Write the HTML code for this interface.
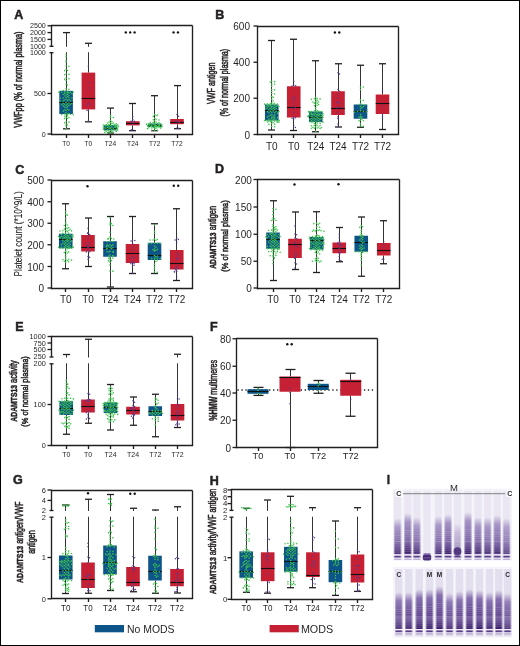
<!DOCTYPE html>
<html><head><meta charset="utf-8"><style>
html,body{margin:0;padding:0;background:#fff;}
#f{position:relative;width:518px;height:644px;border:1px solid #000;overflow:hidden;background:#fff}
svg{position:absolute;left:-1px;top:-1px;will-change:transform}
text{font-family:"Liberation Sans",sans-serif}
</style></head><body><div id="f"><svg width="520" height="646" viewBox="0 0 520 646" font-family="Liberation Sans, sans-serif">
<text x="14.30" y="18.70" font-size="12.5" text-anchor="start" font-weight="bold" fill="#231f20" stroke="#231f20" stroke-width="0.5">A</text>
<line x1="51.50" y1="25.50" x2="192.50" y2="25.50" stroke="#231f20" stroke-width="1.35" />
<line x1="192.50" y1="25.50" x2="192.50" y2="134.50" stroke="#231f20" stroke-width="1.35" />
<line x1="50.83" y1="134.50" x2="193.18" y2="134.50" stroke="#231f20" stroke-width="1.35" />
<line x1="51.50" y1="24.82" x2="51.50" y2="46.30" stroke="#231f20" stroke-width="1.35" />
<line x1="51.50" y1="52.70" x2="51.50" y2="134.50" stroke="#231f20" stroke-width="1.35" />
<line x1="49.50" y1="46.30" x2="53.50" y2="46.30" stroke="#231f20" stroke-width="1.35" />
<line x1="49.50" y1="52.70" x2="53.50" y2="52.70" stroke="#231f20" stroke-width="1.35" />
<line x1="47.50" y1="25.80" x2="51.50" y2="25.80" stroke="#231f20" stroke-width="1.35" />
<text x="45.80" y="28.36" font-size="7.1" text-anchor="end" font-weight="normal" fill="#231f20" >2500</text>
<line x1="47.50" y1="32.60" x2="51.50" y2="32.60" stroke="#231f20" stroke-width="1.35" />
<text x="45.80" y="35.16" font-size="7.1" text-anchor="end" font-weight="normal" fill="#231f20" >2000</text>
<line x1="47.50" y1="39.40" x2="51.50" y2="39.40" stroke="#231f20" stroke-width="1.35" />
<text x="45.80" y="41.96" font-size="7.1" text-anchor="end" font-weight="normal" fill="#231f20" >1500</text>
<text x="45.80" y="48.86" font-size="7.1" text-anchor="end" font-weight="normal" fill="#231f20" >1000</text>
<text x="45.80" y="55.26" font-size="7.1" text-anchor="end" font-weight="normal" fill="#231f20" >1000</text>
<line x1="47.50" y1="93.50" x2="51.50" y2="93.50" stroke="#231f20" stroke-width="1.35" />
<text x="45.80" y="96.06" font-size="7.1" text-anchor="end" font-weight="normal" fill="#231f20" >500</text>
<line x1="47.50" y1="134.00" x2="51.50" y2="134.00" stroke="#231f20" stroke-width="1.35" />
<text x="45.80" y="136.56" font-size="7.1" text-anchor="end" font-weight="normal" fill="#231f20" >0</text>
<line x1="66.50" y1="32.60" x2="66.50" y2="46.80" stroke="#333" stroke-width="1" />
<line x1="66.50" y1="52.20" x2="66.50" y2="90.80" stroke="#333" stroke-width="1" />
<line x1="66.50" y1="114.00" x2="66.50" y2="128.80" stroke="#333" stroke-width="1" />
<line x1="63.00" y1="32.60" x2="70.00" y2="32.60" stroke="#231f20" stroke-width="1.3" />
<line x1="63.00" y1="128.80" x2="70.00" y2="128.80" stroke="#231f20" stroke-width="1.3" />
<rect x="59.30" y="90.80" width="13.60" height="23.20" fill="#0d5489"/>
<line x1="59.30" y1="102.50" x2="72.90" y2="102.50" stroke="#111" stroke-width="1.1" />
<circle cx="66.10" cy="54.78" r="0.8" fill="#3fc44d"/>
<circle cx="66.10" cy="56.72" r="0.8" fill="#3fc44d"/>
<circle cx="66.10" cy="60.39" r="0.8" fill="#3fc44d"/>
<circle cx="66.10" cy="62.22" r="0.8" fill="#3fc44d"/>
<circle cx="66.10" cy="65.98" r="0.8" fill="#3fc44d"/>
<circle cx="68.98" cy="66.34" r="0.8" fill="#3fc44d"/>
<circle cx="66.10" cy="69.28" r="0.8" fill="#3fc44d"/>
<circle cx="67.54" cy="70.52" r="0.8" fill="#3fc44d"/>
<circle cx="64.66" cy="70.71" r="0.8" fill="#3fc44d"/>
<circle cx="66.10" cy="73.79" r="0.8" fill="#3fc44d"/>
<circle cx="68.98" cy="74.41" r="0.8" fill="#3fc44d"/>
<circle cx="64.66" cy="74.70" r="0.8" fill="#3fc44d"/>
<circle cx="66.10" cy="78.11" r="0.8" fill="#3fc44d"/>
<circle cx="68.98" cy="78.68" r="0.8" fill="#3fc44d"/>
<circle cx="64.66" cy="79.36" r="0.8" fill="#3fc44d"/>
<circle cx="66.10" cy="80.76" r="0.8" fill="#3fc44d"/>
<circle cx="66.10" cy="84.28" r="0.8" fill="#3fc44d"/>
<circle cx="67.54" cy="85.06" r="0.8" fill="#3fc44d"/>
<circle cx="66.10" cy="88.60" r="0.8" fill="#3fc44d"/>
<circle cx="68.98" cy="89.29" r="0.8" fill="#3fc44d"/>
<circle cx="66.10" cy="90.25" r="0.8" fill="#3fc44d"/>
<circle cx="63.22" cy="90.51" r="0.8" fill="#3fc44d"/>
<circle cx="67.54" cy="91.67" r="0.8" fill="#3fc44d"/>
<circle cx="64.66" cy="91.88" r="0.8" fill="#3fc44d"/>
<circle cx="70.42" cy="92.15" r="0.8" fill="#3fc44d"/>
<circle cx="61.78" cy="92.18" r="0.8" fill="#3fc44d"/>
<circle cx="73.30" cy="92.26" r="0.8" fill="#3fc44d"/>
<circle cx="58.90" cy="92.42" r="0.8" fill="#3fc44d"/>
<circle cx="66.92" cy="92.48" r="0.8" fill="#3fc44d"/>
<circle cx="68.98" cy="92.90" r="0.8" fill="#3fc44d"/>
<circle cx="64.66" cy="93.53" r="0.8" fill="#3fc44d"/>
<circle cx="71.86" cy="93.67" r="0.8" fill="#3fc44d"/>
<circle cx="67.54" cy="94.15" r="0.8" fill="#3fc44d"/>
<circle cx="63.22" cy="94.30" r="0.8" fill="#3fc44d"/>
<circle cx="66.10" cy="94.99" r="0.8" fill="#3fc44d"/>
<circle cx="68.98" cy="95.58" r="0.8" fill="#3fc44d"/>
<circle cx="64.66" cy="95.98" r="0.8" fill="#3fc44d"/>
<circle cx="67.54" cy="96.46" r="0.8" fill="#3fc44d"/>
<circle cx="66.10" cy="97.52" r="0.8" fill="#3fc44d"/>
<circle cx="68.98" cy="97.75" r="0.8" fill="#3fc44d"/>
<circle cx="63.22" cy="97.96" r="0.8" fill="#3fc44d"/>
<circle cx="71.86" cy="98.09" r="0.8" fill="#3fc44d"/>
<circle cx="60.34" cy="98.31" r="0.8" fill="#3fc44d"/>
<circle cx="66.10" cy="99.28" r="0.8" fill="#3fc44d"/>
<circle cx="68.98" cy="99.44" r="0.8" fill="#3fc44d"/>
<circle cx="64.66" cy="100.00" r="0.8" fill="#3fc44d"/>
<circle cx="67.54" cy="100.65" r="0.8" fill="#3fc44d"/>
<circle cx="63.22" cy="100.72" r="0.8" fill="#3fc44d"/>
<circle cx="70.42" cy="100.86" r="0.8" fill="#3fc44d"/>
<circle cx="60.34" cy="101.31" r="0.8" fill="#3fc44d"/>
<circle cx="66.10" cy="102.57" r="0.8" fill="#3fc44d"/>
<circle cx="68.98" cy="102.98" r="0.8" fill="#3fc44d"/>
<circle cx="63.22" cy="103.23" r="0.8" fill="#3fc44d"/>
<circle cx="71.86" cy="103.51" r="0.8" fill="#3fc44d"/>
<circle cx="67.54" cy="104.13" r="0.8" fill="#3fc44d"/>
<circle cx="64.66" cy="104.19" r="0.8" fill="#3fc44d"/>
<circle cx="70.42" cy="104.29" r="0.8" fill="#3fc44d"/>
<circle cx="61.78" cy="104.39" r="0.8" fill="#3fc44d"/>
<circle cx="66.10" cy="105.36" r="0.8" fill="#3fc44d"/>
<circle cx="68.98" cy="105.62" r="0.8" fill="#3fc44d"/>
<circle cx="63.22" cy="105.90" r="0.8" fill="#3fc44d"/>
<circle cx="67.54" cy="106.59" r="0.8" fill="#3fc44d"/>
<circle cx="64.66" cy="107.02" r="0.8" fill="#3fc44d"/>
<circle cx="66.10" cy="107.72" r="0.8" fill="#3fc44d"/>
<circle cx="67.54" cy="109.23" r="0.8" fill="#3fc44d"/>
<circle cx="64.66" cy="109.73" r="0.8" fill="#3fc44d"/>
<circle cx="68.98" cy="109.98" r="0.8" fill="#3fc44d"/>
<circle cx="66.10" cy="110.72" r="0.8" fill="#3fc44d"/>
<circle cx="63.22" cy="111.10" r="0.8" fill="#3fc44d"/>
<circle cx="66.10" cy="112.79" r="0.8" fill="#3fc44d"/>
<circle cx="68.98" cy="113.45" r="0.8" fill="#3fc44d"/>
<circle cx="64.66" cy="114.05" r="0.8" fill="#3fc44d"/>
<circle cx="67.54" cy="114.21" r="0.8" fill="#3fc44d"/>
<circle cx="70.42" cy="114.34" r="0.8" fill="#3fc44d"/>
<circle cx="61.78" cy="114.59" r="0.8" fill="#3fc44d"/>
<circle cx="73.30" cy="114.69" r="0.8" fill="#3fc44d"/>
<circle cx="66.10" cy="115.02" r="0.8" fill="#3fc44d"/>
<circle cx="67.54" cy="115.82" r="0.8" fill="#3fc44d"/>
<circle cx="64.66" cy="116.25" r="0.8" fill="#3fc44d"/>
<circle cx="66.10" cy="117.55" r="0.8" fill="#3fc44d"/>
<circle cx="68.98" cy="117.62" r="0.8" fill="#3fc44d"/>
<circle cx="67.54" cy="118.46" r="0.8" fill="#3fc44d"/>
<circle cx="64.66" cy="118.64" r="0.8" fill="#3fc44d"/>
<circle cx="66.10" cy="121.70" r="0.8" fill="#3fc44d"/>
<circle cx="68.98" cy="122.09" r="0.8" fill="#3fc44d"/>
<circle cx="64.66" cy="122.70" r="0.8" fill="#3fc44d"/>
<circle cx="66.10" cy="123.97" r="0.8" fill="#3fc44d"/>
<circle cx="67.54" cy="125.03" r="0.8" fill="#3fc44d"/>
<circle cx="66.10" cy="126.04" r="0.8" fill="#3fc44d"/>
<circle cx="66.10" cy="128.65" r="0.8" fill="#3fc44d"/>
<line x1="66.50" y1="134.50" x2="66.50" y2="138.00" stroke="#231f20" stroke-width="1.35" />
<line x1="88.50" y1="43.30" x2="88.50" y2="46.80" stroke="#333" stroke-width="1" />
<line x1="88.50" y1="52.20" x2="88.50" y2="72.60" stroke="#333" stroke-width="1" />
<line x1="88.50" y1="109.40" x2="88.50" y2="121.80" stroke="#333" stroke-width="1" />
<line x1="85.00" y1="43.30" x2="92.00" y2="43.30" stroke="#231f20" stroke-width="1.3" />
<line x1="85.00" y1="121.80" x2="92.00" y2="121.80" stroke="#231f20" stroke-width="1.3" />
<rect x="81.60" y="72.60" width="13.60" height="36.80" fill="#c52033"/>
<line x1="81.60" y1="98.50" x2="95.20" y2="98.50" stroke="#111" stroke-width="1.1" />
<circle cx="88.40" cy="66.30" r="0.75" fill="#5b3a8e"/>
<circle cx="88.40" cy="82.85" r="0.75" fill="#5b3a8e"/>
<circle cx="88.40" cy="87.88" r="0.75" fill="#5b3a8e"/>
<circle cx="88.40" cy="102.75" r="0.75" fill="#5b3a8e"/>
<circle cx="90.02" cy="104.39" r="0.75" fill="#5b3a8e"/>
<circle cx="86.78" cy="105.11" r="0.75" fill="#5b3a8e"/>
<circle cx="88.40" cy="110.13" r="0.75" fill="#5b3a8e"/>
<circle cx="87.06" cy="110.32" r="0.75" fill="#5b3a8e"/>
<circle cx="88.40" cy="121.02" r="0.75" fill="#5b3a8e"/>
<line x1="88.50" y1="134.50" x2="88.50" y2="138.00" stroke="#231f20" stroke-width="1.35" />
<line x1="110.50" y1="108.10" x2="110.50" y2="125.00" stroke="#333" stroke-width="1" />
<line x1="110.50" y1="130.30" x2="110.50" y2="133.00" stroke="#333" stroke-width="1" />
<line x1="107.00" y1="108.10" x2="114.00" y2="108.10" stroke="#231f20" stroke-width="1.3" />
<line x1="107.00" y1="133.00" x2="114.00" y2="133.00" stroke="#231f20" stroke-width="1.3" />
<rect x="103.70" y="125.00" width="13.60" height="5.30" fill="#0d5489"/>
<line x1="103.70" y1="128.50" x2="117.30" y2="128.50" stroke="#111" stroke-width="1.1" />
<circle cx="110.50" cy="115.50" r="0.8" fill="#3fc44d"/>
<circle cx="110.50" cy="117.15" r="0.8" fill="#3fc44d"/>
<circle cx="113.38" cy="117.49" r="0.8" fill="#3fc44d"/>
<circle cx="110.50" cy="120.38" r="0.8" fill="#3fc44d"/>
<circle cx="111.94" cy="121.77" r="0.8" fill="#3fc44d"/>
<circle cx="109.06" cy="121.95" r="0.8" fill="#3fc44d"/>
<circle cx="110.50" cy="122.89" r="0.8" fill="#3fc44d"/>
<circle cx="113.38" cy="123.03" r="0.8" fill="#3fc44d"/>
<circle cx="107.62" cy="123.07" r="0.8" fill="#3fc44d"/>
<circle cx="116.26" cy="123.69" r="0.8" fill="#3fc44d"/>
<circle cx="111.94" cy="123.78" r="0.8" fill="#3fc44d"/>
<circle cx="109.06" cy="124.45" r="0.8" fill="#3fc44d"/>
<circle cx="114.82" cy="124.59" r="0.8" fill="#3fc44d"/>
<circle cx="106.18" cy="124.69" r="0.8" fill="#3fc44d"/>
<circle cx="117.70" cy="124.76" r="0.8" fill="#3fc44d"/>
<circle cx="103.30" cy="125.00" r="0.8" fill="#3fc44d"/>
<circle cx="106.53" cy="125.02" r="0.8" fill="#3fc44d"/>
<circle cx="108.29" cy="125.14" r="0.8" fill="#3fc44d"/>
<circle cx="110.50" cy="125.28" r="0.8" fill="#3fc44d"/>
<circle cx="113.38" cy="125.29" r="0.8" fill="#3fc44d"/>
<circle cx="104.97" cy="125.33" r="0.8" fill="#3fc44d"/>
<circle cx="115.01" cy="125.36" r="0.8" fill="#3fc44d"/>
<circle cx="111.04" cy="125.54" r="0.8" fill="#3fc44d"/>
<circle cx="115.13" cy="125.55" r="0.8" fill="#3fc44d"/>
<circle cx="107.67" cy="125.80" r="0.8" fill="#3fc44d"/>
<circle cx="105.90" cy="125.86" r="0.8" fill="#3fc44d"/>
<circle cx="115.67" cy="126.11" r="0.8" fill="#3fc44d"/>
<circle cx="118.55" cy="126.24" r="0.8" fill="#3fc44d"/>
<circle cx="116.35" cy="126.39" r="0.8" fill="#3fc44d"/>
<circle cx="109.06" cy="126.80" r="0.8" fill="#3fc44d"/>
<circle cx="111.94" cy="126.93" r="0.8" fill="#3fc44d"/>
<circle cx="103.30" cy="126.96" r="0.8" fill="#3fc44d"/>
<circle cx="115.58" cy="127.08" r="0.8" fill="#3fc44d"/>
<circle cx="115.78" cy="127.11" r="0.8" fill="#3fc44d"/>
<circle cx="114.48" cy="127.22" r="0.8" fill="#3fc44d"/>
<circle cx="107.62" cy="127.57" r="0.8" fill="#3fc44d"/>
<circle cx="110.50" cy="127.73" r="0.8" fill="#3fc44d"/>
<circle cx="104.74" cy="128.00" r="0.8" fill="#3fc44d"/>
<circle cx="117.70" cy="128.12" r="0.8" fill="#3fc44d"/>
<circle cx="105.96" cy="128.27" r="0.8" fill="#3fc44d"/>
<circle cx="110.79" cy="128.36" r="0.8" fill="#3fc44d"/>
<circle cx="109.06" cy="128.58" r="0.8" fill="#3fc44d"/>
<circle cx="113.38" cy="128.66" r="0.8" fill="#3fc44d"/>
<circle cx="116.26" cy="129.13" r="0.8" fill="#3fc44d"/>
<circle cx="103.30" cy="129.23" r="0.8" fill="#3fc44d"/>
<circle cx="111.94" cy="129.63" r="0.8" fill="#3fc44d"/>
<circle cx="107.62" cy="129.77" r="0.8" fill="#3fc44d"/>
<circle cx="114.82" cy="130.05" r="0.8" fill="#3fc44d"/>
<circle cx="104.74" cy="130.31" r="0.8" fill="#3fc44d"/>
<circle cx="117.70" cy="130.31" r="0.8" fill="#3fc44d"/>
<circle cx="110.50" cy="130.45" r="0.8" fill="#3fc44d"/>
<circle cx="108.10" cy="130.48" r="0.8" fill="#3fc44d"/>
<circle cx="111.94" cy="131.34" r="0.8" fill="#3fc44d"/>
<circle cx="106.18" cy="131.34" r="0.8" fill="#3fc44d"/>
<circle cx="116.26" cy="131.38" r="0.8" fill="#3fc44d"/>
<circle cx="109.06" cy="131.87" r="0.8" fill="#3fc44d"/>
<circle cx="113.38" cy="132.34" r="0.8" fill="#3fc44d"/>
<circle cx="104.74" cy="132.47" r="0.8" fill="#3fc44d"/>
<circle cx="110.50" cy="132.80" r="0.8" fill="#3fc44d"/>
<circle cx="107.62" cy="132.91" r="0.8" fill="#3fc44d"/>
<line x1="110.50" y1="134.50" x2="110.50" y2="138.00" stroke="#231f20" stroke-width="1.35" />
<line x1="132.50" y1="103.50" x2="132.50" y2="121.20" stroke="#333" stroke-width="1" />
<line x1="132.50" y1="125.40" x2="132.50" y2="130.70" stroke="#333" stroke-width="1" />
<line x1="129.00" y1="103.50" x2="136.00" y2="103.50" stroke="#231f20" stroke-width="1.3" />
<line x1="129.00" y1="130.70" x2="136.00" y2="130.70" stroke="#231f20" stroke-width="1.3" />
<rect x="126.00" y="121.20" width="13.60" height="4.20" fill="#c52033"/>
<line x1="126.00" y1="123.50" x2="139.60" y2="123.50" stroke="#111" stroke-width="1.1" />
<circle cx="132.80" cy="116.71" r="0.75" fill="#5b3a8e"/>
<circle cx="132.80" cy="119.76" r="0.75" fill="#5b3a8e"/>
<circle cx="134.42" cy="121.32" r="0.75" fill="#5b3a8e"/>
<circle cx="131.18" cy="121.32" r="0.75" fill="#5b3a8e"/>
<circle cx="132.80" cy="122.29" r="0.75" fill="#5b3a8e"/>
<circle cx="132.12" cy="122.37" r="0.75" fill="#5b3a8e"/>
<circle cx="132.80" cy="124.11" r="0.75" fill="#5b3a8e"/>
<circle cx="132.80" cy="129.75" r="0.75" fill="#5b3a8e"/>
<circle cx="131.40" cy="129.88" r="0.75" fill="#5b3a8e"/>
<circle cx="131.43" cy="130.11" r="0.75" fill="#5b3a8e"/>
<line x1="132.50" y1="134.50" x2="132.50" y2="138.00" stroke="#231f20" stroke-width="1.35" />
<line x1="154.50" y1="95.70" x2="154.50" y2="123.60" stroke="#333" stroke-width="1" />
<line x1="154.50" y1="127.00" x2="154.50" y2="130.70" stroke="#333" stroke-width="1" />
<line x1="151.00" y1="95.70" x2="158.00" y2="95.70" stroke="#231f20" stroke-width="1.3" />
<line x1="151.00" y1="130.70" x2="158.00" y2="130.70" stroke="#231f20" stroke-width="1.3" />
<rect x="147.90" y="123.60" width="13.60" height="3.40" fill="#0d5489"/>
<line x1="147.90" y1="125.50" x2="161.50" y2="125.50" stroke="#111" stroke-width="1.1" />
<circle cx="154.70" cy="114.42" r="0.8" fill="#3fc44d"/>
<circle cx="157.58" cy="114.94" r="0.8" fill="#3fc44d"/>
<circle cx="156.14" cy="115.79" r="0.8" fill="#3fc44d"/>
<circle cx="153.26" cy="116.39" r="0.8" fill="#3fc44d"/>
<circle cx="154.70" cy="118.57" r="0.8" fill="#3fc44d"/>
<circle cx="156.14" cy="119.29" r="0.8" fill="#3fc44d"/>
<circle cx="153.26" cy="119.70" r="0.8" fill="#3fc44d"/>
<circle cx="159.02" cy="119.93" r="0.8" fill="#3fc44d"/>
<circle cx="154.70" cy="120.86" r="0.8" fill="#3fc44d"/>
<circle cx="156.14" cy="122.08" r="0.8" fill="#3fc44d"/>
<circle cx="153.26" cy="122.39" r="0.8" fill="#3fc44d"/>
<circle cx="159.02" cy="122.47" r="0.8" fill="#3fc44d"/>
<circle cx="150.38" cy="122.67" r="0.8" fill="#3fc44d"/>
<circle cx="154.70" cy="123.14" r="0.8" fill="#3fc44d"/>
<circle cx="157.58" cy="123.58" r="0.8" fill="#3fc44d"/>
<circle cx="151.82" cy="123.89" r="0.8" fill="#3fc44d"/>
<circle cx="160.46" cy="124.03" r="0.8" fill="#3fc44d"/>
<circle cx="148.94" cy="124.10" r="0.8" fill="#3fc44d"/>
<circle cx="155.09" cy="124.11" r="0.8" fill="#3fc44d"/>
<circle cx="146.71" cy="124.18" r="0.8" fill="#3fc44d"/>
<circle cx="153.71" cy="124.21" r="0.8" fill="#3fc44d"/>
<circle cx="149.44" cy="124.27" r="0.8" fill="#3fc44d"/>
<circle cx="146.47" cy="124.29" r="0.8" fill="#3fc44d"/>
<circle cx="159.02" cy="124.73" r="0.8" fill="#3fc44d"/>
<circle cx="161.90" cy="124.79" r="0.8" fill="#3fc44d"/>
<circle cx="159.67" cy="124.95" r="0.8" fill="#3fc44d"/>
<circle cx="149.26" cy="124.96" r="0.8" fill="#3fc44d"/>
<circle cx="154.26" cy="125.23" r="0.8" fill="#3fc44d"/>
<circle cx="158.44" cy="125.23" r="0.8" fill="#3fc44d"/>
<circle cx="156.14" cy="125.72" r="0.8" fill="#3fc44d"/>
<circle cx="151.82" cy="125.82" r="0.8" fill="#3fc44d"/>
<circle cx="147.50" cy="125.83" r="0.8" fill="#3fc44d"/>
<circle cx="155.64" cy="125.85" r="0.8" fill="#3fc44d"/>
<circle cx="151.81" cy="126.06" r="0.8" fill="#3fc44d"/>
<circle cx="155.00" cy="126.15" r="0.8" fill="#3fc44d"/>
<circle cx="155.62" cy="126.26" r="0.8" fill="#3fc44d"/>
<circle cx="159.42" cy="126.28" r="0.8" fill="#3fc44d"/>
<circle cx="148.16" cy="126.32" r="0.8" fill="#3fc44d"/>
<circle cx="155.70" cy="126.32" r="0.8" fill="#3fc44d"/>
<circle cx="150.53" cy="126.34" r="0.8" fill="#3fc44d"/>
<circle cx="161.90" cy="126.41" r="0.8" fill="#3fc44d"/>
<circle cx="151.00" cy="126.46" r="0.8" fill="#3fc44d"/>
<circle cx="157.58" cy="126.66" r="0.8" fill="#3fc44d"/>
<circle cx="159.22" cy="126.68" r="0.8" fill="#3fc44d"/>
<circle cx="154.83" cy="126.69" r="0.8" fill="#3fc44d"/>
<circle cx="155.72" cy="126.82" r="0.8" fill="#3fc44d"/>
<circle cx="159.02" cy="126.90" r="0.8" fill="#3fc44d"/>
<circle cx="161.55" cy="126.93" r="0.8" fill="#3fc44d"/>
<circle cx="153.26" cy="127.18" r="0.8" fill="#3fc44d"/>
<circle cx="153.76" cy="127.49" r="0.8" fill="#3fc44d"/>
<circle cx="148.94" cy="127.78" r="0.8" fill="#3fc44d"/>
<circle cx="151.82" cy="128.00" r="0.8" fill="#3fc44d"/>
<circle cx="156.57" cy="128.01" r="0.8" fill="#3fc44d"/>
<circle cx="160.46" cy="128.15" r="0.8" fill="#3fc44d"/>
<circle cx="154.79" cy="128.31" r="0.8" fill="#3fc44d"/>
<circle cx="154.90" cy="128.44" r="0.8" fill="#3fc44d"/>
<circle cx="147.50" cy="128.65" r="0.8" fill="#3fc44d"/>
<circle cx="154.70" cy="130.18" r="0.8" fill="#3fc44d"/>
<circle cx="157.58" cy="130.21" r="0.8" fill="#3fc44d"/>
<circle cx="151.82" cy="130.25" r="0.8" fill="#3fc44d"/>
<line x1="154.50" y1="134.50" x2="154.50" y2="138.00" stroke="#231f20" stroke-width="1.35" />
<line x1="177.50" y1="85.60" x2="177.50" y2="119.00" stroke="#333" stroke-width="1" />
<line x1="177.50" y1="124.20" x2="177.50" y2="128.70" stroke="#333" stroke-width="1" />
<line x1="174.00" y1="85.60" x2="181.00" y2="85.60" stroke="#231f20" stroke-width="1.3" />
<line x1="174.00" y1="128.70" x2="181.00" y2="128.70" stroke="#231f20" stroke-width="1.3" />
<rect x="170.20" y="119.00" width="13.60" height="5.20" fill="#c52033"/>
<line x1="170.20" y1="122.50" x2="183.80" y2="122.50" stroke="#111" stroke-width="1.1" />
<circle cx="177.00" cy="114.61" r="0.75" fill="#5b3a8e"/>
<circle cx="178.62" cy="116.19" r="0.75" fill="#5b3a8e"/>
<circle cx="177.00" cy="121.35" r="0.75" fill="#5b3a8e"/>
<circle cx="175.80" cy="121.49" r="0.75" fill="#5b3a8e"/>
<circle cx="177.30" cy="121.77" r="0.75" fill="#5b3a8e"/>
<circle cx="179.22" cy="122.60" r="0.75" fill="#5b3a8e"/>
<circle cx="177.00" cy="127.89" r="0.75" fill="#5b3a8e"/>
<circle cx="178.70" cy="128.32" r="0.75" fill="#5b3a8e"/>
<line x1="177.50" y1="134.50" x2="177.50" y2="138.00" stroke="#231f20" stroke-width="1.35" />
<text transform="translate(66.10,145.70) scale(1,1)" font-size="6.6" text-anchor="middle" fill="#231f20">T0</text>
<text transform="translate(88.40,145.70) scale(1,1)" font-size="6.6" text-anchor="middle" fill="#231f20">T0</text>
<text transform="translate(110.50,145.70) scale(1,1)" font-size="6.6" text-anchor="middle" fill="#231f20">T24</text>
<text transform="translate(132.80,145.70) scale(1,1)" font-size="6.6" text-anchor="middle" fill="#231f20">T24</text>
<text transform="translate(154.70,145.70) scale(1,1)" font-size="6.6" text-anchor="middle" fill="#231f20">T72</text>
<text transform="translate(177.00,145.70) scale(1,1)" font-size="6.6" text-anchor="middle" fill="#231f20">T72</text>
<circle cx="125.80" cy="32.40" r="1.2" fill="#111"/>
<circle cx="130.20" cy="32.40" r="1.2" fill="#111"/>
<circle cx="134.60" cy="32.40" r="1.2" fill="#111"/>
<circle cx="173.55" cy="32.40" r="1.2" fill="#111"/>
<circle cx="177.95" cy="32.40" r="1.2" fill="#111"/>
<text x="0" y="0" transform="translate(22.00,79.60) rotate(-90)" font-size="10.5" text-anchor="middle" fill="#231f20" stroke="#231f20" stroke-width="0.5" textLength="96.3" lengthAdjust="spacingAndGlyphs">VWFpp (% of normal plasma)</text>
<text x="215.30" y="18.70" font-size="12.5" text-anchor="start" font-weight="bold" fill="#231f20" stroke="#231f20" stroke-width="0.5">B</text>
<line x1="257.50" y1="26.50" x2="398.50" y2="26.50" stroke="#231f20" stroke-width="1.35" />
<line x1="398.50" y1="26.50" x2="398.50" y2="134.50" stroke="#231f20" stroke-width="1.35" />
<line x1="256.82" y1="134.50" x2="399.18" y2="134.50" stroke="#231f20" stroke-width="1.35" />
<line x1="257.50" y1="25.82" x2="257.50" y2="135.18" stroke="#231f20" stroke-width="1.35" />
<line x1="253.50" y1="26.00" x2="257.50" y2="26.00" stroke="#231f20" stroke-width="1.35" />
<text x="250.00" y="30.20" font-size="10" text-anchor="end" font-weight="normal" fill="#231f20" >600</text>
<line x1="253.50" y1="62.25" x2="257.50" y2="62.25" stroke="#231f20" stroke-width="1.35" />
<text x="250.00" y="66.45" font-size="10" text-anchor="end" font-weight="normal" fill="#231f20" >400</text>
<line x1="253.50" y1="98.25" x2="257.50" y2="98.25" stroke="#231f20" stroke-width="1.35" />
<text x="250.00" y="102.45" font-size="10" text-anchor="end" font-weight="normal" fill="#231f20" >200</text>
<line x1="253.50" y1="134.50" x2="257.50" y2="134.50" stroke="#231f20" stroke-width="1.35" />
<text x="250.00" y="138.70" font-size="10" text-anchor="end" font-weight="normal" fill="#231f20" >0</text>
<line x1="271.50" y1="40.50" x2="271.50" y2="104.50" stroke="#333" stroke-width="1" />
<line x1="271.50" y1="120.50" x2="271.50" y2="130.00" stroke="#333" stroke-width="1" />
<line x1="268.00" y1="40.50" x2="275.00" y2="40.50" stroke="#231f20" stroke-width="1.3" />
<line x1="268.00" y1="130.00" x2="275.00" y2="130.00" stroke="#231f20" stroke-width="1.3" />
<rect x="264.95" y="104.50" width="13.60" height="16.00" fill="#0d5489"/>
<line x1="264.95" y1="110.50" x2="278.55" y2="110.50" stroke="#111" stroke-width="1.1" />
<circle cx="271.75" cy="81.23" r="0.8" fill="#3fc44d"/>
<circle cx="274.63" cy="81.66" r="0.8" fill="#3fc44d"/>
<circle cx="270.31" cy="81.94" r="0.8" fill="#3fc44d"/>
<circle cx="271.75" cy="83.98" r="0.8" fill="#3fc44d"/>
<circle cx="274.63" cy="84.22" r="0.8" fill="#3fc44d"/>
<circle cx="271.75" cy="86.13" r="0.8" fill="#3fc44d"/>
<circle cx="271.75" cy="89.49" r="0.8" fill="#3fc44d"/>
<circle cx="274.63" cy="89.88" r="0.8" fill="#3fc44d"/>
<circle cx="271.75" cy="91.56" r="0.8" fill="#3fc44d"/>
<circle cx="271.75" cy="93.47" r="0.8" fill="#3fc44d"/>
<circle cx="274.63" cy="93.97" r="0.8" fill="#3fc44d"/>
<circle cx="271.75" cy="96.67" r="0.8" fill="#3fc44d"/>
<circle cx="273.19" cy="97.40" r="0.8" fill="#3fc44d"/>
<circle cx="271.75" cy="99.44" r="0.8" fill="#3fc44d"/>
<circle cx="273.19" cy="100.95" r="0.8" fill="#3fc44d"/>
<circle cx="271.75" cy="103.02" r="0.8" fill="#3fc44d"/>
<circle cx="274.63" cy="103.31" r="0.8" fill="#3fc44d"/>
<circle cx="270.31" cy="103.81" r="0.8" fill="#3fc44d"/>
<circle cx="267.43" cy="103.88" r="0.8" fill="#3fc44d"/>
<circle cx="277.51" cy="104.00" r="0.8" fill="#3fc44d"/>
<circle cx="273.19" cy="104.06" r="0.8" fill="#3fc44d"/>
<circle cx="264.55" cy="104.15" r="0.8" fill="#3fc44d"/>
<circle cx="271.75" cy="104.79" r="0.8" fill="#3fc44d"/>
<circle cx="268.87" cy="104.81" r="0.8" fill="#3fc44d"/>
<circle cx="274.63" cy="105.13" r="0.8" fill="#3fc44d"/>
<circle cx="270.31" cy="105.53" r="0.8" fill="#3fc44d"/>
<circle cx="267.43" cy="105.66" r="0.8" fill="#3fc44d"/>
<circle cx="277.51" cy="105.67" r="0.8" fill="#3fc44d"/>
<circle cx="273.19" cy="106.18" r="0.8" fill="#3fc44d"/>
<circle cx="268.87" cy="106.45" r="0.8" fill="#3fc44d"/>
<circle cx="276.07" cy="106.57" r="0.8" fill="#3fc44d"/>
<circle cx="265.99" cy="106.69" r="0.8" fill="#3fc44d"/>
<circle cx="278.95" cy="106.79" r="0.8" fill="#3fc44d"/>
<circle cx="271.75" cy="106.97" r="0.8" fill="#3fc44d"/>
<circle cx="271.33" cy="107.08" r="0.8" fill="#3fc44d"/>
<circle cx="274.63" cy="107.63" r="0.8" fill="#3fc44d"/>
<circle cx="267.43" cy="108.01" r="0.8" fill="#3fc44d"/>
<circle cx="273.19" cy="108.35" r="0.8" fill="#3fc44d"/>
<circle cx="270.31" cy="108.64" r="0.8" fill="#3fc44d"/>
<circle cx="276.07" cy="108.75" r="0.8" fill="#3fc44d"/>
<circle cx="265.99" cy="108.83" r="0.8" fill="#3fc44d"/>
<circle cx="271.75" cy="109.60" r="0.8" fill="#3fc44d"/>
<circle cx="274.63" cy="109.80" r="0.8" fill="#3fc44d"/>
<circle cx="268.87" cy="109.93" r="0.8" fill="#3fc44d"/>
<circle cx="273.19" cy="110.87" r="0.8" fill="#3fc44d"/>
<circle cx="270.31" cy="111.26" r="0.8" fill="#3fc44d"/>
<circle cx="276.07" cy="111.40" r="0.8" fill="#3fc44d"/>
<circle cx="267.43" cy="111.55" r="0.8" fill="#3fc44d"/>
<circle cx="278.95" cy="111.57" r="0.8" fill="#3fc44d"/>
<circle cx="271.75" cy="112.30" r="0.8" fill="#3fc44d"/>
<circle cx="274.63" cy="112.70" r="0.8" fill="#3fc44d"/>
<circle cx="268.87" cy="112.75" r="0.8" fill="#3fc44d"/>
<circle cx="277.51" cy="113.36" r="0.8" fill="#3fc44d"/>
<circle cx="271.75" cy="114.48" r="0.8" fill="#3fc44d"/>
<circle cx="274.63" cy="115.06" r="0.8" fill="#3fc44d"/>
<circle cx="270.31" cy="115.21" r="0.8" fill="#3fc44d"/>
<circle cx="273.19" cy="115.96" r="0.8" fill="#3fc44d"/>
<circle cx="268.87" cy="116.05" r="0.8" fill="#3fc44d"/>
<circle cx="271.75" cy="116.96" r="0.8" fill="#3fc44d"/>
<circle cx="274.63" cy="117.04" r="0.8" fill="#3fc44d"/>
<circle cx="267.43" cy="117.11" r="0.8" fill="#3fc44d"/>
<circle cx="277.51" cy="117.60" r="0.8" fill="#3fc44d"/>
<circle cx="273.19" cy="117.82" r="0.8" fill="#3fc44d"/>
<circle cx="271.75" cy="118.63" r="0.8" fill="#3fc44d"/>
<circle cx="274.63" cy="118.85" r="0.8" fill="#3fc44d"/>
<circle cx="268.87" cy="119.08" r="0.8" fill="#3fc44d"/>
<circle cx="273.19" cy="119.74" r="0.8" fill="#3fc44d"/>
<circle cx="270.31" cy="119.98" r="0.8" fill="#3fc44d"/>
<circle cx="276.07" cy="120.05" r="0.8" fill="#3fc44d"/>
<circle cx="267.43" cy="120.26" r="0.8" fill="#3fc44d"/>
<circle cx="278.95" cy="120.34" r="0.8" fill="#3fc44d"/>
<circle cx="264.55" cy="120.52" r="0.8" fill="#3fc44d"/>
<circle cx="278.97" cy="120.52" r="0.8" fill="#3fc44d"/>
<circle cx="265.21" cy="120.61" r="0.8" fill="#3fc44d"/>
<circle cx="271.75" cy="120.84" r="0.8" fill="#3fc44d"/>
<circle cx="274.63" cy="121.12" r="0.8" fill="#3fc44d"/>
<circle cx="268.87" cy="121.21" r="0.8" fill="#3fc44d"/>
<circle cx="277.51" cy="121.28" r="0.8" fill="#3fc44d"/>
<circle cx="277.04" cy="121.36" r="0.8" fill="#3fc44d"/>
<circle cx="270.62" cy="121.61" r="0.8" fill="#3fc44d"/>
<circle cx="271.67" cy="121.69" r="0.8" fill="#3fc44d"/>
<circle cx="267.43" cy="121.98" r="0.8" fill="#3fc44d"/>
<circle cx="277.30" cy="122.10" r="0.8" fill="#3fc44d"/>
<circle cx="278.95" cy="122.16" r="0.8" fill="#3fc44d"/>
<circle cx="273.19" cy="122.44" r="0.8" fill="#3fc44d"/>
<circle cx="271.75" cy="123.86" r="0.8" fill="#3fc44d"/>
<circle cx="274.63" cy="124.13" r="0.8" fill="#3fc44d"/>
<circle cx="268.87" cy="124.39" r="0.8" fill="#3fc44d"/>
<circle cx="271.75" cy="126.46" r="0.8" fill="#3fc44d"/>
<circle cx="274.63" cy="126.79" r="0.8" fill="#3fc44d"/>
<line x1="271.50" y1="134.50" x2="271.50" y2="138.00" stroke="#231f20" stroke-width="1.35" />
<line x1="293.50" y1="39.25" x2="293.50" y2="86.25" stroke="#333" stroke-width="1" />
<line x1="293.50" y1="117.50" x2="293.50" y2="130.50" stroke="#333" stroke-width="1" />
<line x1="290.00" y1="39.25" x2="297.00" y2="39.25" stroke="#231f20" stroke-width="1.3" />
<line x1="290.00" y1="130.50" x2="297.00" y2="130.50" stroke="#231f20" stroke-width="1.3" />
<rect x="286.95" y="86.25" width="13.60" height="31.25" fill="#c52033"/>
<line x1="286.95" y1="107.50" x2="300.55" y2="107.50" stroke="#111" stroke-width="1.1" />
<circle cx="293.75" cy="81.13" r="0.75" fill="#5b3a8e"/>
<circle cx="293.75" cy="85.08" r="0.75" fill="#5b3a8e"/>
<circle cx="295.60" cy="85.78" r="0.75" fill="#5b3a8e"/>
<circle cx="292.13" cy="85.93" r="0.75" fill="#5b3a8e"/>
<circle cx="293.75" cy="96.96" r="0.75" fill="#5b3a8e"/>
<circle cx="295.37" cy="98.53" r="0.75" fill="#5b3a8e"/>
<circle cx="292.13" cy="98.90" r="0.75" fill="#5b3a8e"/>
<circle cx="293.75" cy="102.08" r="0.75" fill="#5b3a8e"/>
<circle cx="293.75" cy="106.12" r="0.75" fill="#5b3a8e"/>
<circle cx="295.37" cy="107.74" r="0.75" fill="#5b3a8e"/>
<circle cx="292.13" cy="108.34" r="0.75" fill="#5b3a8e"/>
<circle cx="293.75" cy="112.26" r="0.75" fill="#5b3a8e"/>
<circle cx="293.75" cy="116.95" r="0.75" fill="#5b3a8e"/>
<circle cx="295.37" cy="117.82" r="0.75" fill="#5b3a8e"/>
<circle cx="292.13" cy="118.36" r="0.75" fill="#5b3a8e"/>
<circle cx="293.75" cy="119.18" r="0.75" fill="#5b3a8e"/>
<circle cx="293.75" cy="125.79" r="0.75" fill="#5b3a8e"/>
<circle cx="295.37" cy="127.53" r="0.75" fill="#5b3a8e"/>
<line x1="293.50" y1="134.50" x2="293.50" y2="138.00" stroke="#231f20" stroke-width="1.35" />
<line x1="315.50" y1="60.75" x2="315.50" y2="111.50" stroke="#333" stroke-width="1" />
<line x1="315.50" y1="122.00" x2="315.50" y2="131.75" stroke="#333" stroke-width="1" />
<line x1="312.00" y1="60.75" x2="319.00" y2="60.75" stroke="#231f20" stroke-width="1.3" />
<line x1="312.00" y1="131.75" x2="319.00" y2="131.75" stroke="#231f20" stroke-width="1.3" />
<rect x="308.95" y="111.50" width="13.60" height="10.50" fill="#0d5489"/>
<line x1="308.95" y1="117.50" x2="322.55" y2="117.50" stroke="#111" stroke-width="1.1" />
<circle cx="315.75" cy="97.33" r="0.8" fill="#3fc44d"/>
<circle cx="317.19" cy="98.66" r="0.8" fill="#3fc44d"/>
<circle cx="314.31" cy="98.68" r="0.8" fill="#3fc44d"/>
<circle cx="320.07" cy="98.88" r="0.8" fill="#3fc44d"/>
<circle cx="311.43" cy="99.37" r="0.8" fill="#3fc44d"/>
<circle cx="315.75" cy="99.53" r="0.8" fill="#3fc44d"/>
<circle cx="317.19" cy="100.63" r="0.8" fill="#3fc44d"/>
<circle cx="315.75" cy="101.80" r="0.8" fill="#3fc44d"/>
<circle cx="318.63" cy="102.02" r="0.8" fill="#3fc44d"/>
<circle cx="312.87" cy="102.07" r="0.8" fill="#3fc44d"/>
<circle cx="317.19" cy="103.14" r="0.8" fill="#3fc44d"/>
<circle cx="314.31" cy="103.17" r="0.8" fill="#3fc44d"/>
<circle cx="315.75" cy="104.00" r="0.8" fill="#3fc44d"/>
<circle cx="318.63" cy="104.49" r="0.8" fill="#3fc44d"/>
<circle cx="317.19" cy="105.48" r="0.8" fill="#3fc44d"/>
<circle cx="314.31" cy="105.75" r="0.8" fill="#3fc44d"/>
<circle cx="315.75" cy="107.86" r="0.8" fill="#3fc44d"/>
<circle cx="315.75" cy="109.65" r="0.8" fill="#3fc44d"/>
<circle cx="317.19" cy="110.68" r="0.8" fill="#3fc44d"/>
<circle cx="314.31" cy="110.93" r="0.8" fill="#3fc44d"/>
<circle cx="318.63" cy="111.41" r="0.8" fill="#3fc44d"/>
<circle cx="311.43" cy="111.50" r="0.8" fill="#3fc44d"/>
<circle cx="321.51" cy="111.51" r="0.8" fill="#3fc44d"/>
<circle cx="308.55" cy="111.55" r="0.8" fill="#3fc44d"/>
<circle cx="315.75" cy="111.74" r="0.8" fill="#3fc44d"/>
<circle cx="308.74" cy="111.94" r="0.8" fill="#3fc44d"/>
<circle cx="309.90" cy="111.96" r="0.8" fill="#3fc44d"/>
<circle cx="317.19" cy="112.44" r="0.8" fill="#3fc44d"/>
<circle cx="314.31" cy="112.96" r="0.8" fill="#3fc44d"/>
<circle cx="320.07" cy="113.07" r="0.8" fill="#3fc44d"/>
<circle cx="311.43" cy="113.15" r="0.8" fill="#3fc44d"/>
<circle cx="322.95" cy="113.61" r="0.8" fill="#3fc44d"/>
<circle cx="315.75" cy="113.94" r="0.8" fill="#3fc44d"/>
<circle cx="318.63" cy="114.04" r="0.8" fill="#3fc44d"/>
<circle cx="312.87" cy="114.07" r="0.8" fill="#3fc44d"/>
<circle cx="309.99" cy="114.26" r="0.8" fill="#3fc44d"/>
<circle cx="311.67" cy="114.27" r="0.8" fill="#3fc44d"/>
<circle cx="321.51" cy="114.46" r="0.8" fill="#3fc44d"/>
<circle cx="319.79" cy="114.58" r="0.8" fill="#3fc44d"/>
<circle cx="312.50" cy="114.69" r="0.8" fill="#3fc44d"/>
<circle cx="317.19" cy="114.75" r="0.8" fill="#3fc44d"/>
<circle cx="314.31" cy="114.92" r="0.8" fill="#3fc44d"/>
<circle cx="322.95" cy="115.24" r="0.8" fill="#3fc44d"/>
<circle cx="308.55" cy="115.51" r="0.8" fill="#3fc44d"/>
<circle cx="316.87" cy="115.59" r="0.8" fill="#3fc44d"/>
<circle cx="318.63" cy="115.69" r="0.8" fill="#3fc44d"/>
<circle cx="311.43" cy="116.18" r="0.8" fill="#3fc44d"/>
<circle cx="321.51" cy="116.32" r="0.8" fill="#3fc44d"/>
<circle cx="307.66" cy="116.48" r="0.8" fill="#3fc44d"/>
<circle cx="315.75" cy="116.78" r="0.8" fill="#3fc44d"/>
<circle cx="308.46" cy="116.80" r="0.8" fill="#3fc44d"/>
<circle cx="312.87" cy="117.00" r="0.8" fill="#3fc44d"/>
<circle cx="320.07" cy="117.06" r="0.8" fill="#3fc44d"/>
<circle cx="322.95" cy="117.24" r="0.8" fill="#3fc44d"/>
<circle cx="317.19" cy="117.65" r="0.8" fill="#3fc44d"/>
<circle cx="314.31" cy="118.09" r="0.8" fill="#3fc44d"/>
<circle cx="311.43" cy="118.25" r="0.8" fill="#3fc44d"/>
<circle cx="318.63" cy="118.40" r="0.8" fill="#3fc44d"/>
<circle cx="321.51" cy="118.54" r="0.8" fill="#3fc44d"/>
<circle cx="315.75" cy="119.02" r="0.8" fill="#3fc44d"/>
<circle cx="312.87" cy="119.10" r="0.8" fill="#3fc44d"/>
<circle cx="309.99" cy="119.21" r="0.8" fill="#3fc44d"/>
<circle cx="320.07" cy="119.38" r="0.8" fill="#3fc44d"/>
<circle cx="317.19" cy="120.03" r="0.8" fill="#3fc44d"/>
<circle cx="314.31" cy="120.27" r="0.8" fill="#3fc44d"/>
<circle cx="318.63" cy="120.73" r="0.8" fill="#3fc44d"/>
<circle cx="311.43" cy="120.87" r="0.8" fill="#3fc44d"/>
<circle cx="315.75" cy="121.60" r="0.8" fill="#3fc44d"/>
<circle cx="312.87" cy="121.64" r="0.8" fill="#3fc44d"/>
<circle cx="320.07" cy="121.71" r="0.8" fill="#3fc44d"/>
<circle cx="309.99" cy="121.84" r="0.8" fill="#3fc44d"/>
<circle cx="322.95" cy="122.17" r="0.8" fill="#3fc44d"/>
<circle cx="311.91" cy="122.20" r="0.8" fill="#3fc44d"/>
<circle cx="317.19" cy="122.91" r="0.8" fill="#3fc44d"/>
<circle cx="314.31" cy="123.23" r="0.8" fill="#3fc44d"/>
<circle cx="320.07" cy="123.33" r="0.8" fill="#3fc44d"/>
<circle cx="315.75" cy="124.31" r="0.8" fill="#3fc44d"/>
<circle cx="317.19" cy="125.23" r="0.8" fill="#3fc44d"/>
<circle cx="314.31" cy="125.38" r="0.8" fill="#3fc44d"/>
<circle cx="320.07" cy="125.48" r="0.8" fill="#3fc44d"/>
<circle cx="311.43" cy="125.82" r="0.8" fill="#3fc44d"/>
<circle cx="315.75" cy="126.73" r="0.8" fill="#3fc44d"/>
<circle cx="318.63" cy="127.02" r="0.8" fill="#3fc44d"/>
<circle cx="312.87" cy="127.22" r="0.8" fill="#3fc44d"/>
<circle cx="321.51" cy="127.51" r="0.8" fill="#3fc44d"/>
<circle cx="317.19" cy="128.07" r="0.8" fill="#3fc44d"/>
<circle cx="314.31" cy="128.17" r="0.8" fill="#3fc44d"/>
<circle cx="311.43" cy="128.20" r="0.8" fill="#3fc44d"/>
<circle cx="320.07" cy="128.55" r="0.8" fill="#3fc44d"/>
<circle cx="315.75" cy="131.40" r="0.8" fill="#3fc44d"/>
<line x1="315.50" y1="134.50" x2="315.50" y2="138.00" stroke="#231f20" stroke-width="1.35" />
<line x1="338.50" y1="63.75" x2="338.50" y2="91.25" stroke="#333" stroke-width="1" />
<line x1="338.50" y1="115.00" x2="338.50" y2="127.00" stroke="#333" stroke-width="1" />
<line x1="335.00" y1="63.75" x2="342.00" y2="63.75" stroke="#231f20" stroke-width="1.3" />
<line x1="335.00" y1="127.00" x2="342.00" y2="127.00" stroke="#231f20" stroke-width="1.3" />
<rect x="331.20" y="91.25" width="13.60" height="23.75" fill="#c52033"/>
<line x1="331.20" y1="108.50" x2="344.80" y2="108.50" stroke="#111" stroke-width="1.1" />
<circle cx="338.00" cy="72.87" r="0.75" fill="#5b3a8e"/>
<circle cx="339.62" cy="74.04" r="0.75" fill="#5b3a8e"/>
<circle cx="338.00" cy="89.56" r="0.75" fill="#5b3a8e"/>
<circle cx="339.62" cy="91.21" r="0.75" fill="#5b3a8e"/>
<circle cx="338.00" cy="94.06" r="0.75" fill="#5b3a8e"/>
<circle cx="338.00" cy="98.16" r="0.75" fill="#5b3a8e"/>
<circle cx="338.00" cy="102.29" r="0.75" fill="#5b3a8e"/>
<circle cx="336.55" cy="102.33" r="0.75" fill="#5b3a8e"/>
<circle cx="339.62" cy="103.52" r="0.75" fill="#5b3a8e"/>
<circle cx="338.00" cy="107.21" r="0.75" fill="#5b3a8e"/>
<circle cx="340.23" cy="107.30" r="0.75" fill="#5b3a8e"/>
<circle cx="336.55" cy="107.69" r="0.75" fill="#5b3a8e"/>
<circle cx="338.00" cy="112.47" r="0.75" fill="#5b3a8e"/>
<circle cx="338.00" cy="116.67" r="0.75" fill="#5b3a8e"/>
<circle cx="338.00" cy="118.62" r="0.75" fill="#5b3a8e"/>
<circle cx="338.41" cy="118.73" r="0.75" fill="#5b3a8e"/>
<circle cx="338.00" cy="123.91" r="0.75" fill="#5b3a8e"/>
<circle cx="338.00" cy="126.43" r="0.75" fill="#5b3a8e"/>
<line x1="338.50" y1="134.50" x2="338.50" y2="138.00" stroke="#231f20" stroke-width="1.35" />
<line x1="360.50" y1="65.25" x2="360.50" y2="104.50" stroke="#333" stroke-width="1" />
<line x1="360.50" y1="118.75" x2="360.50" y2="127.25" stroke="#333" stroke-width="1" />
<line x1="357.00" y1="65.25" x2="364.00" y2="65.25" stroke="#231f20" stroke-width="1.3" />
<line x1="357.00" y1="127.25" x2="364.00" y2="127.25" stroke="#231f20" stroke-width="1.3" />
<rect x="353.70" y="104.50" width="13.60" height="14.25" fill="#0d5489"/>
<line x1="353.70" y1="111.50" x2="367.30" y2="111.50" stroke="#111" stroke-width="1.1" />
<circle cx="360.50" cy="86.94" r="0.8" fill="#3fc44d"/>
<circle cx="363.38" cy="86.97" r="0.8" fill="#3fc44d"/>
<circle cx="360.50" cy="89.67" r="0.8" fill="#3fc44d"/>
<circle cx="360.50" cy="99.90" r="0.8" fill="#3fc44d"/>
<circle cx="363.38" cy="100.45" r="0.8" fill="#3fc44d"/>
<circle cx="360.50" cy="103.30" r="0.8" fill="#3fc44d"/>
<circle cx="361.94" cy="104.50" r="0.8" fill="#3fc44d"/>
<circle cx="359.06" cy="104.55" r="0.8" fill="#3fc44d"/>
<circle cx="364.82" cy="104.85" r="0.8" fill="#3fc44d"/>
<circle cx="360.50" cy="106.39" r="0.8" fill="#3fc44d"/>
<circle cx="363.38" cy="106.52" r="0.8" fill="#3fc44d"/>
<circle cx="361.94" cy="107.80" r="0.8" fill="#3fc44d"/>
<circle cx="360.50" cy="108.80" r="0.8" fill="#3fc44d"/>
<circle cx="360.50" cy="110.92" r="0.8" fill="#3fc44d"/>
<circle cx="363.38" cy="111.43" r="0.8" fill="#3fc44d"/>
<circle cx="357.62" cy="111.51" r="0.8" fill="#3fc44d"/>
<circle cx="366.26" cy="111.75" r="0.8" fill="#3fc44d"/>
<circle cx="354.74" cy="111.97" r="0.8" fill="#3fc44d"/>
<circle cx="360.50" cy="114.52" r="0.8" fill="#3fc44d"/>
<circle cx="360.50" cy="116.19" r="0.8" fill="#3fc44d"/>
<circle cx="361.94" cy="117.14" r="0.8" fill="#3fc44d"/>
<circle cx="359.06" cy="117.29" r="0.8" fill="#3fc44d"/>
<circle cx="360.50" cy="118.08" r="0.8" fill="#3fc44d"/>
<circle cx="361.94" cy="119.10" r="0.8" fill="#3fc44d"/>
<circle cx="360.50" cy="120.08" r="0.8" fill="#3fc44d"/>
<circle cx="363.38" cy="120.68" r="0.8" fill="#3fc44d"/>
<circle cx="359.06" cy="120.84" r="0.8" fill="#3fc44d"/>
<circle cx="360.50" cy="123.87" r="0.8" fill="#3fc44d"/>
<circle cx="360.50" cy="126.03" r="0.8" fill="#3fc44d"/>
<circle cx="363.38" cy="126.33" r="0.8" fill="#3fc44d"/>
<line x1="360.50" y1="134.50" x2="360.50" y2="138.00" stroke="#231f20" stroke-width="1.35" />
<line x1="382.50" y1="63.75" x2="382.50" y2="94.50" stroke="#333" stroke-width="1" />
<line x1="382.50" y1="114.00" x2="382.50" y2="129.50" stroke="#333" stroke-width="1" />
<line x1="379.00" y1="63.75" x2="386.00" y2="63.75" stroke="#231f20" stroke-width="1.3" />
<line x1="379.00" y1="129.50" x2="386.00" y2="129.50" stroke="#231f20" stroke-width="1.3" />
<rect x="375.70" y="94.50" width="13.60" height="19.50" fill="#c52033"/>
<line x1="375.70" y1="103.50" x2="389.30" y2="103.50" stroke="#111" stroke-width="1.1" />
<circle cx="382.50" cy="91.12" r="0.75" fill="#5b3a8e"/>
<circle cx="382.50" cy="105.99" r="0.75" fill="#5b3a8e"/>
<circle cx="382.50" cy="113.98" r="0.75" fill="#5b3a8e"/>
<circle cx="382.50" cy="116.24" r="0.75" fill="#5b3a8e"/>
<circle cx="382.50" cy="118.34" r="0.75" fill="#5b3a8e"/>
<line x1="382.50" y1="134.50" x2="382.50" y2="138.00" stroke="#231f20" stroke-width="1.35" />
<text transform="translate(271.75,149.60) scale(1,1)" font-size="10" text-anchor="middle" fill="#231f20">T0</text>
<text transform="translate(293.75,149.60) scale(1,1)" font-size="10" text-anchor="middle" fill="#231f20">T0</text>
<text transform="translate(315.75,149.60) scale(1,1)" font-size="10" text-anchor="middle" fill="#231f20">T24</text>
<text transform="translate(338.00,149.60) scale(1,1)" font-size="10" text-anchor="middle" fill="#231f20">T24</text>
<text transform="translate(360.50,149.60) scale(1,1)" font-size="10" text-anchor="middle" fill="#231f20">T72</text>
<text transform="translate(382.50,149.60) scale(1,1)" font-size="10" text-anchor="middle" fill="#231f20">T72</text>
<circle cx="334.90" cy="32.50" r="1.2" fill="#111"/>
<circle cx="339.30" cy="32.50" r="1.2" fill="#111"/>
<text x="0" y="0" transform="translate(215.40,83.20) rotate(-90)" font-size="10" text-anchor="middle" fill="#231f20" stroke="#231f20" stroke-width="0.5" textLength="41.6" lengthAdjust="spacingAndGlyphs">VWF antigen</text>
<text x="0" y="0" transform="translate(228.20,82.70) rotate(-90)" font-size="10" text-anchor="middle" fill="#231f20" stroke="#231f20" stroke-width="0.5" textLength="67.8" lengthAdjust="spacingAndGlyphs">(% of normal plasma)</text>
<text x="15.30" y="174.30" font-size="12.5" text-anchor="start" font-weight="bold" fill="#231f20" stroke="#231f20" stroke-width="0.5">C</text>
<line x1="51.50" y1="180.50" x2="192.50" y2="180.50" stroke="#231f20" stroke-width="1.35" />
<line x1="192.50" y1="180.50" x2="192.50" y2="288.50" stroke="#231f20" stroke-width="1.35" />
<line x1="50.83" y1="288.50" x2="193.18" y2="288.50" stroke="#231f20" stroke-width="1.35" />
<line x1="51.50" y1="179.82" x2="51.50" y2="289.18" stroke="#231f20" stroke-width="1.35" />
<line x1="47.50" y1="180.00" x2="51.50" y2="180.00" stroke="#231f20" stroke-width="1.35" />
<text x="44.00" y="184.20" font-size="10" text-anchor="end" font-weight="normal" fill="#231f20" >500</text>
<line x1="47.50" y1="201.75" x2="51.50" y2="201.75" stroke="#231f20" stroke-width="1.35" />
<text x="44.00" y="205.95" font-size="10" text-anchor="end" font-weight="normal" fill="#231f20" >400</text>
<line x1="47.50" y1="223.25" x2="51.50" y2="223.25" stroke="#231f20" stroke-width="1.35" />
<text x="44.00" y="227.45" font-size="10" text-anchor="end" font-weight="normal" fill="#231f20" >300</text>
<line x1="47.50" y1="244.75" x2="51.50" y2="244.75" stroke="#231f20" stroke-width="1.35" />
<text x="44.00" y="248.95" font-size="10" text-anchor="end" font-weight="normal" fill="#231f20" >200</text>
<line x1="47.50" y1="266.50" x2="51.50" y2="266.50" stroke="#231f20" stroke-width="1.35" />
<text x="44.00" y="270.70" font-size="10" text-anchor="end" font-weight="normal" fill="#231f20" >100</text>
<line x1="47.50" y1="288.00" x2="51.50" y2="288.00" stroke="#231f20" stroke-width="1.35" />
<text x="44.00" y="292.20" font-size="10" text-anchor="end" font-weight="normal" fill="#231f20" >0</text>
<line x1="65.50" y1="203.75" x2="65.50" y2="233.75" stroke="#333" stroke-width="1" />
<line x1="65.50" y1="248.25" x2="65.50" y2="268.75" stroke="#333" stroke-width="1" />
<line x1="62.00" y1="203.75" x2="69.00" y2="203.75" stroke="#231f20" stroke-width="1.3" />
<line x1="62.00" y1="268.75" x2="69.00" y2="268.75" stroke="#231f20" stroke-width="1.3" />
<rect x="58.95" y="233.75" width="13.60" height="14.50" fill="#0d5489"/>
<line x1="58.95" y1="239.50" x2="72.55" y2="239.50" stroke="#111" stroke-width="1.1" />
<circle cx="65.75" cy="211.67" r="0.8" fill="#3fc44d"/>
<circle cx="65.75" cy="214.36" r="0.8" fill="#3fc44d"/>
<circle cx="67.19" cy="215.15" r="0.8" fill="#3fc44d"/>
<circle cx="65.75" cy="218.69" r="0.8" fill="#3fc44d"/>
<circle cx="65.75" cy="222.16" r="0.8" fill="#3fc44d"/>
<circle cx="65.75" cy="223.78" r="0.8" fill="#3fc44d"/>
<circle cx="67.19" cy="224.95" r="0.8" fill="#3fc44d"/>
<circle cx="64.31" cy="225.46" r="0.8" fill="#3fc44d"/>
<circle cx="65.75" cy="227.57" r="0.8" fill="#3fc44d"/>
<circle cx="68.63" cy="227.60" r="0.8" fill="#3fc44d"/>
<circle cx="67.19" cy="228.38" r="0.8" fill="#3fc44d"/>
<circle cx="64.31" cy="229.11" r="0.8" fill="#3fc44d"/>
<circle cx="70.07" cy="229.19" r="0.8" fill="#3fc44d"/>
<circle cx="65.75" cy="230.36" r="0.8" fill="#3fc44d"/>
<circle cx="68.63" cy="230.48" r="0.8" fill="#3fc44d"/>
<circle cx="62.87" cy="230.70" r="0.8" fill="#3fc44d"/>
<circle cx="71.51" cy="230.88" r="0.8" fill="#3fc44d"/>
<circle cx="59.99" cy="231.04" r="0.8" fill="#3fc44d"/>
<circle cx="67.19" cy="231.42" r="0.8" fill="#3fc44d"/>
<circle cx="65.75" cy="232.71" r="0.8" fill="#3fc44d"/>
<circle cx="68.63" cy="233.11" r="0.8" fill="#3fc44d"/>
<circle cx="62.87" cy="233.39" r="0.8" fill="#3fc44d"/>
<circle cx="65.75" cy="234.45" r="0.8" fill="#3fc44d"/>
<circle cx="70.07" cy="234.46" r="0.8" fill="#3fc44d"/>
<circle cx="61.43" cy="234.47" r="0.8" fill="#3fc44d"/>
<circle cx="72.95" cy="235.07" r="0.8" fill="#3fc44d"/>
<circle cx="67.19" cy="235.22" r="0.8" fill="#3fc44d"/>
<circle cx="64.31" cy="235.60" r="0.8" fill="#3fc44d"/>
<circle cx="71.51" cy="235.77" r="0.8" fill="#3fc44d"/>
<circle cx="68.63" cy="236.09" r="0.8" fill="#3fc44d"/>
<circle cx="61.43" cy="236.18" r="0.8" fill="#3fc44d"/>
<circle cx="65.75" cy="236.50" r="0.8" fill="#3fc44d"/>
<circle cx="58.55" cy="236.54" r="0.8" fill="#3fc44d"/>
<circle cx="72.95" cy="236.76" r="0.8" fill="#3fc44d"/>
<circle cx="62.87" cy="236.94" r="0.8" fill="#3fc44d"/>
<circle cx="67.19" cy="237.37" r="0.8" fill="#3fc44d"/>
<circle cx="70.07" cy="237.52" r="0.8" fill="#3fc44d"/>
<circle cx="59.99" cy="237.60" r="0.8" fill="#3fc44d"/>
<circle cx="64.31" cy="237.89" r="0.8" fill="#3fc44d"/>
<circle cx="60.01" cy="237.90" r="0.8" fill="#3fc44d"/>
<circle cx="66.12" cy="238.07" r="0.8" fill="#3fc44d"/>
<circle cx="68.77" cy="238.11" r="0.8" fill="#3fc44d"/>
<circle cx="62.87" cy="238.73" r="0.8" fill="#3fc44d"/>
<circle cx="70.07" cy="239.16" r="0.8" fill="#3fc44d"/>
<circle cx="67.19" cy="239.47" r="0.8" fill="#3fc44d"/>
<circle cx="65.75" cy="240.27" r="0.8" fill="#3fc44d"/>
<circle cx="68.63" cy="240.29" r="0.8" fill="#3fc44d"/>
<circle cx="62.87" cy="240.60" r="0.8" fill="#3fc44d"/>
<circle cx="71.51" cy="240.96" r="0.8" fill="#3fc44d"/>
<circle cx="67.19" cy="241.16" r="0.8" fill="#3fc44d"/>
<circle cx="64.31" cy="241.71" r="0.8" fill="#3fc44d"/>
<circle cx="70.07" cy="241.83" r="0.8" fill="#3fc44d"/>
<circle cx="65.75" cy="242.90" r="0.8" fill="#3fc44d"/>
<circle cx="68.63" cy="243.10" r="0.8" fill="#3fc44d"/>
<circle cx="62.87" cy="243.26" r="0.8" fill="#3fc44d"/>
<circle cx="67.19" cy="244.18" r="0.8" fill="#3fc44d"/>
<circle cx="64.31" cy="244.37" r="0.8" fill="#3fc44d"/>
<circle cx="70.07" cy="244.47" r="0.8" fill="#3fc44d"/>
<circle cx="61.43" cy="244.66" r="0.8" fill="#3fc44d"/>
<circle cx="65.75" cy="245.52" r="0.8" fill="#3fc44d"/>
<circle cx="68.63" cy="245.85" r="0.8" fill="#3fc44d"/>
<circle cx="67.19" cy="246.57" r="0.8" fill="#3fc44d"/>
<circle cx="64.31" cy="246.89" r="0.8" fill="#3fc44d"/>
<circle cx="70.07" cy="246.89" r="0.8" fill="#3fc44d"/>
<circle cx="61.43" cy="246.99" r="0.8" fill="#3fc44d"/>
<circle cx="72.95" cy="247.19" r="0.8" fill="#3fc44d"/>
<circle cx="58.55" cy="247.32" r="0.8" fill="#3fc44d"/>
<circle cx="73.08" cy="247.39" r="0.8" fill="#3fc44d"/>
<circle cx="65.75" cy="247.61" r="0.8" fill="#3fc44d"/>
<circle cx="68.63" cy="247.91" r="0.8" fill="#3fc44d"/>
<circle cx="62.87" cy="248.20" r="0.8" fill="#3fc44d"/>
<circle cx="71.51" cy="248.25" r="0.8" fill="#3fc44d"/>
<circle cx="59.99" cy="248.30" r="0.8" fill="#3fc44d"/>
<circle cx="69.43" cy="248.33" r="0.8" fill="#3fc44d"/>
<circle cx="67.19" cy="248.77" r="0.8" fill="#3fc44d"/>
<circle cx="65.75" cy="250.05" r="0.8" fill="#3fc44d"/>
<circle cx="65.75" cy="251.80" r="0.8" fill="#3fc44d"/>
<circle cx="68.63" cy="251.91" r="0.8" fill="#3fc44d"/>
<circle cx="64.31" cy="252.57" r="0.8" fill="#3fc44d"/>
<circle cx="67.19" cy="252.97" r="0.8" fill="#3fc44d"/>
<circle cx="65.75" cy="254.77" r="0.8" fill="#3fc44d"/>
<circle cx="65.75" cy="256.92" r="0.8" fill="#3fc44d"/>
<circle cx="65.75" cy="259.13" r="0.8" fill="#3fc44d"/>
<circle cx="68.63" cy="259.59" r="0.8" fill="#3fc44d"/>
<circle cx="62.87" cy="259.72" r="0.8" fill="#3fc44d"/>
<circle cx="71.51" cy="260.08" r="0.8" fill="#3fc44d"/>
<circle cx="67.19" cy="260.54" r="0.8" fill="#3fc44d"/>
<circle cx="64.31" cy="261.19" r="0.8" fill="#3fc44d"/>
<circle cx="68.63" cy="261.76" r="0.8" fill="#3fc44d"/>
<circle cx="65.75" cy="262.15" r="0.8" fill="#3fc44d"/>
<line x1="65.50" y1="288.50" x2="65.50" y2="292.00" stroke="#231f20" stroke-width="1.35" />
<line x1="88.50" y1="218.00" x2="88.50" y2="235.00" stroke="#333" stroke-width="1" />
<line x1="88.50" y1="251.50" x2="88.50" y2="266.50" stroke="#333" stroke-width="1" />
<line x1="85.00" y1="218.00" x2="92.00" y2="218.00" stroke="#231f20" stroke-width="1.3" />
<line x1="85.00" y1="266.50" x2="92.00" y2="266.50" stroke="#231f20" stroke-width="1.3" />
<rect x="81.20" y="235.00" width="13.60" height="16.50" fill="#c52033"/>
<line x1="81.20" y1="247.50" x2="94.80" y2="247.50" stroke="#111" stroke-width="1.1" />
<circle cx="88.00" cy="228.30" r="0.75" fill="#5b3a8e"/>
<circle cx="88.00" cy="232.79" r="0.75" fill="#5b3a8e"/>
<circle cx="87.44" cy="233.33" r="0.75" fill="#5b3a8e"/>
<circle cx="89.62" cy="234.40" r="0.75" fill="#5b3a8e"/>
<circle cx="88.00" cy="235.65" r="0.75" fill="#5b3a8e"/>
<circle cx="88.00" cy="238.84" r="0.75" fill="#5b3a8e"/>
<circle cx="88.00" cy="242.55" r="0.75" fill="#5b3a8e"/>
<circle cx="89.62" cy="244.10" r="0.75" fill="#5b3a8e"/>
<circle cx="88.00" cy="245.65" r="0.75" fill="#5b3a8e"/>
<circle cx="86.62" cy="245.68" r="0.75" fill="#5b3a8e"/>
<circle cx="88.00" cy="247.62" r="0.75" fill="#5b3a8e"/>
<circle cx="88.51" cy="247.91" r="0.75" fill="#5b3a8e"/>
<circle cx="88.00" cy="250.18" r="0.75" fill="#5b3a8e"/>
<circle cx="89.62" cy="251.75" r="0.75" fill="#5b3a8e"/>
<circle cx="86.38" cy="252.00" r="0.75" fill="#5b3a8e"/>
<circle cx="88.00" cy="256.51" r="0.75" fill="#5b3a8e"/>
<circle cx="89.62" cy="257.37" r="0.75" fill="#5b3a8e"/>
<circle cx="88.00" cy="259.21" r="0.75" fill="#5b3a8e"/>
<line x1="88.50" y1="288.50" x2="88.50" y2="292.00" stroke="#231f20" stroke-width="1.35" />
<line x1="110.50" y1="216.50" x2="110.50" y2="241.25" stroke="#333" stroke-width="1" />
<line x1="110.50" y1="256.75" x2="110.50" y2="287.00" stroke="#333" stroke-width="1" />
<line x1="107.00" y1="216.50" x2="114.00" y2="216.50" stroke="#231f20" stroke-width="1.3" />
<line x1="107.00" y1="287.00" x2="114.00" y2="287.00" stroke="#231f20" stroke-width="1.3" />
<rect x="103.20" y="241.25" width="13.60" height="15.50" fill="#0d5489"/>
<line x1="103.20" y1="248.50" x2="116.80" y2="248.50" stroke="#111" stroke-width="1.1" />
<circle cx="110.00" cy="217.61" r="0.8" fill="#3fc44d"/>
<circle cx="110.00" cy="222.87" r="0.8" fill="#3fc44d"/>
<circle cx="111.44" cy="223.64" r="0.8" fill="#3fc44d"/>
<circle cx="110.00" cy="224.84" r="0.8" fill="#3fc44d"/>
<circle cx="112.88" cy="225.52" r="0.8" fill="#3fc44d"/>
<circle cx="110.00" cy="232.37" r="0.8" fill="#3fc44d"/>
<circle cx="110.00" cy="236.94" r="0.8" fill="#3fc44d"/>
<circle cx="111.44" cy="238.51" r="0.8" fill="#3fc44d"/>
<circle cx="108.56" cy="238.67" r="0.8" fill="#3fc44d"/>
<circle cx="107.70" cy="238.95" r="0.8" fill="#3fc44d"/>
<circle cx="113.79" cy="239.07" r="0.8" fill="#3fc44d"/>
<circle cx="110.00" cy="241.41" r="0.8" fill="#3fc44d"/>
<circle cx="112.88" cy="241.59" r="0.8" fill="#3fc44d"/>
<circle cx="107.12" cy="241.78" r="0.8" fill="#3fc44d"/>
<circle cx="110.00" cy="244.77" r="0.8" fill="#3fc44d"/>
<circle cx="112.88" cy="244.89" r="0.8" fill="#3fc44d"/>
<circle cx="107.12" cy="245.08" r="0.8" fill="#3fc44d"/>
<circle cx="107.14" cy="245.24" r="0.8" fill="#3fc44d"/>
<circle cx="111.44" cy="245.92" r="0.8" fill="#3fc44d"/>
<circle cx="108.56" cy="246.01" r="0.8" fill="#3fc44d"/>
<circle cx="106.41" cy="246.49" r="0.8" fill="#3fc44d"/>
<circle cx="110.00" cy="247.76" r="0.8" fill="#3fc44d"/>
<circle cx="112.88" cy="247.77" r="0.8" fill="#3fc44d"/>
<circle cx="107.12" cy="248.39" r="0.8" fill="#3fc44d"/>
<circle cx="111.44" cy="248.62" r="0.8" fill="#3fc44d"/>
<circle cx="106.48" cy="248.97" r="0.8" fill="#3fc44d"/>
<circle cx="110.00" cy="251.24" r="0.8" fill="#3fc44d"/>
<circle cx="112.88" cy="251.59" r="0.8" fill="#3fc44d"/>
<circle cx="107.12" cy="251.70" r="0.8" fill="#3fc44d"/>
<circle cx="109.15" cy="251.83" r="0.8" fill="#3fc44d"/>
<circle cx="113.19" cy="252.17" r="0.8" fill="#3fc44d"/>
<circle cx="110.00" cy="254.95" r="0.8" fill="#3fc44d"/>
<circle cx="112.88" cy="255.59" r="0.8" fill="#3fc44d"/>
<circle cx="108.56" cy="256.11" r="0.8" fill="#3fc44d"/>
<circle cx="113.07" cy="256.14" r="0.8" fill="#3fc44d"/>
<circle cx="110.00" cy="257.62" r="0.8" fill="#3fc44d"/>
<circle cx="112.88" cy="258.01" r="0.8" fill="#3fc44d"/>
<circle cx="108.56" cy="258.39" r="0.8" fill="#3fc44d"/>
<circle cx="110.00" cy="259.23" r="0.8" fill="#3fc44d"/>
<circle cx="111.44" cy="260.58" r="0.8" fill="#3fc44d"/>
<circle cx="108.56" cy="260.92" r="0.8" fill="#3fc44d"/>
<circle cx="110.00" cy="262.16" r="0.8" fill="#3fc44d"/>
<circle cx="110.00" cy="265.16" r="0.8" fill="#3fc44d"/>
<circle cx="110.00" cy="271.07" r="0.8" fill="#3fc44d"/>
<circle cx="112.88" cy="271.15" r="0.8" fill="#3fc44d"/>
<line x1="110.50" y1="288.50" x2="110.50" y2="292.00" stroke="#231f20" stroke-width="1.35" />
<line x1="132.50" y1="216.50" x2="132.50" y2="244.00" stroke="#333" stroke-width="1" />
<line x1="132.50" y1="263.00" x2="132.50" y2="273.50" stroke="#333" stroke-width="1" />
<line x1="129.00" y1="216.50" x2="136.00" y2="216.50" stroke="#231f20" stroke-width="1.3" />
<line x1="129.00" y1="273.50" x2="136.00" y2="273.50" stroke="#231f20" stroke-width="1.3" />
<rect x="125.70" y="244.00" width="13.60" height="19.00" fill="#c52033"/>
<line x1="125.70" y1="253.50" x2="139.30" y2="253.50" stroke="#111" stroke-width="1.1" />
<circle cx="132.50" cy="240.46" r="0.75" fill="#5b3a8e"/>
<circle cx="134.82" cy="240.53" r="0.75" fill="#5b3a8e"/>
<circle cx="131.04" cy="241.10" r="0.75" fill="#5b3a8e"/>
<circle cx="132.50" cy="242.94" r="0.75" fill="#5b3a8e"/>
<circle cx="134.12" cy="244.61" r="0.75" fill="#5b3a8e"/>
<circle cx="132.50" cy="247.52" r="0.75" fill="#5b3a8e"/>
<circle cx="132.50" cy="250.26" r="0.75" fill="#5b3a8e"/>
<circle cx="132.50" cy="256.62" r="0.75" fill="#5b3a8e"/>
<circle cx="134.12" cy="257.92" r="0.75" fill="#5b3a8e"/>
<circle cx="130.88" cy="258.18" r="0.75" fill="#5b3a8e"/>
<circle cx="132.50" cy="261.70" r="0.75" fill="#5b3a8e"/>
<circle cx="131.78" cy="261.78" r="0.75" fill="#5b3a8e"/>
<circle cx="134.12" cy="262.95" r="0.75" fill="#5b3a8e"/>
<circle cx="134.11" cy="263.00" r="0.75" fill="#5b3a8e"/>
<circle cx="130.88" cy="263.46" r="0.75" fill="#5b3a8e"/>
<circle cx="132.50" cy="264.55" r="0.75" fill="#5b3a8e"/>
<circle cx="134.11" cy="265.19" r="0.75" fill="#5b3a8e"/>
<circle cx="132.50" cy="272.81" r="0.75" fill="#5b3a8e"/>
<line x1="132.50" y1="288.50" x2="132.50" y2="292.00" stroke="#231f20" stroke-width="1.35" />
<line x1="154.50" y1="223.75" x2="154.50" y2="242.75" stroke="#333" stroke-width="1" />
<line x1="154.50" y1="260.00" x2="154.50" y2="273.50" stroke="#333" stroke-width="1" />
<line x1="151.00" y1="223.75" x2="158.00" y2="223.75" stroke="#231f20" stroke-width="1.3" />
<line x1="151.00" y1="273.50" x2="158.00" y2="273.50" stroke="#231f20" stroke-width="1.3" />
<rect x="147.70" y="242.75" width="13.60" height="17.25" fill="#0d5489"/>
<line x1="147.70" y1="255.50" x2="161.30" y2="255.50" stroke="#111" stroke-width="1.1" />
<circle cx="154.50" cy="224.94" r="0.8" fill="#3fc44d"/>
<circle cx="154.50" cy="231.22" r="0.8" fill="#3fc44d"/>
<circle cx="154.50" cy="233.54" r="0.8" fill="#3fc44d"/>
<circle cx="154.50" cy="239.00" r="0.8" fill="#3fc44d"/>
<circle cx="157.38" cy="239.37" r="0.8" fill="#3fc44d"/>
<circle cx="153.06" cy="240.00" r="0.8" fill="#3fc44d"/>
<circle cx="150.18" cy="240.05" r="0.8" fill="#3fc44d"/>
<circle cx="155.94" cy="240.20" r="0.8" fill="#3fc44d"/>
<circle cx="154.50" cy="243.27" r="0.8" fill="#3fc44d"/>
<circle cx="157.38" cy="243.35" r="0.8" fill="#3fc44d"/>
<circle cx="151.62" cy="243.45" r="0.8" fill="#3fc44d"/>
<circle cx="160.26" cy="243.60" r="0.8" fill="#3fc44d"/>
<circle cx="148.74" cy="243.83" r="0.8" fill="#3fc44d"/>
<circle cx="154.50" cy="246.08" r="0.8" fill="#3fc44d"/>
<circle cx="155.94" cy="247.18" r="0.8" fill="#3fc44d"/>
<circle cx="154.50" cy="249.03" r="0.8" fill="#3fc44d"/>
<circle cx="157.38" cy="249.18" r="0.8" fill="#3fc44d"/>
<circle cx="153.06" cy="249.84" r="0.8" fill="#3fc44d"/>
<circle cx="155.94" cy="250.21" r="0.8" fill="#3fc44d"/>
<circle cx="154.50" cy="250.92" r="0.8" fill="#3fc44d"/>
<circle cx="154.50" cy="255.64" r="0.8" fill="#3fc44d"/>
<circle cx="157.38" cy="255.98" r="0.8" fill="#3fc44d"/>
<circle cx="155.94" cy="256.75" r="0.8" fill="#3fc44d"/>
<circle cx="154.50" cy="258.22" r="0.8" fill="#3fc44d"/>
<circle cx="157.38" cy="258.25" r="0.8" fill="#3fc44d"/>
<circle cx="151.62" cy="258.61" r="0.8" fill="#3fc44d"/>
<circle cx="160.26" cy="258.62" r="0.8" fill="#3fc44d"/>
<circle cx="154.50" cy="260.00" r="0.8" fill="#3fc44d"/>
<circle cx="157.38" cy="260.05" r="0.8" fill="#3fc44d"/>
<circle cx="155.94" cy="261.53" r="0.8" fill="#3fc44d"/>
<circle cx="154.50" cy="264.42" r="0.8" fill="#3fc44d"/>
<circle cx="154.50" cy="266.81" r="0.8" fill="#3fc44d"/>
<circle cx="154.50" cy="268.87" r="0.8" fill="#3fc44d"/>
<circle cx="154.50" cy="271.84" r="0.8" fill="#3fc44d"/>
<circle cx="157.38" cy="272.37" r="0.8" fill="#3fc44d"/>
<line x1="154.50" y1="288.50" x2="154.50" y2="292.00" stroke="#231f20" stroke-width="1.35" />
<line x1="176.50" y1="208.75" x2="176.50" y2="250.00" stroke="#333" stroke-width="1" />
<line x1="176.50" y1="269.50" x2="176.50" y2="280.50" stroke="#333" stroke-width="1" />
<line x1="173.00" y1="208.75" x2="180.00" y2="208.75" stroke="#231f20" stroke-width="1.3" />
<line x1="173.00" y1="280.50" x2="180.00" y2="280.50" stroke="#231f20" stroke-width="1.3" />
<rect x="169.95" y="250.00" width="13.60" height="19.50" fill="#c52033"/>
<line x1="169.95" y1="263.50" x2="183.55" y2="263.50" stroke="#111" stroke-width="1.1" />
<circle cx="176.75" cy="238.36" r="0.75" fill="#5b3a8e"/>
<circle cx="178.37" cy="239.40" r="0.75" fill="#5b3a8e"/>
<circle cx="175.13" cy="240.10" r="0.75" fill="#5b3a8e"/>
<circle cx="176.75" cy="242.62" r="0.75" fill="#5b3a8e"/>
<circle cx="176.75" cy="253.57" r="0.75" fill="#5b3a8e"/>
<circle cx="178.37" cy="254.90" r="0.75" fill="#5b3a8e"/>
<circle cx="176.75" cy="257.54" r="0.75" fill="#5b3a8e"/>
<circle cx="178.37" cy="258.38" r="0.75" fill="#5b3a8e"/>
<circle cx="176.75" cy="259.62" r="0.75" fill="#5b3a8e"/>
<circle cx="176.75" cy="265.65" r="0.75" fill="#5b3a8e"/>
<circle cx="176.75" cy="268.10" r="0.75" fill="#5b3a8e"/>
<circle cx="175.24" cy="268.60" r="0.75" fill="#5b3a8e"/>
<circle cx="178.01" cy="268.66" r="0.75" fill="#5b3a8e"/>
<circle cx="175.49" cy="269.74" r="0.75" fill="#5b3a8e"/>
<circle cx="176.75" cy="271.49" r="0.75" fill="#5b3a8e"/>
<circle cx="174.57" cy="271.56" r="0.75" fill="#5b3a8e"/>
<circle cx="174.42" cy="271.89" r="0.75" fill="#5b3a8e"/>
<circle cx="176.75" cy="277.11" r="0.75" fill="#5b3a8e"/>
<line x1="176.50" y1="288.50" x2="176.50" y2="292.00" stroke="#231f20" stroke-width="1.35" />
<text transform="translate(65.75,302.80) scale(1,1)" font-size="10" text-anchor="middle" fill="#231f20">T0</text>
<text transform="translate(88.00,302.80) scale(1,1)" font-size="10" text-anchor="middle" fill="#231f20">T0</text>
<text transform="translate(110.00,302.80) scale(1,1)" font-size="10" text-anchor="middle" fill="#231f20">T24</text>
<text transform="translate(132.50,302.80) scale(1,1)" font-size="10" text-anchor="middle" fill="#231f20">T24</text>
<text transform="translate(154.50,302.80) scale(1,1)" font-size="10" text-anchor="middle" fill="#231f20">T72</text>
<text transform="translate(176.75,302.80) scale(1,1)" font-size="10" text-anchor="middle" fill="#231f20">T72</text>
<circle cx="87.50" cy="186.20" r="1.2" fill="#111"/>
<circle cx="173.80" cy="185.80" r="1.2" fill="#111"/>
<circle cx="178.20" cy="185.80" r="1.2" fill="#111"/>
<text x="0" y="0" transform="translate(22.10,233.80) rotate(-90)" font-size="10.3" text-anchor="middle" fill="#231f20" stroke="#231f20" stroke-width="0.12" textLength="85.2" lengthAdjust="spacingAndGlyphs">Platelet count (*10^9/L)</text>
<text x="215.00" y="173.30" font-size="12.5" text-anchor="start" font-weight="bold" fill="#231f20" stroke="#231f20" stroke-width="0.5">D</text>
<line x1="257.50" y1="179.50" x2="399.50" y2="179.50" stroke="#231f20" stroke-width="1.35" />
<line x1="399.50" y1="179.50" x2="399.50" y2="288.50" stroke="#231f20" stroke-width="1.35" />
<line x1="256.82" y1="288.50" x2="400.18" y2="288.50" stroke="#231f20" stroke-width="1.35" />
<line x1="257.50" y1="178.82" x2="257.50" y2="289.18" stroke="#231f20" stroke-width="1.35" />
<line x1="253.50" y1="179.50" x2="257.50" y2="179.50" stroke="#231f20" stroke-width="1.35" />
<text x="251.80" y="183.70" font-size="10" text-anchor="end" font-weight="normal" fill="#231f20" >200</text>
<line x1="253.50" y1="207.00" x2="257.50" y2="207.00" stroke="#231f20" stroke-width="1.35" />
<text x="251.80" y="211.20" font-size="10" text-anchor="end" font-weight="normal" fill="#231f20" >150</text>
<line x1="253.50" y1="234.25" x2="257.50" y2="234.25" stroke="#231f20" stroke-width="1.35" />
<text x="251.80" y="238.45" font-size="10" text-anchor="end" font-weight="normal" fill="#231f20" >100</text>
<line x1="253.50" y1="261.25" x2="257.50" y2="261.25" stroke="#231f20" stroke-width="1.35" />
<text x="251.80" y="265.45" font-size="10" text-anchor="end" font-weight="normal" fill="#231f20" >50</text>
<line x1="253.50" y1="288.00" x2="257.50" y2="288.00" stroke="#231f20" stroke-width="1.35" />
<text x="251.80" y="292.20" font-size="10" text-anchor="end" font-weight="normal" fill="#231f20" >0</text>
<line x1="273.50" y1="200.75" x2="273.50" y2="232.50" stroke="#333" stroke-width="1" />
<line x1="273.50" y1="248.75" x2="273.50" y2="280.50" stroke="#333" stroke-width="1" />
<line x1="270.00" y1="200.75" x2="277.00" y2="200.75" stroke="#231f20" stroke-width="1.3" />
<line x1="270.00" y1="280.50" x2="277.00" y2="280.50" stroke="#231f20" stroke-width="1.3" />
<rect x="266.20" y="232.50" width="13.60" height="16.25" fill="#0d5489"/>
<line x1="266.20" y1="239.50" x2="279.80" y2="239.50" stroke="#111" stroke-width="1.1" />
<circle cx="273.00" cy="208.59" r="0.8" fill="#3fc44d"/>
<circle cx="275.88" cy="209.18" r="0.8" fill="#3fc44d"/>
<circle cx="273.00" cy="211.54" r="0.8" fill="#3fc44d"/>
<circle cx="273.00" cy="214.67" r="0.8" fill="#3fc44d"/>
<circle cx="273.00" cy="217.97" r="0.8" fill="#3fc44d"/>
<circle cx="274.44" cy="218.82" r="0.8" fill="#3fc44d"/>
<circle cx="273.00" cy="219.81" r="0.8" fill="#3fc44d"/>
<circle cx="275.88" cy="220.43" r="0.8" fill="#3fc44d"/>
<circle cx="271.56" cy="220.53" r="0.8" fill="#3fc44d"/>
<circle cx="273.00" cy="224.67" r="0.8" fill="#3fc44d"/>
<circle cx="273.00" cy="226.60" r="0.8" fill="#3fc44d"/>
<circle cx="275.88" cy="226.68" r="0.8" fill="#3fc44d"/>
<circle cx="274.44" cy="227.63" r="0.8" fill="#3fc44d"/>
<circle cx="273.00" cy="229.05" r="0.8" fill="#3fc44d"/>
<circle cx="275.88" cy="229.15" r="0.8" fill="#3fc44d"/>
<circle cx="274.44" cy="229.86" r="0.8" fill="#3fc44d"/>
<circle cx="271.56" cy="230.10" r="0.8" fill="#3fc44d"/>
<circle cx="277.32" cy="230.11" r="0.8" fill="#3fc44d"/>
<circle cx="268.68" cy="230.43" r="0.8" fill="#3fc44d"/>
<circle cx="273.00" cy="231.12" r="0.8" fill="#3fc44d"/>
<circle cx="275.88" cy="231.61" r="0.8" fill="#3fc44d"/>
<circle cx="274.44" cy="232.47" r="0.8" fill="#3fc44d"/>
<circle cx="271.56" cy="233.16" r="0.8" fill="#3fc44d"/>
<circle cx="273.00" cy="233.87" r="0.8" fill="#3fc44d"/>
<circle cx="275.88" cy="234.07" r="0.8" fill="#3fc44d"/>
<circle cx="270.12" cy="234.16" r="0.8" fill="#3fc44d"/>
<circle cx="278.76" cy="234.44" r="0.8" fill="#3fc44d"/>
<circle cx="267.24" cy="234.47" r="0.8" fill="#3fc44d"/>
<circle cx="274.44" cy="234.99" r="0.8" fill="#3fc44d"/>
<circle cx="271.56" cy="235.58" r="0.8" fill="#3fc44d"/>
<circle cx="275.88" cy="235.74" r="0.8" fill="#3fc44d"/>
<circle cx="268.68" cy="236.26" r="0.8" fill="#3fc44d"/>
<circle cx="273.00" cy="236.31" r="0.8" fill="#3fc44d"/>
<circle cx="277.32" cy="236.49" r="0.8" fill="#3fc44d"/>
<circle cx="280.20" cy="236.52" r="0.8" fill="#3fc44d"/>
<circle cx="265.80" cy="236.80" r="0.8" fill="#3fc44d"/>
<circle cx="274.44" cy="237.27" r="0.8" fill="#3fc44d"/>
<circle cx="271.56" cy="237.27" r="0.8" fill="#3fc44d"/>
<circle cx="278.76" cy="237.79" r="0.8" fill="#3fc44d"/>
<circle cx="267.24" cy="237.80" r="0.8" fill="#3fc44d"/>
<circle cx="273.00" cy="238.56" r="0.8" fill="#3fc44d"/>
<circle cx="275.88" cy="238.94" r="0.8" fill="#3fc44d"/>
<circle cx="271.56" cy="239.27" r="0.8" fill="#3fc44d"/>
<circle cx="274.44" cy="239.76" r="0.8" fill="#3fc44d"/>
<circle cx="270.12" cy="240.21" r="0.8" fill="#3fc44d"/>
<circle cx="273.00" cy="240.60" r="0.8" fill="#3fc44d"/>
<circle cx="275.88" cy="240.74" r="0.8" fill="#3fc44d"/>
<circle cx="274.44" cy="241.48" r="0.8" fill="#3fc44d"/>
<circle cx="271.56" cy="241.71" r="0.8" fill="#3fc44d"/>
<circle cx="277.32" cy="241.90" r="0.8" fill="#3fc44d"/>
<circle cx="268.68" cy="241.98" r="0.8" fill="#3fc44d"/>
<circle cx="273.00" cy="242.58" r="0.8" fill="#3fc44d"/>
<circle cx="275.88" cy="243.12" r="0.8" fill="#3fc44d"/>
<circle cx="270.12" cy="243.30" r="0.8" fill="#3fc44d"/>
<circle cx="278.76" cy="243.45" r="0.8" fill="#3fc44d"/>
<circle cx="274.44" cy="244.03" r="0.8" fill="#3fc44d"/>
<circle cx="271.56" cy="244.49" r="0.8" fill="#3fc44d"/>
<circle cx="277.32" cy="244.65" r="0.8" fill="#3fc44d"/>
<circle cx="273.00" cy="245.64" r="0.8" fill="#3fc44d"/>
<circle cx="275.88" cy="245.81" r="0.8" fill="#3fc44d"/>
<circle cx="270.12" cy="246.16" r="0.8" fill="#3fc44d"/>
<circle cx="278.76" cy="246.16" r="0.8" fill="#3fc44d"/>
<circle cx="267.24" cy="246.26" r="0.8" fill="#3fc44d"/>
<circle cx="274.44" cy="246.86" r="0.8" fill="#3fc44d"/>
<circle cx="271.56" cy="246.87" r="0.8" fill="#3fc44d"/>
<circle cx="277.32" cy="247.36" r="0.8" fill="#3fc44d"/>
<circle cx="273.00" cy="248.31" r="0.8" fill="#3fc44d"/>
<circle cx="275.88" cy="248.43" r="0.8" fill="#3fc44d"/>
<circle cx="270.12" cy="248.55" r="0.8" fill="#3fc44d"/>
<circle cx="278.76" cy="248.60" r="0.8" fill="#3fc44d"/>
<circle cx="267.24" cy="248.63" r="0.8" fill="#3fc44d"/>
<circle cx="271.61" cy="249.01" r="0.8" fill="#3fc44d"/>
<circle cx="274.44" cy="249.20" r="0.8" fill="#3fc44d"/>
<circle cx="279.05" cy="249.27" r="0.8" fill="#3fc44d"/>
<circle cx="277.32" cy="249.83" r="0.8" fill="#3fc44d"/>
<circle cx="273.00" cy="250.24" r="0.8" fill="#3fc44d"/>
<circle cx="274.44" cy="251.20" r="0.8" fill="#3fc44d"/>
<circle cx="271.56" cy="251.52" r="0.8" fill="#3fc44d"/>
<circle cx="277.32" cy="251.58" r="0.8" fill="#3fc44d"/>
<circle cx="268.68" cy="251.59" r="0.8" fill="#3fc44d"/>
<circle cx="280.20" cy="252.22" r="0.8" fill="#3fc44d"/>
<circle cx="273.00" cy="252.79" r="0.8" fill="#3fc44d"/>
<circle cx="275.88" cy="253.01" r="0.8" fill="#3fc44d"/>
<circle cx="273.00" cy="255.34" r="0.8" fill="#3fc44d"/>
<circle cx="275.88" cy="255.38" r="0.8" fill="#3fc44d"/>
<circle cx="270.12" cy="255.68" r="0.8" fill="#3fc44d"/>
<circle cx="273.00" cy="257.05" r="0.8" fill="#3fc44d"/>
<circle cx="274.44" cy="258.17" r="0.8" fill="#3fc44d"/>
<circle cx="273.00" cy="260.27" r="0.8" fill="#3fc44d"/>
<circle cx="273.00" cy="263.87" r="0.8" fill="#3fc44d"/>
<line x1="273.50" y1="288.50" x2="273.50" y2="292.00" stroke="#231f20" stroke-width="1.35" />
<line x1="295.50" y1="212.00" x2="295.50" y2="238.75" stroke="#333" stroke-width="1" />
<line x1="295.50" y1="258.00" x2="295.50" y2="269.50" stroke="#333" stroke-width="1" />
<line x1="292.00" y1="212.00" x2="299.00" y2="212.00" stroke="#231f20" stroke-width="1.3" />
<line x1="292.00" y1="269.50" x2="299.00" y2="269.50" stroke="#231f20" stroke-width="1.3" />
<rect x="288.20" y="238.75" width="13.60" height="19.25" fill="#c52033"/>
<line x1="288.20" y1="244.50" x2="301.80" y2="244.50" stroke="#111" stroke-width="1.1" />
<circle cx="295.00" cy="225.98" r="0.75" fill="#5b3a8e"/>
<circle cx="295.00" cy="233.93" r="0.75" fill="#5b3a8e"/>
<circle cx="296.62" cy="234.76" r="0.75" fill="#5b3a8e"/>
<circle cx="295.00" cy="237.74" r="0.75" fill="#5b3a8e"/>
<circle cx="296.62" cy="238.86" r="0.75" fill="#5b3a8e"/>
<circle cx="295.00" cy="242.55" r="0.75" fill="#5b3a8e"/>
<circle cx="295.61" cy="242.67" r="0.75" fill="#5b3a8e"/>
<circle cx="295.00" cy="245.75" r="0.75" fill="#5b3a8e"/>
<circle cx="296.62" cy="246.91" r="0.75" fill="#5b3a8e"/>
<circle cx="295.00" cy="252.76" r="0.75" fill="#5b3a8e"/>
<circle cx="296.62" cy="254.54" r="0.75" fill="#5b3a8e"/>
<circle cx="295.00" cy="256.11" r="0.75" fill="#5b3a8e"/>
<circle cx="295.00" cy="257.93" r="0.75" fill="#5b3a8e"/>
<circle cx="294.35" cy="258.02" r="0.75" fill="#5b3a8e"/>
<circle cx="295.02" cy="258.31" r="0.75" fill="#5b3a8e"/>
<circle cx="295.00" cy="262.71" r="0.75" fill="#5b3a8e"/>
<circle cx="296.62" cy="263.90" r="0.75" fill="#5b3a8e"/>
<circle cx="295.00" cy="267.98" r="0.75" fill="#5b3a8e"/>
<line x1="295.50" y1="288.50" x2="295.50" y2="292.00" stroke="#231f20" stroke-width="1.35" />
<line x1="316.50" y1="211.75" x2="316.50" y2="237.00" stroke="#333" stroke-width="1" />
<line x1="316.50" y1="249.50" x2="316.50" y2="272.50" stroke="#333" stroke-width="1" />
<line x1="313.00" y1="211.75" x2="320.00" y2="211.75" stroke="#231f20" stroke-width="1.3" />
<line x1="313.00" y1="272.50" x2="320.00" y2="272.50" stroke="#231f20" stroke-width="1.3" />
<rect x="309.95" y="237.00" width="13.60" height="12.50" fill="#0d5489"/>
<line x1="309.95" y1="240.50" x2="323.55" y2="240.50" stroke="#111" stroke-width="1.1" />
<circle cx="316.75" cy="223.22" r="0.8" fill="#3fc44d"/>
<circle cx="319.63" cy="223.29" r="0.8" fill="#3fc44d"/>
<circle cx="313.87" cy="223.66" r="0.8" fill="#3fc44d"/>
<circle cx="318.19" cy="224.44" r="0.8" fill="#3fc44d"/>
<circle cx="316.75" cy="226.85" r="0.8" fill="#3fc44d"/>
<circle cx="319.63" cy="227.26" r="0.8" fill="#3fc44d"/>
<circle cx="316.75" cy="229.68" r="0.8" fill="#3fc44d"/>
<circle cx="319.63" cy="229.71" r="0.8" fill="#3fc44d"/>
<circle cx="313.87" cy="230.15" r="0.8" fill="#3fc44d"/>
<circle cx="318.19" cy="230.49" r="0.8" fill="#3fc44d"/>
<circle cx="321.07" cy="230.80" r="0.8" fill="#3fc44d"/>
<circle cx="315.31" cy="231.12" r="0.8" fill="#3fc44d"/>
<circle cx="312.43" cy="231.20" r="0.8" fill="#3fc44d"/>
<circle cx="323.95" cy="231.35" r="0.8" fill="#3fc44d"/>
<circle cx="316.75" cy="234.72" r="0.8" fill="#3fc44d"/>
<circle cx="318.19" cy="235.48" r="0.8" fill="#3fc44d"/>
<circle cx="315.31" cy="236.08" r="0.8" fill="#3fc44d"/>
<circle cx="319.63" cy="236.30" r="0.8" fill="#3fc44d"/>
<circle cx="312.43" cy="236.44" r="0.8" fill="#3fc44d"/>
<circle cx="322.51" cy="236.53" r="0.8" fill="#3fc44d"/>
<circle cx="316.75" cy="236.84" r="0.8" fill="#3fc44d"/>
<circle cx="309.55" cy="236.93" r="0.8" fill="#3fc44d"/>
<circle cx="313.87" cy="237.48" r="0.8" fill="#3fc44d"/>
<circle cx="321.07" cy="237.51" r="0.8" fill="#3fc44d"/>
<circle cx="318.19" cy="237.67" r="0.8" fill="#3fc44d"/>
<circle cx="315.31" cy="238.36" r="0.8" fill="#3fc44d"/>
<circle cx="319.63" cy="238.47" r="0.8" fill="#3fc44d"/>
<circle cx="312.43" cy="238.54" r="0.8" fill="#3fc44d"/>
<circle cx="322.51" cy="238.58" r="0.8" fill="#3fc44d"/>
<circle cx="309.55" cy="238.82" r="0.8" fill="#3fc44d"/>
<circle cx="321.00" cy="239.00" r="0.8" fill="#3fc44d"/>
<circle cx="316.75" cy="239.29" r="0.8" fill="#3fc44d"/>
<circle cx="313.87" cy="239.47" r="0.8" fill="#3fc44d"/>
<circle cx="310.99" cy="239.73" r="0.8" fill="#3fc44d"/>
<circle cx="323.95" cy="239.78" r="0.8" fill="#3fc44d"/>
<circle cx="318.19" cy="240.09" r="0.8" fill="#3fc44d"/>
<circle cx="315.31" cy="240.54" r="0.8" fill="#3fc44d"/>
<circle cx="319.63" cy="240.83" r="0.8" fill="#3fc44d"/>
<circle cx="316.75" cy="241.79" r="0.8" fill="#3fc44d"/>
<circle cx="313.87" cy="241.85" r="0.8" fill="#3fc44d"/>
<circle cx="321.07" cy="242.00" r="0.8" fill="#3fc44d"/>
<circle cx="310.99" cy="242.06" r="0.8" fill="#3fc44d"/>
<circle cx="323.95" cy="242.25" r="0.8" fill="#3fc44d"/>
<circle cx="311.09" cy="242.32" r="0.8" fill="#3fc44d"/>
<circle cx="318.19" cy="242.58" r="0.8" fill="#3fc44d"/>
<circle cx="315.31" cy="243.03" r="0.8" fill="#3fc44d"/>
<circle cx="322.51" cy="243.13" r="0.8" fill="#3fc44d"/>
<circle cx="319.63" cy="243.47" r="0.8" fill="#3fc44d"/>
<circle cx="312.43" cy="243.51" r="0.8" fill="#3fc44d"/>
<circle cx="316.75" cy="243.88" r="0.8" fill="#3fc44d"/>
<circle cx="323.95" cy="244.03" r="0.8" fill="#3fc44d"/>
<circle cx="313.87" cy="244.28" r="0.8" fill="#3fc44d"/>
<circle cx="321.07" cy="244.49" r="0.8" fill="#3fc44d"/>
<circle cx="318.19" cy="244.75" r="0.8" fill="#3fc44d"/>
<circle cx="310.99" cy="244.84" r="0.8" fill="#3fc44d"/>
<circle cx="315.31" cy="245.24" r="0.8" fill="#3fc44d"/>
<circle cx="316.75" cy="246.06" r="0.8" fill="#3fc44d"/>
<circle cx="319.63" cy="246.47" r="0.8" fill="#3fc44d"/>
<circle cx="313.87" cy="246.82" r="0.8" fill="#3fc44d"/>
<circle cx="322.51" cy="247.06" r="0.8" fill="#3fc44d"/>
<circle cx="318.19" cy="247.31" r="0.8" fill="#3fc44d"/>
<circle cx="310.99" cy="247.36" r="0.8" fill="#3fc44d"/>
<circle cx="323.33" cy="247.48" r="0.8" fill="#3fc44d"/>
<circle cx="315.31" cy="247.58" r="0.8" fill="#3fc44d"/>
<circle cx="319.63" cy="248.22" r="0.8" fill="#3fc44d"/>
<circle cx="316.75" cy="248.30" r="0.8" fill="#3fc44d"/>
<circle cx="313.87" cy="248.57" r="0.8" fill="#3fc44d"/>
<circle cx="309.55" cy="248.58" r="0.8" fill="#3fc44d"/>
<circle cx="313.01" cy="248.79" r="0.8" fill="#3fc44d"/>
<circle cx="318.19" cy="249.09" r="0.8" fill="#3fc44d"/>
<circle cx="321.07" cy="249.19" r="0.8" fill="#3fc44d"/>
<circle cx="315.31" cy="249.66" r="0.8" fill="#3fc44d"/>
<circle cx="310.99" cy="249.71" r="0.8" fill="#3fc44d"/>
<circle cx="319.63" cy="250.13" r="0.8" fill="#3fc44d"/>
<circle cx="322.51" cy="250.34" r="0.8" fill="#3fc44d"/>
<circle cx="316.75" cy="250.57" r="0.8" fill="#3fc44d"/>
<circle cx="318.19" cy="252.10" r="0.8" fill="#3fc44d"/>
<circle cx="315.31" cy="252.40" r="0.8" fill="#3fc44d"/>
<circle cx="316.75" cy="253.81" r="0.8" fill="#3fc44d"/>
<circle cx="319.63" cy="253.97" r="0.8" fill="#3fc44d"/>
<circle cx="316.75" cy="257.33" r="0.8" fill="#3fc44d"/>
<circle cx="318.19" cy="258.25" r="0.8" fill="#3fc44d"/>
<circle cx="315.31" cy="258.70" r="0.8" fill="#3fc44d"/>
<circle cx="316.75" cy="259.42" r="0.8" fill="#3fc44d"/>
<circle cx="318.19" cy="260.46" r="0.8" fill="#3fc44d"/>
<circle cx="315.31" cy="260.72" r="0.8" fill="#3fc44d"/>
<circle cx="321.07" cy="261.09" r="0.8" fill="#3fc44d"/>
<circle cx="312.43" cy="261.20" r="0.8" fill="#3fc44d"/>
<circle cx="316.75" cy="261.66" r="0.8" fill="#3fc44d"/>
<circle cx="319.63" cy="261.93" r="0.8" fill="#3fc44d"/>
<line x1="316.50" y1="288.50" x2="316.50" y2="292.00" stroke="#231f20" stroke-width="1.35" />
<line x1="339.50" y1="227.50" x2="339.50" y2="242.50" stroke="#333" stroke-width="1" />
<line x1="339.50" y1="253.25" x2="339.50" y2="261.75" stroke="#333" stroke-width="1" />
<line x1="336.00" y1="227.50" x2="343.00" y2="227.50" stroke="#231f20" stroke-width="1.3" />
<line x1="336.00" y1="261.75" x2="343.00" y2="261.75" stroke="#231f20" stroke-width="1.3" />
<rect x="332.45" y="242.50" width="13.60" height="10.75" fill="#c52033"/>
<line x1="332.45" y1="248.50" x2="346.05" y2="248.50" stroke="#111" stroke-width="1.1" />
<circle cx="339.25" cy="234.71" r="0.75" fill="#5b3a8e"/>
<circle cx="339.25" cy="237.68" r="0.75" fill="#5b3a8e"/>
<circle cx="339.25" cy="241.83" r="0.75" fill="#5b3a8e"/>
<circle cx="339.93" cy="241.94" r="0.75" fill="#5b3a8e"/>
<circle cx="337.63" cy="242.90" r="0.75" fill="#5b3a8e"/>
<circle cx="339.25" cy="244.04" r="0.75" fill="#5b3a8e"/>
<circle cx="338.55" cy="244.74" r="0.75" fill="#5b3a8e"/>
<circle cx="340.87" cy="245.33" r="0.75" fill="#5b3a8e"/>
<circle cx="341.11" cy="245.93" r="0.75" fill="#5b3a8e"/>
<circle cx="339.25" cy="247.90" r="0.75" fill="#5b3a8e"/>
<circle cx="339.53" cy="247.94" r="0.75" fill="#5b3a8e"/>
<circle cx="339.25" cy="251.27" r="0.75" fill="#5b3a8e"/>
<circle cx="340.87" cy="252.39" r="0.75" fill="#5b3a8e"/>
<circle cx="339.25" cy="253.58" r="0.75" fill="#5b3a8e"/>
<circle cx="339.65" cy="253.84" r="0.75" fill="#5b3a8e"/>
<circle cx="339.25" cy="256.54" r="0.75" fill="#5b3a8e"/>
<circle cx="339.25" cy="259.16" r="0.75" fill="#5b3a8e"/>
<circle cx="340.87" cy="260.45" r="0.75" fill="#5b3a8e"/>
<line x1="339.50" y1="288.50" x2="339.50" y2="292.00" stroke="#231f20" stroke-width="1.35" />
<line x1="361.50" y1="217.00" x2="361.50" y2="235.75" stroke="#333" stroke-width="1" />
<line x1="361.50" y1="251.75" x2="361.50" y2="276.25" stroke="#333" stroke-width="1" />
<line x1="358.00" y1="217.00" x2="365.00" y2="217.00" stroke="#231f20" stroke-width="1.3" />
<line x1="358.00" y1="276.25" x2="365.00" y2="276.25" stroke="#231f20" stroke-width="1.3" />
<rect x="354.45" y="235.75" width="13.60" height="16.00" fill="#0d5489"/>
<line x1="354.45" y1="242.50" x2="368.05" y2="242.50" stroke="#111" stroke-width="1.1" />
<circle cx="361.25" cy="225.61" r="0.8" fill="#3fc44d"/>
<circle cx="362.69" cy="226.68" r="0.8" fill="#3fc44d"/>
<circle cx="359.81" cy="227.34" r="0.8" fill="#3fc44d"/>
<circle cx="361.25" cy="230.42" r="0.8" fill="#3fc44d"/>
<circle cx="361.25" cy="232.47" r="0.8" fill="#3fc44d"/>
<circle cx="361.25" cy="234.67" r="0.8" fill="#3fc44d"/>
<circle cx="362.69" cy="235.63" r="0.8" fill="#3fc44d"/>
<circle cx="359.81" cy="235.75" r="0.8" fill="#3fc44d"/>
<circle cx="361.25" cy="236.52" r="0.8" fill="#3fc44d"/>
<circle cx="362.69" cy="237.42" r="0.8" fill="#3fc44d"/>
<circle cx="361.25" cy="238.58" r="0.8" fill="#3fc44d"/>
<circle cx="362.69" cy="239.81" r="0.8" fill="#3fc44d"/>
<circle cx="359.81" cy="239.99" r="0.8" fill="#3fc44d"/>
<circle cx="361.25" cy="241.51" r="0.8" fill="#3fc44d"/>
<circle cx="364.13" cy="242.06" r="0.8" fill="#3fc44d"/>
<circle cx="362.69" cy="242.83" r="0.8" fill="#3fc44d"/>
<circle cx="361.25" cy="244.99" r="0.8" fill="#3fc44d"/>
<circle cx="362.69" cy="245.83" r="0.8" fill="#3fc44d"/>
<circle cx="359.81" cy="245.98" r="0.8" fill="#3fc44d"/>
<circle cx="361.25" cy="247.65" r="0.8" fill="#3fc44d"/>
<circle cx="364.13" cy="247.98" r="0.8" fill="#3fc44d"/>
<circle cx="359.81" cy="248.51" r="0.8" fill="#3fc44d"/>
<circle cx="362.69" cy="248.87" r="0.8" fill="#3fc44d"/>
<circle cx="361.25" cy="249.87" r="0.8" fill="#3fc44d"/>
<circle cx="361.25" cy="251.49" r="0.8" fill="#3fc44d"/>
<circle cx="364.13" cy="251.60" r="0.8" fill="#3fc44d"/>
<circle cx="358.37" cy="251.64" r="0.8" fill="#3fc44d"/>
<circle cx="367.01" cy="251.75" r="0.8" fill="#3fc44d"/>
<circle cx="355.49" cy="251.80" r="0.8" fill="#3fc44d"/>
<circle cx="362.69" cy="252.52" r="0.8" fill="#3fc44d"/>
<circle cx="361.25" cy="253.48" r="0.8" fill="#3fc44d"/>
<circle cx="361.25" cy="255.13" r="0.8" fill="#3fc44d"/>
<circle cx="361.25" cy="257.62" r="0.8" fill="#3fc44d"/>
<circle cx="361.25" cy="260.19" r="0.8" fill="#3fc44d"/>
<circle cx="361.25" cy="265.31" r="0.8" fill="#3fc44d"/>
<line x1="361.50" y1="288.50" x2="361.50" y2="292.00" stroke="#231f20" stroke-width="1.35" />
<line x1="383.50" y1="220.75" x2="383.50" y2="243.00" stroke="#333" stroke-width="1" />
<line x1="383.50" y1="255.50" x2="383.50" y2="263.75" stroke="#333" stroke-width="1" />
<line x1="380.00" y1="220.75" x2="387.00" y2="220.75" stroke="#231f20" stroke-width="1.3" />
<line x1="380.00" y1="263.75" x2="387.00" y2="263.75" stroke="#231f20" stroke-width="1.3" />
<rect x="376.95" y="243.00" width="13.60" height="12.50" fill="#c52033"/>
<line x1="376.95" y1="250.50" x2="390.55" y2="250.50" stroke="#111" stroke-width="1.1" />
<circle cx="383.75" cy="241.94" r="0.75" fill="#5b3a8e"/>
<circle cx="383.75" cy="244.33" r="0.75" fill="#5b3a8e"/>
<circle cx="383.75" cy="247.46" r="0.75" fill="#5b3a8e"/>
<circle cx="383.75" cy="259.18" r="0.75" fill="#5b3a8e"/>
<circle cx="382.27" cy="259.23" r="0.75" fill="#5b3a8e"/>
<line x1="383.50" y1="288.50" x2="383.50" y2="292.00" stroke="#231f20" stroke-width="1.35" />
<text transform="translate(273.00,302.80) scale(1,1)" font-size="10" text-anchor="middle" fill="#231f20">T0</text>
<text transform="translate(295.00,302.80) scale(1,1)" font-size="10" text-anchor="middle" fill="#231f20">T0</text>
<text transform="translate(316.75,302.80) scale(1,1)" font-size="10" text-anchor="middle" fill="#231f20">T24</text>
<text transform="translate(339.25,302.80) scale(1,1)" font-size="10" text-anchor="middle" fill="#231f20">T24</text>
<text transform="translate(361.25,302.80) scale(1,1)" font-size="10" text-anchor="middle" fill="#231f20">T72</text>
<text transform="translate(383.75,302.80) scale(1,1)" font-size="10" text-anchor="middle" fill="#231f20">T72</text>
<circle cx="294.50" cy="184.50" r="1.2" fill="#111"/>
<circle cx="338.50" cy="184.30" r="1.2" fill="#111"/>
<text x="0" y="0" transform="translate(215.80,237.30) rotate(-90)" font-size="10.2" text-anchor="middle" fill="#231f20" stroke="#231f20" stroke-width="0.5" textLength="63.0" lengthAdjust="spacingAndGlyphs"><tspan font-weight="bold" font-size="9.4">ADAMTS13</tspan><tspan font-size="10.4"> antigen</tspan></text>
<text x="0" y="0" transform="translate(228.30,236.00) rotate(-90)" font-size="9.8" text-anchor="middle" fill="#231f20" stroke="#231f20" stroke-width="0.5" textLength="71.5" lengthAdjust="spacingAndGlyphs">(% of normal plasma)</text>
<text x="15.30" y="330.50" font-size="12.5" text-anchor="start" font-weight="bold" fill="#231f20" stroke="#231f20" stroke-width="0.5">E</text>
<line x1="51.50" y1="336.50" x2="192.50" y2="336.50" stroke="#231f20" stroke-width="1.35" />
<line x1="192.50" y1="336.50" x2="192.50" y2="445.50" stroke="#231f20" stroke-width="1.35" />
<line x1="50.83" y1="445.50" x2="193.18" y2="445.50" stroke="#231f20" stroke-width="1.35" />
<line x1="51.50" y1="335.82" x2="51.50" y2="357.00" stroke="#231f20" stroke-width="1.35" />
<line x1="51.50" y1="363.75" x2="51.50" y2="445.50" stroke="#231f20" stroke-width="1.35" />
<line x1="49.50" y1="357.00" x2="53.50" y2="357.00" stroke="#231f20" stroke-width="1.35" />
<line x1="49.50" y1="363.75" x2="53.50" y2="363.75" stroke="#231f20" stroke-width="1.35" />
<line x1="47.50" y1="336.50" x2="51.50" y2="336.50" stroke="#231f20" stroke-width="1.35" />
<text x="45.80" y="339.13" font-size="7.3" text-anchor="end" font-weight="normal" fill="#231f20" >1000</text>
<line x1="47.50" y1="343.00" x2="51.50" y2="343.00" stroke="#231f20" stroke-width="1.35" />
<text x="45.80" y="345.63" font-size="7.3" text-anchor="end" font-weight="normal" fill="#231f20" >750</text>
<line x1="47.50" y1="349.50" x2="51.50" y2="349.50" stroke="#231f20" stroke-width="1.35" />
<text x="45.80" y="352.13" font-size="7.3" text-anchor="end" font-weight="normal" fill="#231f20" >500</text>
<text x="45.80" y="358.63" font-size="7.3" text-anchor="end" font-weight="normal" fill="#231f20" >250</text>
<text x="45.80" y="366.38" font-size="7.3" text-anchor="end" font-weight="normal" fill="#231f20" >200</text>
<line x1="47.50" y1="404.50" x2="51.50" y2="404.50" stroke="#231f20" stroke-width="1.35" />
<text x="45.80" y="407.13" font-size="7.3" text-anchor="end" font-weight="normal" fill="#231f20" >100</text>
<line x1="47.50" y1="445.50" x2="51.50" y2="445.50" stroke="#231f20" stroke-width="1.35" />
<text x="45.80" y="448.13" font-size="7.3" text-anchor="end" font-weight="normal" fill="#231f20" >0</text>
<line x1="66.50" y1="354.50" x2="66.50" y2="357.50" stroke="#333" stroke-width="1" />
<line x1="66.50" y1="363.25" x2="66.50" y2="401.25" stroke="#333" stroke-width="1" />
<line x1="66.50" y1="415.00" x2="66.50" y2="434.25" stroke="#333" stroke-width="1" />
<line x1="63.00" y1="354.50" x2="70.00" y2="354.50" stroke="#231f20" stroke-width="1.3" />
<line x1="63.00" y1="434.25" x2="70.00" y2="434.25" stroke="#231f20" stroke-width="1.3" />
<rect x="59.45" y="401.25" width="13.60" height="13.75" fill="#0d5489"/>
<line x1="59.45" y1="408.50" x2="73.05" y2="408.50" stroke="#111" stroke-width="1.1" />
<circle cx="66.25" cy="380.39" r="0.8" fill="#3fc44d"/>
<circle cx="66.25" cy="383.09" r="0.8" fill="#3fc44d"/>
<circle cx="67.69" cy="384.15" r="0.8" fill="#3fc44d"/>
<circle cx="66.25" cy="385.85" r="0.8" fill="#3fc44d"/>
<circle cx="67.69" cy="386.97" r="0.8" fill="#3fc44d"/>
<circle cx="66.25" cy="388.04" r="0.8" fill="#3fc44d"/>
<circle cx="69.13" cy="388.50" r="0.8" fill="#3fc44d"/>
<circle cx="66.25" cy="389.93" r="0.8" fill="#3fc44d"/>
<circle cx="66.25" cy="392.18" r="0.8" fill="#3fc44d"/>
<circle cx="67.69" cy="392.92" r="0.8" fill="#3fc44d"/>
<circle cx="66.25" cy="394.55" r="0.8" fill="#3fc44d"/>
<circle cx="69.13" cy="394.92" r="0.8" fill="#3fc44d"/>
<circle cx="66.25" cy="396.97" r="0.8" fill="#3fc44d"/>
<circle cx="67.69" cy="398.23" r="0.8" fill="#3fc44d"/>
<circle cx="64.81" cy="398.24" r="0.8" fill="#3fc44d"/>
<circle cx="70.57" cy="398.33" r="0.8" fill="#3fc44d"/>
<circle cx="61.93" cy="398.79" r="0.8" fill="#3fc44d"/>
<circle cx="73.45" cy="398.89" r="0.8" fill="#3fc44d"/>
<circle cx="66.25" cy="399.03" r="0.8" fill="#3fc44d"/>
<circle cx="67.69" cy="400.50" r="0.8" fill="#3fc44d"/>
<circle cx="64.81" cy="401.08" r="0.8" fill="#3fc44d"/>
<circle cx="69.13" cy="401.21" r="0.8" fill="#3fc44d"/>
<circle cx="61.93" cy="401.34" r="0.8" fill="#3fc44d"/>
<circle cx="72.01" cy="401.41" r="0.8" fill="#3fc44d"/>
<circle cx="59.05" cy="401.42" r="0.8" fill="#3fc44d"/>
<circle cx="66.25" cy="401.86" r="0.8" fill="#3fc44d"/>
<circle cx="67.42" cy="401.92" r="0.8" fill="#3fc44d"/>
<circle cx="63.37" cy="402.05" r="0.8" fill="#3fc44d"/>
<circle cx="70.57" cy="402.57" r="0.8" fill="#3fc44d"/>
<circle cx="64.81" cy="403.10" r="0.8" fill="#3fc44d"/>
<circle cx="61.93" cy="403.21" r="0.8" fill="#3fc44d"/>
<circle cx="69.13" cy="403.30" r="0.8" fill="#3fc44d"/>
<circle cx="72.01" cy="403.65" r="0.8" fill="#3fc44d"/>
<circle cx="66.25" cy="403.99" r="0.8" fill="#3fc44d"/>
<circle cx="63.37" cy="404.52" r="0.8" fill="#3fc44d"/>
<circle cx="70.57" cy="404.60" r="0.8" fill="#3fc44d"/>
<circle cx="60.49" cy="404.67" r="0.8" fill="#3fc44d"/>
<circle cx="67.69" cy="404.88" r="0.8" fill="#3fc44d"/>
<circle cx="64.81" cy="405.38" r="0.8" fill="#3fc44d"/>
<circle cx="61.93" cy="405.50" r="0.8" fill="#3fc44d"/>
<circle cx="69.13" cy="406.07" r="0.8" fill="#3fc44d"/>
<circle cx="66.25" cy="406.78" r="0.8" fill="#3fc44d"/>
<circle cx="63.37" cy="406.83" r="0.8" fill="#3fc44d"/>
<circle cx="70.57" cy="407.35" r="0.8" fill="#3fc44d"/>
<circle cx="67.69" cy="407.65" r="0.8" fill="#3fc44d"/>
<circle cx="64.81" cy="407.78" r="0.8" fill="#3fc44d"/>
<circle cx="61.93" cy="408.22" r="0.8" fill="#3fc44d"/>
<circle cx="66.25" cy="408.56" r="0.8" fill="#3fc44d"/>
<circle cx="69.13" cy="408.83" r="0.8" fill="#3fc44d"/>
<circle cx="63.37" cy="408.98" r="0.8" fill="#3fc44d"/>
<circle cx="67.69" cy="409.61" r="0.8" fill="#3fc44d"/>
<circle cx="64.81" cy="409.83" r="0.8" fill="#3fc44d"/>
<circle cx="70.57" cy="410.03" r="0.8" fill="#3fc44d"/>
<circle cx="61.93" cy="410.07" r="0.8" fill="#3fc44d"/>
<circle cx="73.45" cy="410.12" r="0.8" fill="#3fc44d"/>
<circle cx="59.05" cy="410.13" r="0.8" fill="#3fc44d"/>
<circle cx="66.25" cy="411.09" r="0.8" fill="#3fc44d"/>
<circle cx="69.13" cy="411.34" r="0.8" fill="#3fc44d"/>
<circle cx="63.37" cy="411.45" r="0.8" fill="#3fc44d"/>
<circle cx="72.01" cy="411.50" r="0.8" fill="#3fc44d"/>
<circle cx="60.49" cy="411.96" r="0.8" fill="#3fc44d"/>
<circle cx="63.06" cy="412.00" r="0.8" fill="#3fc44d"/>
<circle cx="61.47" cy="412.02" r="0.8" fill="#3fc44d"/>
<circle cx="67.69" cy="412.43" r="0.8" fill="#3fc44d"/>
<circle cx="64.81" cy="412.86" r="0.8" fill="#3fc44d"/>
<circle cx="69.13" cy="413.23" r="0.8" fill="#3fc44d"/>
<circle cx="72.01" cy="413.48" r="0.8" fill="#3fc44d"/>
<circle cx="66.25" cy="413.67" r="0.8" fill="#3fc44d"/>
<circle cx="63.37" cy="414.13" r="0.8" fill="#3fc44d"/>
<circle cx="60.49" cy="414.14" r="0.8" fill="#3fc44d"/>
<circle cx="70.57" cy="414.19" r="0.8" fill="#3fc44d"/>
<circle cx="66.25" cy="416.58" r="0.8" fill="#3fc44d"/>
<circle cx="69.13" cy="416.61" r="0.8" fill="#3fc44d"/>
<circle cx="67.69" cy="417.57" r="0.8" fill="#3fc44d"/>
<circle cx="64.81" cy="417.59" r="0.8" fill="#3fc44d"/>
<circle cx="66.25" cy="418.98" r="0.8" fill="#3fc44d"/>
<circle cx="69.13" cy="419.42" r="0.8" fill="#3fc44d"/>
<circle cx="66.25" cy="421.89" r="0.8" fill="#3fc44d"/>
<circle cx="69.13" cy="422.46" r="0.8" fill="#3fc44d"/>
<circle cx="64.81" cy="422.93" r="0.8" fill="#3fc44d"/>
<circle cx="61.93" cy="423.01" r="0.8" fill="#3fc44d"/>
<circle cx="67.69" cy="423.48" r="0.8" fill="#3fc44d"/>
<circle cx="63.37" cy="423.82" r="0.8" fill="#3fc44d"/>
<circle cx="70.57" cy="423.86" r="0.8" fill="#3fc44d"/>
<circle cx="66.25" cy="425.58" r="0.8" fill="#3fc44d"/>
<circle cx="69.13" cy="425.92" r="0.8" fill="#3fc44d"/>
<circle cx="64.81" cy="426.35" r="0.8" fill="#3fc44d"/>
<circle cx="67.69" cy="426.89" r="0.8" fill="#3fc44d"/>
<circle cx="66.25" cy="427.63" r="0.8" fill="#3fc44d"/>
<circle cx="69.13" cy="428.32" r="0.8" fill="#3fc44d"/>
<line x1="66.50" y1="445.50" x2="66.50" y2="449.00" stroke="#231f20" stroke-width="1.35" />
<line x1="88.50" y1="339.25" x2="88.50" y2="357.50" stroke="#333" stroke-width="1" />
<line x1="88.50" y1="363.25" x2="88.50" y2="399.50" stroke="#333" stroke-width="1" />
<line x1="88.50" y1="412.50" x2="88.50" y2="423.25" stroke="#333" stroke-width="1" />
<line x1="85.00" y1="339.25" x2="92.00" y2="339.25" stroke="#231f20" stroke-width="1.3" />
<line x1="85.00" y1="423.25" x2="92.00" y2="423.25" stroke="#231f20" stroke-width="1.3" />
<rect x="81.20" y="399.50" width="13.60" height="13.00" fill="#c52033"/>
<line x1="81.20" y1="406.50" x2="94.80" y2="406.50" stroke="#111" stroke-width="1.1" />
<circle cx="88.00" cy="393.51" r="0.75" fill="#5b3a8e"/>
<circle cx="89.59" cy="394.25" r="0.75" fill="#5b3a8e"/>
<circle cx="88.00" cy="399.41" r="0.75" fill="#5b3a8e"/>
<circle cx="89.60" cy="399.45" r="0.75" fill="#5b3a8e"/>
<circle cx="89.96" cy="399.85" r="0.75" fill="#5b3a8e"/>
<circle cx="86.38" cy="400.51" r="0.75" fill="#5b3a8e"/>
<circle cx="85.83" cy="400.89" r="0.75" fill="#5b3a8e"/>
<circle cx="88.00" cy="401.34" r="0.75" fill="#5b3a8e"/>
<circle cx="89.84" cy="401.38" r="0.75" fill="#5b3a8e"/>
<circle cx="88.00" cy="403.98" r="0.75" fill="#5b3a8e"/>
<circle cx="88.00" cy="407.59" r="0.75" fill="#5b3a8e"/>
<circle cx="88.00" cy="411.34" r="0.75" fill="#5b3a8e"/>
<circle cx="90.07" cy="411.58" r="0.75" fill="#5b3a8e"/>
<circle cx="86.38" cy="412.68" r="0.75" fill="#5b3a8e"/>
<circle cx="88.00" cy="414.78" r="0.75" fill="#5b3a8e"/>
<circle cx="88.00" cy="417.22" r="0.75" fill="#5b3a8e"/>
<circle cx="89.62" cy="418.55" r="0.75" fill="#5b3a8e"/>
<circle cx="86.38" cy="419.08" r="0.75" fill="#5b3a8e"/>
<line x1="88.50" y1="445.50" x2="88.50" y2="449.00" stroke="#231f20" stroke-width="1.35" />
<line x1="110.50" y1="384.50" x2="110.50" y2="402.50" stroke="#333" stroke-width="1" />
<line x1="110.50" y1="413.00" x2="110.50" y2="430.00" stroke="#333" stroke-width="1" />
<line x1="107.00" y1="384.50" x2="114.00" y2="384.50" stroke="#231f20" stroke-width="1.3" />
<line x1="107.00" y1="430.00" x2="114.00" y2="430.00" stroke="#231f20" stroke-width="1.3" />
<rect x="103.70" y="402.50" width="13.60" height="10.50" fill="#0d5489"/>
<line x1="103.70" y1="407.50" x2="117.30" y2="407.50" stroke="#111" stroke-width="1.1" />
<circle cx="110.50" cy="387.09" r="0.8" fill="#3fc44d"/>
<circle cx="111.94" cy="388.38" r="0.8" fill="#3fc44d"/>
<circle cx="109.06" cy="388.43" r="0.8" fill="#3fc44d"/>
<circle cx="110.50" cy="389.75" r="0.8" fill="#3fc44d"/>
<circle cx="111.94" cy="390.75" r="0.8" fill="#3fc44d"/>
<circle cx="109.06" cy="390.77" r="0.8" fill="#3fc44d"/>
<circle cx="110.50" cy="392.67" r="0.8" fill="#3fc44d"/>
<circle cx="113.38" cy="392.72" r="0.8" fill="#3fc44d"/>
<circle cx="111.94" cy="393.97" r="0.8" fill="#3fc44d"/>
<circle cx="109.06" cy="394.14" r="0.8" fill="#3fc44d"/>
<circle cx="110.50" cy="396.59" r="0.8" fill="#3fc44d"/>
<circle cx="110.50" cy="398.23" r="0.8" fill="#3fc44d"/>
<circle cx="113.38" cy="398.34" r="0.8" fill="#3fc44d"/>
<circle cx="109.06" cy="398.94" r="0.8" fill="#3fc44d"/>
<circle cx="111.94" cy="399.06" r="0.8" fill="#3fc44d"/>
<circle cx="110.50" cy="399.96" r="0.8" fill="#3fc44d"/>
<circle cx="113.38" cy="400.27" r="0.8" fill="#3fc44d"/>
<circle cx="109.06" cy="400.83" r="0.8" fill="#3fc44d"/>
<circle cx="110.50" cy="401.89" r="0.8" fill="#3fc44d"/>
<circle cx="113.38" cy="402.08" r="0.8" fill="#3fc44d"/>
<circle cx="107.62" cy="402.11" r="0.8" fill="#3fc44d"/>
<circle cx="116.26" cy="402.43" r="0.8" fill="#3fc44d"/>
<circle cx="104.74" cy="402.51" r="0.8" fill="#3fc44d"/>
<circle cx="109.48" cy="402.55" r="0.8" fill="#3fc44d"/>
<circle cx="115.04" cy="402.72" r="0.8" fill="#3fc44d"/>
<circle cx="111.94" cy="402.83" r="0.8" fill="#3fc44d"/>
<circle cx="111.81" cy="402.86" r="0.8" fill="#3fc44d"/>
<circle cx="106.18" cy="403.45" r="0.8" fill="#3fc44d"/>
<circle cx="117.70" cy="403.53" r="0.8" fill="#3fc44d"/>
<circle cx="103.30" cy="403.55" r="0.8" fill="#3fc44d"/>
<circle cx="104.29" cy="403.62" r="0.8" fill="#3fc44d"/>
<circle cx="113.38" cy="403.68" r="0.8" fill="#3fc44d"/>
<circle cx="110.50" cy="404.29" r="0.8" fill="#3fc44d"/>
<circle cx="107.62" cy="404.44" r="0.8" fill="#3fc44d"/>
<circle cx="114.82" cy="404.62" r="0.8" fill="#3fc44d"/>
<circle cx="109.87" cy="404.65" r="0.8" fill="#3fc44d"/>
<circle cx="116.89" cy="404.66" r="0.8" fill="#3fc44d"/>
<circle cx="106.15" cy="404.77" r="0.8" fill="#3fc44d"/>
<circle cx="111.94" cy="405.20" r="0.8" fill="#3fc44d"/>
<circle cx="103.30" cy="405.47" r="0.8" fill="#3fc44d"/>
<circle cx="105.38" cy="405.52" r="0.8" fill="#3fc44d"/>
<circle cx="107.21" cy="405.85" r="0.8" fill="#3fc44d"/>
<circle cx="113.87" cy="405.87" r="0.8" fill="#3fc44d"/>
<circle cx="110.50" cy="406.14" r="0.8" fill="#3fc44d"/>
<circle cx="116.26" cy="406.36" r="0.8" fill="#3fc44d"/>
<circle cx="116.20" cy="406.84" r="0.8" fill="#3fc44d"/>
<circle cx="111.94" cy="406.95" r="0.8" fill="#3fc44d"/>
<circle cx="109.06" cy="407.08" r="0.8" fill="#3fc44d"/>
<circle cx="113.38" cy="407.65" r="0.8" fill="#3fc44d"/>
<circle cx="106.18" cy="407.66" r="0.8" fill="#3fc44d"/>
<circle cx="117.70" cy="407.69" r="0.8" fill="#3fc44d"/>
<circle cx="110.50" cy="407.79" r="0.8" fill="#3fc44d"/>
<circle cx="103.30" cy="408.15" r="0.8" fill="#3fc44d"/>
<circle cx="111.94" cy="408.99" r="0.8" fill="#3fc44d"/>
<circle cx="109.06" cy="409.13" r="0.8" fill="#3fc44d"/>
<circle cx="114.82" cy="409.16" r="0.8" fill="#3fc44d"/>
<circle cx="110.50" cy="409.90" r="0.8" fill="#3fc44d"/>
<circle cx="113.38" cy="410.02" r="0.8" fill="#3fc44d"/>
<circle cx="107.62" cy="410.45" r="0.8" fill="#3fc44d"/>
<circle cx="116.26" cy="410.50" r="0.8" fill="#3fc44d"/>
<circle cx="104.74" cy="410.62" r="0.8" fill="#3fc44d"/>
<circle cx="111.94" cy="410.87" r="0.8" fill="#3fc44d"/>
<circle cx="104.77" cy="411.03" r="0.8" fill="#3fc44d"/>
<circle cx="104.79" cy="411.11" r="0.8" fill="#3fc44d"/>
<circle cx="109.06" cy="411.16" r="0.8" fill="#3fc44d"/>
<circle cx="114.82" cy="411.40" r="0.8" fill="#3fc44d"/>
<circle cx="117.70" cy="411.44" r="0.8" fill="#3fc44d"/>
<circle cx="106.31" cy="411.55" r="0.8" fill="#3fc44d"/>
<circle cx="110.50" cy="412.42" r="0.8" fill="#3fc44d"/>
<circle cx="113.38" cy="412.62" r="0.8" fill="#3fc44d"/>
<circle cx="107.62" cy="412.77" r="0.8" fill="#3fc44d"/>
<circle cx="111.94" cy="413.64" r="0.8" fill="#3fc44d"/>
<circle cx="109.06" cy="413.73" r="0.8" fill="#3fc44d"/>
<circle cx="114.82" cy="413.98" r="0.8" fill="#3fc44d"/>
<circle cx="106.18" cy="414.19" r="0.8" fill="#3fc44d"/>
<circle cx="117.70" cy="414.42" r="0.8" fill="#3fc44d"/>
<circle cx="110.50" cy="414.96" r="0.8" fill="#3fc44d"/>
<circle cx="113.38" cy="415.16" r="0.8" fill="#3fc44d"/>
<circle cx="107.62" cy="415.45" r="0.8" fill="#3fc44d"/>
<circle cx="111.94" cy="416.29" r="0.8" fill="#3fc44d"/>
<circle cx="109.06" cy="416.73" r="0.8" fill="#3fc44d"/>
<circle cx="113.38" cy="417.07" r="0.8" fill="#3fc44d"/>
<circle cx="110.50" cy="418.46" r="0.8" fill="#3fc44d"/>
<circle cx="107.62" cy="418.66" r="0.8" fill="#3fc44d"/>
<circle cx="111.94" cy="419.71" r="0.8" fill="#3fc44d"/>
<circle cx="109.06" cy="419.86" r="0.8" fill="#3fc44d"/>
<circle cx="114.82" cy="419.88" r="0.8" fill="#3fc44d"/>
<circle cx="110.50" cy="421.13" r="0.8" fill="#3fc44d"/>
<circle cx="113.38" cy="421.73" r="0.8" fill="#3fc44d"/>
<circle cx="109.06" cy="421.98" r="0.8" fill="#3fc44d"/>
<line x1="110.50" y1="445.50" x2="110.50" y2="449.00" stroke="#231f20" stroke-width="1.35" />
<line x1="133.50" y1="397.00" x2="133.50" y2="406.75" stroke="#333" stroke-width="1" />
<line x1="133.50" y1="414.50" x2="133.50" y2="425.25" stroke="#333" stroke-width="1" />
<line x1="130.00" y1="397.00" x2="137.00" y2="397.00" stroke="#231f20" stroke-width="1.3" />
<line x1="130.00" y1="425.25" x2="137.00" y2="425.25" stroke="#231f20" stroke-width="1.3" />
<rect x="126.20" y="406.75" width="13.60" height="7.75" fill="#c52033"/>
<line x1="126.20" y1="410.50" x2="139.80" y2="410.50" stroke="#111" stroke-width="1.1" />
<circle cx="133.00" cy="400.70" r="0.75" fill="#5b3a8e"/>
<circle cx="134.62" cy="402.36" r="0.75" fill="#5b3a8e"/>
<circle cx="133.00" cy="405.27" r="0.75" fill="#5b3a8e"/>
<circle cx="134.62" cy="406.55" r="0.75" fill="#5b3a8e"/>
<circle cx="133.00" cy="407.54" r="0.75" fill="#5b3a8e"/>
<circle cx="131.53" cy="408.00" r="0.75" fill="#5b3a8e"/>
<circle cx="132.44" cy="408.22" r="0.75" fill="#5b3a8e"/>
<circle cx="134.62" cy="409.28" r="0.75" fill="#5b3a8e"/>
<circle cx="130.67" cy="409.29" r="0.75" fill="#5b3a8e"/>
<circle cx="133.00" cy="410.80" r="0.75" fill="#5b3a8e"/>
<circle cx="134.62" cy="412.40" r="0.75" fill="#5b3a8e"/>
<circle cx="133.00" cy="414.21" r="0.75" fill="#5b3a8e"/>
<circle cx="132.50" cy="414.31" r="0.75" fill="#5b3a8e"/>
<circle cx="134.46" cy="414.72" r="0.75" fill="#5b3a8e"/>
<circle cx="133.97" cy="415.04" r="0.75" fill="#5b3a8e"/>
<circle cx="131.38" cy="416.28" r="0.75" fill="#5b3a8e"/>
<circle cx="133.00" cy="417.66" r="0.75" fill="#5b3a8e"/>
<circle cx="133.00" cy="418.39" r="0.75" fill="#5b3a8e"/>
<line x1="133.50" y1="445.50" x2="133.50" y2="449.00" stroke="#231f20" stroke-width="1.35" />
<line x1="155.50" y1="394.25" x2="155.50" y2="406.25" stroke="#333" stroke-width="1" />
<line x1="155.50" y1="416.00" x2="155.50" y2="436.75" stroke="#333" stroke-width="1" />
<line x1="152.00" y1="394.25" x2="159.00" y2="394.25" stroke="#231f20" stroke-width="1.3" />
<line x1="152.00" y1="436.75" x2="159.00" y2="436.75" stroke="#231f20" stroke-width="1.3" />
<rect x="148.45" y="406.25" width="13.60" height="9.75" fill="#0d5489"/>
<line x1="148.45" y1="411.50" x2="162.05" y2="411.50" stroke="#111" stroke-width="1.1" />
<circle cx="155.25" cy="397.95" r="0.8" fill="#3fc44d"/>
<circle cx="156.69" cy="399.02" r="0.8" fill="#3fc44d"/>
<circle cx="155.25" cy="400.25" r="0.8" fill="#3fc44d"/>
<circle cx="158.13" cy="400.27" r="0.8" fill="#3fc44d"/>
<circle cx="155.25" cy="402.58" r="0.8" fill="#3fc44d"/>
<circle cx="158.13" cy="402.99" r="0.8" fill="#3fc44d"/>
<circle cx="156.69" cy="404.15" r="0.8" fill="#3fc44d"/>
<circle cx="155.25" cy="405.88" r="0.8" fill="#3fc44d"/>
<circle cx="155.25" cy="407.63" r="0.8" fill="#3fc44d"/>
<circle cx="156.69" cy="408.48" r="0.8" fill="#3fc44d"/>
<circle cx="155.25" cy="410.20" r="0.8" fill="#3fc44d"/>
<circle cx="158.13" cy="410.36" r="0.8" fill="#3fc44d"/>
<circle cx="152.37" cy="410.44" r="0.8" fill="#3fc44d"/>
<circle cx="161.01" cy="410.77" r="0.8" fill="#3fc44d"/>
<circle cx="155.25" cy="411.85" r="0.8" fill="#3fc44d"/>
<circle cx="158.13" cy="412.14" r="0.8" fill="#3fc44d"/>
<circle cx="152.37" cy="412.42" r="0.8" fill="#3fc44d"/>
<circle cx="161.01" cy="412.51" r="0.8" fill="#3fc44d"/>
<circle cx="156.69" cy="412.88" r="0.8" fill="#3fc44d"/>
<circle cx="149.49" cy="413.08" r="0.8" fill="#3fc44d"/>
<circle cx="153.81" cy="413.29" r="0.8" fill="#3fc44d"/>
<circle cx="159.57" cy="413.47" r="0.8" fill="#3fc44d"/>
<circle cx="162.45" cy="413.55" r="0.8" fill="#3fc44d"/>
<circle cx="150.93" cy="413.80" r="0.8" fill="#3fc44d"/>
<circle cx="155.25" cy="414.56" r="0.8" fill="#3fc44d"/>
<circle cx="158.13" cy="414.83" r="0.8" fill="#3fc44d"/>
<circle cx="152.37" cy="415.10" r="0.8" fill="#3fc44d"/>
<circle cx="155.25" cy="416.76" r="0.8" fill="#3fc44d"/>
<circle cx="158.13" cy="417.22" r="0.8" fill="#3fc44d"/>
<circle cx="155.25" cy="418.55" r="0.8" fill="#3fc44d"/>
<circle cx="152.37" cy="418.69" r="0.8" fill="#3fc44d"/>
<circle cx="158.13" cy="418.99" r="0.8" fill="#3fc44d"/>
<circle cx="155.25" cy="420.78" r="0.8" fill="#3fc44d"/>
<circle cx="158.13" cy="421.41" r="0.8" fill="#3fc44d"/>
<circle cx="155.25" cy="424.75" r="0.8" fill="#3fc44d"/>
<line x1="155.50" y1="445.50" x2="155.50" y2="449.00" stroke="#231f20" stroke-width="1.35" />
<line x1="177.50" y1="354.25" x2="177.50" y2="357.50" stroke="#333" stroke-width="1" />
<line x1="177.50" y1="363.25" x2="177.50" y2="404.00" stroke="#333" stroke-width="1" />
<line x1="177.50" y1="420.50" x2="177.50" y2="427.50" stroke="#333" stroke-width="1" />
<line x1="174.00" y1="354.25" x2="181.00" y2="354.25" stroke="#231f20" stroke-width="1.3" />
<line x1="174.00" y1="427.50" x2="181.00" y2="427.50" stroke="#231f20" stroke-width="1.3" />
<rect x="170.70" y="404.00" width="13.60" height="16.50" fill="#c52033"/>
<line x1="170.70" y1="415.50" x2="184.30" y2="415.50" stroke="#111" stroke-width="1.1" />
<circle cx="177.50" cy="391.96" r="0.75" fill="#5b3a8e"/>
<circle cx="177.50" cy="398.25" r="0.75" fill="#5b3a8e"/>
<circle cx="179.12" cy="399.06" r="0.75" fill="#5b3a8e"/>
<circle cx="177.50" cy="403.58" r="0.75" fill="#5b3a8e"/>
<circle cx="179.12" cy="404.63" r="0.75" fill="#5b3a8e"/>
<circle cx="177.50" cy="406.65" r="0.75" fill="#5b3a8e"/>
<circle cx="177.50" cy="410.41" r="0.75" fill="#5b3a8e"/>
<circle cx="179.12" cy="412.08" r="0.75" fill="#5b3a8e"/>
<circle cx="177.50" cy="412.97" r="0.75" fill="#5b3a8e"/>
<circle cx="177.50" cy="414.80" r="0.75" fill="#5b3a8e"/>
<circle cx="177.50" cy="416.84" r="0.75" fill="#5b3a8e"/>
<circle cx="177.61" cy="416.90" r="0.75" fill="#5b3a8e"/>
<circle cx="177.50" cy="420.08" r="0.75" fill="#5b3a8e"/>
<circle cx="177.50" cy="423.07" r="0.75" fill="#5b3a8e"/>
<circle cx="177.05" cy="423.29" r="0.75" fill="#5b3a8e"/>
<circle cx="179.12" cy="424.08" r="0.75" fill="#5b3a8e"/>
<circle cx="175.88" cy="424.75" r="0.75" fill="#5b3a8e"/>
<circle cx="177.50" cy="425.78" r="0.75" fill="#5b3a8e"/>
<line x1="177.50" y1="445.50" x2="177.50" y2="449.00" stroke="#231f20" stroke-width="1.35" />
<text transform="translate(66.25,457.00) scale(1,1)" font-size="7" text-anchor="middle" fill="#231f20">T0</text>
<text transform="translate(88.00,457.00) scale(1,1)" font-size="7" text-anchor="middle" fill="#231f20">T0</text>
<text transform="translate(110.50,457.00) scale(1,1)" font-size="7" text-anchor="middle" fill="#231f20">T24</text>
<text transform="translate(133.00,457.00) scale(1,1)" font-size="7" text-anchor="middle" fill="#231f20">T24</text>
<text transform="translate(155.25,457.00) scale(1,1)" font-size="7" text-anchor="middle" fill="#231f20">T72</text>
<text transform="translate(177.50,457.00) scale(1,1)" font-size="7" text-anchor="middle" fill="#231f20">T72</text>
<text x="0" y="0" transform="translate(17.30,391.00) rotate(-90)" font-size="10.3" text-anchor="middle" fill="#231f20" stroke="#231f20" stroke-width="0.5" textLength="61.4" lengthAdjust="spacingAndGlyphs"><tspan font-weight="bold" font-size="9.6">ADAMTS13</tspan><tspan font-size="10.4"> activity</tspan></text>
<text x="0" y="0" transform="translate(28.00,391.50) rotate(-90)" font-size="9.6" text-anchor="middle" fill="#231f20" stroke="#231f20" stroke-width="0.5" textLength="70.5" lengthAdjust="spacingAndGlyphs">(% of normal plasma)</text>
<text x="210.00" y="330.80" font-size="12.5" text-anchor="start" font-weight="bold" fill="#231f20" stroke="#231f20" stroke-width="0.5">F</text>
<line x1="236.50" y1="338.50" x2="377.50" y2="338.50" stroke="#231f20" stroke-width="1.35" />
<line x1="377.50" y1="338.50" x2="377.50" y2="447.50" stroke="#231f20" stroke-width="1.35" />
<line x1="235.82" y1="447.50" x2="378.18" y2="447.50" stroke="#231f20" stroke-width="1.35" />
<line x1="236.50" y1="337.82" x2="236.50" y2="448.18" stroke="#231f20" stroke-width="1.35" />
<line x1="232.50" y1="338.75" x2="236.50" y2="338.75" stroke="#231f20" stroke-width="1.35" />
<text x="231.10" y="342.95" font-size="10" text-anchor="end" font-weight="normal" fill="#231f20" >80</text>
<line x1="232.50" y1="366.25" x2="236.50" y2="366.25" stroke="#231f20" stroke-width="1.35" />
<text x="231.10" y="370.45" font-size="10" text-anchor="end" font-weight="normal" fill="#231f20" >60</text>
<line x1="232.50" y1="393.00" x2="236.50" y2="393.00" stroke="#231f20" stroke-width="1.35" />
<text x="231.10" y="397.20" font-size="10" text-anchor="end" font-weight="normal" fill="#231f20" >40</text>
<line x1="232.50" y1="420.25" x2="236.50" y2="420.25" stroke="#231f20" stroke-width="1.35" />
<text x="231.10" y="424.45" font-size="10" text-anchor="end" font-weight="normal" fill="#231f20" >20</text>
<line x1="232.50" y1="447.50" x2="236.50" y2="447.50" stroke="#231f20" stroke-width="1.35" />
<text x="231.10" y="451.70" font-size="10" text-anchor="end" font-weight="normal" fill="#231f20" >0</text>
<line x1="237.50" y1="390" x2="375.50" y2="390" stroke="#231f20" stroke-width="1.3" stroke-dasharray="1.3 2.65"/>
<line x1="258.50" y1="387.40" x2="258.50" y2="389.20" stroke="#333" stroke-width="1" />
<line x1="258.50" y1="393.80" x2="258.50" y2="395.40" stroke="#333" stroke-width="1" />
<line x1="253.50" y1="387.40" x2="263.50" y2="387.40" stroke="#231f20" stroke-width="1.3" />
<line x1="253.50" y1="395.40" x2="263.50" y2="395.40" stroke="#231f20" stroke-width="1.3" />
<rect x="247.50" y="389.20" width="21.00" height="4.60" fill="#0d5489"/>
<line x1="247.50" y1="391.50" x2="268.50" y2="391.50" stroke="#111" stroke-width="1.1" />
<circle cx="258.00" cy="388.18" r="0.8" fill="#3fc44d"/>
<circle cx="258.00" cy="390.17" r="0.8" fill="#3fc44d"/>
<circle cx="258.00" cy="393.56" r="0.8" fill="#3fc44d"/>
<circle cx="260.88" cy="394.19" r="0.8" fill="#3fc44d"/>
<line x1="258.50" y1="447.50" x2="258.50" y2="451.00" stroke="#231f20" stroke-width="1.35" />
<line x1="290.50" y1="369.50" x2="290.50" y2="376.50" stroke="#333" stroke-width="1" />
<line x1="290.50" y1="391.75" x2="290.50" y2="447.50" stroke="#333" stroke-width="1" />
<line x1="285.50" y1="369.50" x2="295.50" y2="369.50" stroke="#231f20" stroke-width="1.3" />
<line x1="285.50" y1="447.50" x2="295.50" y2="447.50" stroke="#231f20" stroke-width="1.3" />
<rect x="279.50" y="376.50" width="21.00" height="15.25" fill="#c52033"/>
<line x1="279.50" y1="377.50" x2="300.50" y2="377.50" stroke="#111" stroke-width="1.1" />
<circle cx="290.00" cy="388.13" r="0.75" fill="#5b3a8e"/>
<circle cx="290.00" cy="392.27" r="0.75" fill="#5b3a8e"/>
<circle cx="290.00" cy="403.67" r="0.75" fill="#5b3a8e"/>
<line x1="290.50" y1="447.50" x2="290.50" y2="451.00" stroke="#231f20" stroke-width="1.35" />
<line x1="318.50" y1="380.50" x2="318.50" y2="383.80" stroke="#333" stroke-width="1" />
<line x1="318.50" y1="390.00" x2="318.50" y2="393.25" stroke="#333" stroke-width="1" />
<line x1="313.50" y1="380.50" x2="323.50" y2="380.50" stroke="#231f20" stroke-width="1.3" />
<line x1="313.50" y1="393.25" x2="323.50" y2="393.25" stroke="#231f20" stroke-width="1.3" />
<rect x="307.75" y="383.80" width="21.00" height="6.20" fill="#0d5489"/>
<line x1="307.75" y1="386.50" x2="328.75" y2="386.50" stroke="#111" stroke-width="1.1" />
<circle cx="318.25" cy="383.33" r="0.8" fill="#3fc44d"/>
<circle cx="319.69" cy="384.15" r="0.8" fill="#3fc44d"/>
<circle cx="318.25" cy="386.00" r="0.8" fill="#3fc44d"/>
<circle cx="318.25" cy="390.82" r="0.8" fill="#3fc44d"/>
<line x1="318.50" y1="447.50" x2="318.50" y2="451.00" stroke="#231f20" stroke-width="1.35" />
<line x1="350.50" y1="373.25" x2="350.50" y2="379.80" stroke="#333" stroke-width="1" />
<line x1="350.50" y1="395.75" x2="350.50" y2="416.25" stroke="#333" stroke-width="1" />
<line x1="345.50" y1="373.25" x2="355.50" y2="373.25" stroke="#231f20" stroke-width="1.3" />
<line x1="345.50" y1="416.25" x2="355.50" y2="416.25" stroke="#231f20" stroke-width="1.3" />
<rect x="340.25" y="379.80" width="21.00" height="15.95" fill="#c52033"/>
<line x1="340.25" y1="381.50" x2="361.25" y2="381.50" stroke="#111" stroke-width="1.1" />
<circle cx="350.75" cy="380.01" r="0.75" fill="#5b3a8e"/>
<circle cx="350.75" cy="399.21" r="0.75" fill="#5b3a8e"/>
<line x1="350.50" y1="447.50" x2="350.50" y2="451.00" stroke="#231f20" stroke-width="1.35" />
<text transform="translate(258.00,458.80) scale(1,1)" font-size="9.3" text-anchor="middle" fill="#231f20">T0</text>
<text transform="translate(290.00,458.80) scale(1,1)" font-size="9.3" text-anchor="middle" fill="#231f20">T0</text>
<text transform="translate(318.25,458.80) scale(1,1)" font-size="9.3" text-anchor="middle" fill="#231f20">T72</text>
<text transform="translate(350.75,458.80) scale(1,1)" font-size="9.3" text-anchor="middle" fill="#231f20">T72</text>
<circle cx="287.30" cy="344.30" r="1.2" fill="#111"/>
<circle cx="291.70" cy="344.30" r="1.2" fill="#111"/>
<text x="0" y="0" transform="translate(216.60,390.30) rotate(-90)" font-size="10.5" text-anchor="middle" fill="#231f20" stroke="#231f20" stroke-width="0.5" textLength="60.8" lengthAdjust="spacingAndGlyphs"><tspan font-weight="bold">%HMW</tspan> multimeres</text>
<text x="13.00" y="483.80" font-size="12.5" text-anchor="start" font-weight="bold" fill="#231f20" stroke="#231f20" stroke-width="0.5">G</text>
<line x1="51.50" y1="490.50" x2="192.50" y2="490.50" stroke="#231f20" stroke-width="1.35" />
<line x1="192.50" y1="490.50" x2="192.50" y2="598.50" stroke="#231f20" stroke-width="1.35" />
<line x1="50.83" y1="598.50" x2="193.18" y2="598.50" stroke="#231f20" stroke-width="1.35" />
<line x1="51.50" y1="489.82" x2="51.50" y2="510.50" stroke="#231f20" stroke-width="1.35" />
<line x1="51.50" y1="517.20" x2="51.50" y2="598.50" stroke="#231f20" stroke-width="1.35" />
<line x1="49.50" y1="510.50" x2="53.50" y2="510.50" stroke="#231f20" stroke-width="1.35" />
<line x1="49.50" y1="517.20" x2="53.50" y2="517.20" stroke="#231f20" stroke-width="1.35" />
<line x1="47.50" y1="490.00" x2="51.50" y2="490.00" stroke="#231f20" stroke-width="1.35" />
<text x="45.80" y="492.70" font-size="7.5" text-anchor="end" font-weight="normal" fill="#231f20" >6</text>
<line x1="47.50" y1="500.40" x2="51.50" y2="500.40" stroke="#231f20" stroke-width="1.35" />
<text x="45.80" y="503.10" font-size="7.5" text-anchor="end" font-weight="normal" fill="#231f20" >4</text>
<text x="45.80" y="513.20" font-size="7.5" text-anchor="end" font-weight="normal" fill="#231f20" >2</text>
<text x="45.80" y="519.90" font-size="7.5" text-anchor="end" font-weight="normal" fill="#231f20" >2</text>
<line x1="47.50" y1="557.50" x2="51.50" y2="557.50" stroke="#231f20" stroke-width="1.35" />
<text x="45.80" y="560.20" font-size="7.5" text-anchor="end" font-weight="normal" fill="#231f20" >1</text>
<line x1="47.50" y1="598.80" x2="51.50" y2="598.80" stroke="#231f20" stroke-width="1.35" />
<text x="45.80" y="601.50" font-size="7.5" text-anchor="end" font-weight="normal" fill="#231f20" >0</text>
<line x1="65.50" y1="505.00" x2="65.50" y2="511.00" stroke="#333" stroke-width="1" />
<line x1="65.50" y1="516.70" x2="65.50" y2="555.50" stroke="#333" stroke-width="1" />
<line x1="65.50" y1="579.50" x2="65.50" y2="593.50" stroke="#333" stroke-width="1" />
<line x1="62.00" y1="505.00" x2="69.00" y2="505.00" stroke="#231f20" stroke-width="1.3" />
<line x1="62.00" y1="593.50" x2="69.00" y2="593.50" stroke="#231f20" stroke-width="1.3" />
<rect x="58.95" y="555.50" width="13.60" height="24.00" fill="#0d5489"/>
<line x1="58.95" y1="570.50" x2="72.55" y2="570.50" stroke="#111" stroke-width="1.1" />
<circle cx="65.75" cy="519.84" r="0.8" fill="#3fc44d"/>
<circle cx="65.75" cy="522.40" r="0.8" fill="#3fc44d"/>
<circle cx="68.63" cy="522.49" r="0.8" fill="#3fc44d"/>
<circle cx="67.19" cy="523.20" r="0.8" fill="#3fc44d"/>
<circle cx="65.75" cy="526.39" r="0.8" fill="#3fc44d"/>
<circle cx="68.63" cy="526.57" r="0.8" fill="#3fc44d"/>
<circle cx="65.75" cy="528.45" r="0.8" fill="#3fc44d"/>
<circle cx="68.63" cy="528.84" r="0.8" fill="#3fc44d"/>
<circle cx="64.31" cy="529.23" r="0.8" fill="#3fc44d"/>
<circle cx="65.75" cy="535.10" r="0.8" fill="#3fc44d"/>
<circle cx="67.19" cy="536.15" r="0.8" fill="#3fc44d"/>
<circle cx="65.75" cy="537.28" r="0.8" fill="#3fc44d"/>
<circle cx="65.75" cy="547.67" r="0.8" fill="#3fc44d"/>
<circle cx="65.75" cy="550.70" r="0.8" fill="#3fc44d"/>
<circle cx="68.63" cy="551.16" r="0.8" fill="#3fc44d"/>
<circle cx="65.75" cy="552.86" r="0.8" fill="#3fc44d"/>
<circle cx="68.63" cy="553.21" r="0.8" fill="#3fc44d"/>
<circle cx="62.87" cy="553.43" r="0.8" fill="#3fc44d"/>
<circle cx="71.51" cy="553.48" r="0.8" fill="#3fc44d"/>
<circle cx="67.19" cy="554.26" r="0.8" fill="#3fc44d"/>
<circle cx="65.75" cy="555.43" r="0.8" fill="#3fc44d"/>
<circle cx="68.63" cy="555.45" r="0.8" fill="#3fc44d"/>
<circle cx="62.87" cy="555.56" r="0.8" fill="#3fc44d"/>
<circle cx="67.19" cy="556.87" r="0.8" fill="#3fc44d"/>
<circle cx="65.75" cy="558.50" r="0.8" fill="#3fc44d"/>
<circle cx="68.63" cy="558.60" r="0.8" fill="#3fc44d"/>
<circle cx="67.19" cy="559.96" r="0.8" fill="#3fc44d"/>
<circle cx="64.31" cy="560.59" r="0.8" fill="#3fc44d"/>
<circle cx="68.63" cy="560.75" r="0.8" fill="#3fc44d"/>
<circle cx="61.43" cy="560.89" r="0.8" fill="#3fc44d"/>
<circle cx="71.51" cy="560.92" r="0.8" fill="#3fc44d"/>
<circle cx="65.75" cy="561.38" r="0.8" fill="#3fc44d"/>
<circle cx="62.87" cy="561.59" r="0.8" fill="#3fc44d"/>
<circle cx="70.07" cy="561.86" r="0.8" fill="#3fc44d"/>
<circle cx="59.99" cy="561.92" r="0.8" fill="#3fc44d"/>
<circle cx="67.19" cy="562.25" r="0.8" fill="#3fc44d"/>
<circle cx="64.31" cy="562.56" r="0.8" fill="#3fc44d"/>
<circle cx="61.43" cy="562.74" r="0.8" fill="#3fc44d"/>
<circle cx="65.75" cy="563.95" r="0.8" fill="#3fc44d"/>
<circle cx="68.63" cy="563.98" r="0.8" fill="#3fc44d"/>
<circle cx="62.87" cy="564.01" r="0.8" fill="#3fc44d"/>
<circle cx="71.51" cy="564.20" r="0.8" fill="#3fc44d"/>
<circle cx="59.99" cy="564.53" r="0.8" fill="#3fc44d"/>
<circle cx="67.19" cy="564.91" r="0.8" fill="#3fc44d"/>
<circle cx="64.31" cy="565.59" r="0.8" fill="#3fc44d"/>
<circle cx="68.63" cy="565.73" r="0.8" fill="#3fc44d"/>
<circle cx="61.43" cy="565.78" r="0.8" fill="#3fc44d"/>
<circle cx="65.75" cy="566.73" r="0.8" fill="#3fc44d"/>
<circle cx="62.87" cy="566.76" r="0.8" fill="#3fc44d"/>
<circle cx="70.07" cy="567.01" r="0.8" fill="#3fc44d"/>
<circle cx="67.19" cy="568.15" r="0.8" fill="#3fc44d"/>
<circle cx="64.31" cy="568.66" r="0.8" fill="#3fc44d"/>
<circle cx="68.63" cy="568.99" r="0.8" fill="#3fc44d"/>
<circle cx="65.75" cy="570.72" r="0.8" fill="#3fc44d"/>
<circle cx="68.63" cy="570.80" r="0.8" fill="#3fc44d"/>
<circle cx="62.87" cy="570.83" r="0.8" fill="#3fc44d"/>
<circle cx="71.51" cy="571.32" r="0.8" fill="#3fc44d"/>
<circle cx="67.19" cy="572.26" r="0.8" fill="#3fc44d"/>
<circle cx="64.31" cy="572.82" r="0.8" fill="#3fc44d"/>
<circle cx="68.63" cy="573.30" r="0.8" fill="#3fc44d"/>
<circle cx="65.75" cy="574.14" r="0.8" fill="#3fc44d"/>
<circle cx="62.87" cy="574.74" r="0.8" fill="#3fc44d"/>
<circle cx="67.19" cy="574.93" r="0.8" fill="#3fc44d"/>
<circle cx="70.07" cy="575.09" r="0.8" fill="#3fc44d"/>
<circle cx="59.99" cy="575.15" r="0.8" fill="#3fc44d"/>
<circle cx="64.31" cy="575.51" r="0.8" fill="#3fc44d"/>
<circle cx="68.63" cy="575.92" r="0.8" fill="#3fc44d"/>
<circle cx="61.43" cy="576.01" r="0.8" fill="#3fc44d"/>
<circle cx="65.75" cy="577.79" r="0.8" fill="#3fc44d"/>
<circle cx="68.63" cy="578.06" r="0.8" fill="#3fc44d"/>
<circle cx="64.31" cy="578.63" r="0.8" fill="#3fc44d"/>
<circle cx="65.75" cy="579.70" r="0.8" fill="#3fc44d"/>
<circle cx="68.63" cy="580.23" r="0.8" fill="#3fc44d"/>
<circle cx="62.87" cy="580.27" r="0.8" fill="#3fc44d"/>
<circle cx="71.51" cy="580.73" r="0.8" fill="#3fc44d"/>
<circle cx="67.19" cy="581.09" r="0.8" fill="#3fc44d"/>
<circle cx="64.31" cy="581.40" r="0.8" fill="#3fc44d"/>
<circle cx="65.75" cy="583.57" r="0.8" fill="#3fc44d"/>
<circle cx="68.63" cy="583.97" r="0.8" fill="#3fc44d"/>
<circle cx="64.31" cy="584.35" r="0.8" fill="#3fc44d"/>
<circle cx="67.19" cy="584.91" r="0.8" fill="#3fc44d"/>
<circle cx="62.87" cy="585.29" r="0.8" fill="#3fc44d"/>
<circle cx="65.75" cy="587.15" r="0.8" fill="#3fc44d"/>
<circle cx="68.63" cy="587.57" r="0.8" fill="#3fc44d"/>
<circle cx="67.19" cy="588.45" r="0.8" fill="#3fc44d"/>
<circle cx="65.75" cy="589.17" r="0.8" fill="#3fc44d"/>
<circle cx="68.63" cy="589.29" r="0.8" fill="#3fc44d"/>
<circle cx="67.19" cy="590.26" r="0.8" fill="#3fc44d"/>
<circle cx="65.75" cy="591.11" r="0.8" fill="#3fc44d"/>
<circle cx="68.63" cy="591.33" r="0.8" fill="#3fc44d"/>
<line x1="65.50" y1="598.50" x2="65.50" y2="602.00" stroke="#231f20" stroke-width="1.35" />
<line x1="88.50" y1="499.25" x2="88.50" y2="511.00" stroke="#333" stroke-width="1" />
<line x1="88.50" y1="516.70" x2="88.50" y2="562.50" stroke="#333" stroke-width="1" />
<line x1="88.50" y1="588.00" x2="88.50" y2="593.25" stroke="#333" stroke-width="1" />
<line x1="85.00" y1="499.25" x2="92.00" y2="499.25" stroke="#231f20" stroke-width="1.3" />
<line x1="85.00" y1="593.25" x2="92.00" y2="593.25" stroke="#231f20" stroke-width="1.3" />
<rect x="81.20" y="562.50" width="13.60" height="25.50" fill="#c52033"/>
<line x1="81.20" y1="579.50" x2="94.80" y2="579.50" stroke="#111" stroke-width="1.1" />
<circle cx="88.00" cy="543.29" r="0.75" fill="#5b3a8e"/>
<circle cx="88.00" cy="546.78" r="0.75" fill="#5b3a8e"/>
<circle cx="88.00" cy="556.97" r="0.75" fill="#5b3a8e"/>
<circle cx="89.62" cy="557.82" r="0.75" fill="#5b3a8e"/>
<circle cx="88.00" cy="562.67" r="0.75" fill="#5b3a8e"/>
<circle cx="88.00" cy="574.43" r="0.75" fill="#5b3a8e"/>
<circle cx="88.91" cy="575.03" r="0.75" fill="#5b3a8e"/>
<circle cx="90.16" cy="575.20" r="0.75" fill="#5b3a8e"/>
<circle cx="86.38" cy="576.26" r="0.75" fill="#5b3a8e"/>
<circle cx="87.15" cy="576.85" r="0.75" fill="#5b3a8e"/>
<circle cx="88.00" cy="579.47" r="0.75" fill="#5b3a8e"/>
<circle cx="88.00" cy="583.94" r="0.75" fill="#5b3a8e"/>
<circle cx="90.41" cy="584.50" r="0.75" fill="#5b3a8e"/>
<circle cx="88.00" cy="588.03" r="0.75" fill="#5b3a8e"/>
<circle cx="88.05" cy="588.11" r="0.75" fill="#5b3a8e"/>
<circle cx="88.00" cy="590.50" r="0.75" fill="#5b3a8e"/>
<circle cx="87.92" cy="590.66" r="0.75" fill="#5b3a8e"/>
<circle cx="89.99" cy="590.67" r="0.75" fill="#5b3a8e"/>
<line x1="88.50" y1="598.50" x2="88.50" y2="602.00" stroke="#231f20" stroke-width="1.35" />
<line x1="110.50" y1="494.50" x2="110.50" y2="511.00" stroke="#333" stroke-width="1" />
<line x1="110.50" y1="516.70" x2="110.50" y2="545.50" stroke="#333" stroke-width="1" />
<line x1="110.50" y1="574.25" x2="110.50" y2="590.50" stroke="#333" stroke-width="1" />
<line x1="107.00" y1="494.50" x2="114.00" y2="494.50" stroke="#231f20" stroke-width="1.3" />
<line x1="107.00" y1="590.50" x2="114.00" y2="590.50" stroke="#231f20" stroke-width="1.3" />
<rect x="103.20" y="545.50" width="13.60" height="28.75" fill="#0d5489"/>
<line x1="103.20" y1="562.50" x2="116.80" y2="562.50" stroke="#111" stroke-width="1.1" />
<circle cx="110.00" cy="503.99" r="0.8" fill="#3fc44d"/>
<circle cx="111.44" cy="505.30" r="0.8" fill="#3fc44d"/>
<circle cx="110.00" cy="520.44" r="0.8" fill="#3fc44d"/>
<circle cx="112.88" cy="521.08" r="0.8" fill="#3fc44d"/>
<circle cx="111.44" cy="521.85" r="0.8" fill="#3fc44d"/>
<circle cx="110.00" cy="525.83" r="0.8" fill="#3fc44d"/>
<circle cx="112.88" cy="526.11" r="0.8" fill="#3fc44d"/>
<circle cx="110.00" cy="531.25" r="0.8" fill="#3fc44d"/>
<circle cx="111.44" cy="532.50" r="0.8" fill="#3fc44d"/>
<circle cx="108.56" cy="532.90" r="0.8" fill="#3fc44d"/>
<circle cx="110.00" cy="535.19" r="0.8" fill="#3fc44d"/>
<circle cx="110.00" cy="537.23" r="0.8" fill="#3fc44d"/>
<circle cx="112.88" cy="537.86" r="0.8" fill="#3fc44d"/>
<circle cx="110.00" cy="539.47" r="0.8" fill="#3fc44d"/>
<circle cx="110.00" cy="541.95" r="0.8" fill="#3fc44d"/>
<circle cx="110.00" cy="544.02" r="0.8" fill="#3fc44d"/>
<circle cx="111.44" cy="544.91" r="0.8" fill="#3fc44d"/>
<circle cx="108.56" cy="545.17" r="0.8" fill="#3fc44d"/>
<circle cx="112.88" cy="545.68" r="0.8" fill="#3fc44d"/>
<circle cx="110.00" cy="546.47" r="0.8" fill="#3fc44d"/>
<circle cx="107.12" cy="546.65" r="0.8" fill="#3fc44d"/>
<circle cx="114.32" cy="546.93" r="0.8" fill="#3fc44d"/>
<circle cx="110.00" cy="550.96" r="0.8" fill="#3fc44d"/>
<circle cx="112.88" cy="551.56" r="0.8" fill="#3fc44d"/>
<circle cx="107.12" cy="551.61" r="0.8" fill="#3fc44d"/>
<circle cx="110.00" cy="553.31" r="0.8" fill="#3fc44d"/>
<circle cx="112.88" cy="553.92" r="0.8" fill="#3fc44d"/>
<circle cx="108.56" cy="554.10" r="0.8" fill="#3fc44d"/>
<circle cx="105.68" cy="554.14" r="0.8" fill="#3fc44d"/>
<circle cx="115.76" cy="554.62" r="0.8" fill="#3fc44d"/>
<circle cx="110.00" cy="555.01" r="0.8" fill="#3fc44d"/>
<circle cx="107.12" cy="555.23" r="0.8" fill="#3fc44d"/>
<circle cx="111.44" cy="556.03" r="0.8" fill="#3fc44d"/>
<circle cx="110.00" cy="557.11" r="0.8" fill="#3fc44d"/>
<circle cx="112.88" cy="557.64" r="0.8" fill="#3fc44d"/>
<circle cx="108.56" cy="558.01" r="0.8" fill="#3fc44d"/>
<circle cx="110.00" cy="559.14" r="0.8" fill="#3fc44d"/>
<circle cx="111.44" cy="559.98" r="0.8" fill="#3fc44d"/>
<circle cx="108.56" cy="560.06" r="0.8" fill="#3fc44d"/>
<circle cx="114.32" cy="560.61" r="0.8" fill="#3fc44d"/>
<circle cx="110.00" cy="561.18" r="0.8" fill="#3fc44d"/>
<circle cx="112.88" cy="561.43" r="0.8" fill="#3fc44d"/>
<circle cx="111.44" cy="562.36" r="0.8" fill="#3fc44d"/>
<circle cx="108.56" cy="562.64" r="0.8" fill="#3fc44d"/>
<circle cx="114.32" cy="563.00" r="0.8" fill="#3fc44d"/>
<circle cx="105.68" cy="563.09" r="0.8" fill="#3fc44d"/>
<circle cx="117.20" cy="563.23" r="0.8" fill="#3fc44d"/>
<circle cx="110.00" cy="563.48" r="0.8" fill="#3fc44d"/>
<circle cx="102.80" cy="563.52" r="0.8" fill="#3fc44d"/>
<circle cx="112.88" cy="563.75" r="0.8" fill="#3fc44d"/>
<circle cx="108.56" cy="564.32" r="0.8" fill="#3fc44d"/>
<circle cx="115.76" cy="564.42" r="0.8" fill="#3fc44d"/>
<circle cx="110.00" cy="565.08" r="0.8" fill="#3fc44d"/>
<circle cx="112.88" cy="565.52" r="0.8" fill="#3fc44d"/>
<circle cx="108.56" cy="566.15" r="0.8" fill="#3fc44d"/>
<circle cx="111.44" cy="566.28" r="0.8" fill="#3fc44d"/>
<circle cx="110.00" cy="567.65" r="0.8" fill="#3fc44d"/>
<circle cx="112.88" cy="568.05" r="0.8" fill="#3fc44d"/>
<circle cx="107.12" cy="568.18" r="0.8" fill="#3fc44d"/>
<circle cx="115.76" cy="568.27" r="0.8" fill="#3fc44d"/>
<circle cx="110.00" cy="569.27" r="0.8" fill="#3fc44d"/>
<circle cx="114.32" cy="569.30" r="0.8" fill="#3fc44d"/>
<circle cx="111.44" cy="570.27" r="0.8" fill="#3fc44d"/>
<circle cx="108.56" cy="570.96" r="0.8" fill="#3fc44d"/>
<circle cx="112.88" cy="571.66" r="0.8" fill="#3fc44d"/>
<circle cx="110.00" cy="571.99" r="0.8" fill="#3fc44d"/>
<circle cx="111.44" cy="573.53" r="0.8" fill="#3fc44d"/>
<circle cx="110.00" cy="574.26" r="0.8" fill="#3fc44d"/>
<circle cx="112.88" cy="574.28" r="0.8" fill="#3fc44d"/>
<circle cx="107.12" cy="574.28" r="0.8" fill="#3fc44d"/>
<circle cx="115.76" cy="574.38" r="0.8" fill="#3fc44d"/>
<circle cx="104.24" cy="574.78" r="0.8" fill="#3fc44d"/>
<circle cx="113.05" cy="574.92" r="0.8" fill="#3fc44d"/>
<circle cx="111.44" cy="575.21" r="0.8" fill="#3fc44d"/>
<circle cx="108.56" cy="575.84" r="0.8" fill="#3fc44d"/>
<circle cx="110.00" cy="578.16" r="0.8" fill="#3fc44d"/>
<circle cx="112.88" cy="578.55" r="0.8" fill="#3fc44d"/>
<circle cx="108.56" cy="579.10" r="0.8" fill="#3fc44d"/>
<circle cx="111.44" cy="579.58" r="0.8" fill="#3fc44d"/>
<circle cx="110.00" cy="581.34" r="0.8" fill="#3fc44d"/>
<circle cx="112.88" cy="581.65" r="0.8" fill="#3fc44d"/>
<circle cx="111.44" cy="582.66" r="0.8" fill="#3fc44d"/>
<circle cx="110.00" cy="586.10" r="0.8" fill="#3fc44d"/>
<circle cx="110.00" cy="588.56" r="0.8" fill="#3fc44d"/>
<circle cx="112.88" cy="589.01" r="0.8" fill="#3fc44d"/>
<circle cx="111.44" cy="590.03" r="0.8" fill="#3fc44d"/>
<line x1="110.50" y1="598.50" x2="110.50" y2="602.00" stroke="#231f20" stroke-width="1.35" />
<line x1="133.50" y1="508.25" x2="133.50" y2="511.00" stroke="#333" stroke-width="1" />
<line x1="133.50" y1="516.70" x2="133.50" y2="567.00" stroke="#333" stroke-width="1" />
<line x1="133.50" y1="586.25" x2="133.50" y2="591.75" stroke="#333" stroke-width="1" />
<line x1="130.00" y1="508.25" x2="137.00" y2="508.25" stroke="#231f20" stroke-width="1.3" />
<line x1="130.00" y1="591.75" x2="137.00" y2="591.75" stroke="#231f20" stroke-width="1.3" />
<rect x="126.20" y="567.00" width="13.60" height="19.25" fill="#c52033"/>
<line x1="126.20" y1="582.50" x2="139.80" y2="582.50" stroke="#111" stroke-width="1.1" />
<circle cx="133.00" cy="556.51" r="0.75" fill="#5b3a8e"/>
<circle cx="134.62" cy="557.72" r="0.75" fill="#5b3a8e"/>
<circle cx="133.00" cy="565.75" r="0.75" fill="#5b3a8e"/>
<circle cx="134.62" cy="566.83" r="0.75" fill="#5b3a8e"/>
<circle cx="131.38" cy="567.34" r="0.75" fill="#5b3a8e"/>
<circle cx="133.00" cy="568.70" r="0.75" fill="#5b3a8e"/>
<circle cx="132.80" cy="569.34" r="0.75" fill="#5b3a8e"/>
<circle cx="134.62" cy="569.48" r="0.75" fill="#5b3a8e"/>
<circle cx="133.00" cy="571.66" r="0.75" fill="#5b3a8e"/>
<circle cx="133.00" cy="580.85" r="0.75" fill="#5b3a8e"/>
<circle cx="135.16" cy="581.12" r="0.75" fill="#5b3a8e"/>
<circle cx="133.00" cy="583.74" r="0.75" fill="#5b3a8e"/>
<circle cx="133.00" cy="585.60" r="0.75" fill="#5b3a8e"/>
<circle cx="131.77" cy="586.38" r="0.75" fill="#5b3a8e"/>
<circle cx="133.00" cy="588.99" r="0.75" fill="#5b3a8e"/>
<circle cx="135.32" cy="589.54" r="0.75" fill="#5b3a8e"/>
<circle cx="134.09" cy="589.68" r="0.75" fill="#5b3a8e"/>
<circle cx="131.38" cy="590.60" r="0.75" fill="#5b3a8e"/>
<line x1="133.50" y1="598.50" x2="133.50" y2="602.00" stroke="#231f20" stroke-width="1.35" />
<line x1="155.50" y1="510.00" x2="155.50" y2="511.00" stroke="#333" stroke-width="1" />
<line x1="155.50" y1="516.70" x2="155.50" y2="555.75" stroke="#333" stroke-width="1" />
<line x1="155.50" y1="580.50" x2="155.50" y2="593.25" stroke="#333" stroke-width="1" />
<line x1="152.00" y1="510.00" x2="159.00" y2="510.00" stroke="#231f20" stroke-width="1.3" />
<line x1="152.00" y1="593.25" x2="159.00" y2="593.25" stroke="#231f20" stroke-width="1.3" />
<rect x="148.20" y="555.75" width="13.60" height="24.75" fill="#0d5489"/>
<line x1="148.20" y1="571.50" x2="161.80" y2="571.50" stroke="#111" stroke-width="1.1" />
<circle cx="155.00" cy="519.38" r="0.8" fill="#3fc44d"/>
<circle cx="155.00" cy="525.95" r="0.8" fill="#3fc44d"/>
<circle cx="155.00" cy="528.14" r="0.8" fill="#3fc44d"/>
<circle cx="157.88" cy="528.23" r="0.8" fill="#3fc44d"/>
<circle cx="155.00" cy="532.40" r="0.8" fill="#3fc44d"/>
<circle cx="155.00" cy="538.85" r="0.8" fill="#3fc44d"/>
<circle cx="155.00" cy="548.17" r="0.8" fill="#3fc44d"/>
<circle cx="156.44" cy="549.49" r="0.8" fill="#3fc44d"/>
<circle cx="155.00" cy="555.16" r="0.8" fill="#3fc44d"/>
<circle cx="156.44" cy="556.03" r="0.8" fill="#3fc44d"/>
<circle cx="153.56" cy="556.11" r="0.8" fill="#3fc44d"/>
<circle cx="155.00" cy="557.23" r="0.8" fill="#3fc44d"/>
<circle cx="157.88" cy="557.72" r="0.8" fill="#3fc44d"/>
<circle cx="155.00" cy="559.34" r="0.8" fill="#3fc44d"/>
<circle cx="157.88" cy="559.86" r="0.8" fill="#3fc44d"/>
<circle cx="155.00" cy="563.45" r="0.8" fill="#3fc44d"/>
<circle cx="156.44" cy="564.74" r="0.8" fill="#3fc44d"/>
<circle cx="153.56" cy="564.85" r="0.8" fill="#3fc44d"/>
<circle cx="159.32" cy="565.30" r="0.8" fill="#3fc44d"/>
<circle cx="155.00" cy="566.09" r="0.8" fill="#3fc44d"/>
<circle cx="157.88" cy="566.61" r="0.8" fill="#3fc44d"/>
<circle cx="155.00" cy="567.79" r="0.8" fill="#3fc44d"/>
<circle cx="155.00" cy="569.98" r="0.8" fill="#3fc44d"/>
<circle cx="156.44" cy="571.34" r="0.8" fill="#3fc44d"/>
<circle cx="153.56" cy="571.71" r="0.8" fill="#3fc44d"/>
<circle cx="159.32" cy="571.85" r="0.8" fill="#3fc44d"/>
<circle cx="155.00" cy="572.50" r="0.8" fill="#3fc44d"/>
<circle cx="156.44" cy="573.80" r="0.8" fill="#3fc44d"/>
<circle cx="155.00" cy="575.48" r="0.8" fill="#3fc44d"/>
<circle cx="157.88" cy="575.98" r="0.8" fill="#3fc44d"/>
<circle cx="156.44" cy="577.06" r="0.8" fill="#3fc44d"/>
<circle cx="155.00" cy="582.69" r="0.8" fill="#3fc44d"/>
<circle cx="156.44" cy="583.45" r="0.8" fill="#3fc44d"/>
<circle cx="153.56" cy="584.08" r="0.8" fill="#3fc44d"/>
<circle cx="155.00" cy="586.44" r="0.8" fill="#3fc44d"/>
<circle cx="157.88" cy="586.51" r="0.8" fill="#3fc44d"/>
<circle cx="155.00" cy="590.16" r="0.8" fill="#3fc44d"/>
<circle cx="156.44" cy="591.17" r="0.8" fill="#3fc44d"/>
<circle cx="155.00" cy="592.82" r="0.8" fill="#3fc44d"/>
<line x1="155.50" y1="598.50" x2="155.50" y2="602.00" stroke="#231f20" stroke-width="1.35" />
<line x1="177.50" y1="506.75" x2="177.50" y2="511.00" stroke="#333" stroke-width="1" />
<line x1="177.50" y1="516.70" x2="177.50" y2="569.00" stroke="#333" stroke-width="1" />
<line x1="177.50" y1="586.25" x2="177.50" y2="593.00" stroke="#333" stroke-width="1" />
<line x1="174.00" y1="506.75" x2="181.00" y2="506.75" stroke="#231f20" stroke-width="1.3" />
<line x1="174.00" y1="593.00" x2="181.00" y2="593.00" stroke="#231f20" stroke-width="1.3" />
<rect x="170.20" y="569.00" width="13.60" height="17.25" fill="#c52033"/>
<line x1="170.20" y1="582.50" x2="183.80" y2="582.50" stroke="#111" stroke-width="1.1" />
<circle cx="177.00" cy="557.46" r="0.75" fill="#5b3a8e"/>
<circle cx="178.62" cy="558.50" r="0.75" fill="#5b3a8e"/>
<circle cx="175.38" cy="558.83" r="0.75" fill="#5b3a8e"/>
<circle cx="177.00" cy="568.88" r="0.75" fill="#5b3a8e"/>
<circle cx="178.54" cy="569.03" r="0.75" fill="#5b3a8e"/>
<circle cx="177.00" cy="573.54" r="0.75" fill="#5b3a8e"/>
<circle cx="177.92" cy="573.89" r="0.75" fill="#5b3a8e"/>
<circle cx="177.00" cy="576.29" r="0.75" fill="#5b3a8e"/>
<circle cx="177.00" cy="579.12" r="0.75" fill="#5b3a8e"/>
<circle cx="179.07" cy="579.38" r="0.75" fill="#5b3a8e"/>
<circle cx="175.38" cy="580.81" r="0.75" fill="#5b3a8e"/>
<circle cx="177.00" cy="582.93" r="0.75" fill="#5b3a8e"/>
<circle cx="178.62" cy="584.46" r="0.75" fill="#5b3a8e"/>
<circle cx="177.00" cy="587.22" r="0.75" fill="#5b3a8e"/>
<circle cx="177.00" cy="589.17" r="0.75" fill="#5b3a8e"/>
<circle cx="177.00" cy="591.19" r="0.75" fill="#5b3a8e"/>
<circle cx="176.23" cy="591.55" r="0.75" fill="#5b3a8e"/>
<circle cx="174.93" cy="591.70" r="0.75" fill="#5b3a8e"/>
<line x1="177.50" y1="598.50" x2="177.50" y2="602.00" stroke="#231f20" stroke-width="1.35" />
<circle cx="62.50" cy="505.59" r="0.8" fill="#3fc44d"/>
<circle cx="63.90" cy="505.98" r="0.8" fill="#3fc44d"/>
<circle cx="65.30" cy="505.02" r="0.8" fill="#3fc44d"/>
<circle cx="66.70" cy="505.90" r="0.8" fill="#3fc44d"/>
<circle cx="68.10" cy="506.19" r="0.8" fill="#3fc44d"/>
<circle cx="69.50" cy="505.07" r="0.8" fill="#3fc44d"/>
<circle cx="108.50" cy="499.17" r="0.8" fill="#3fc44d"/>
<circle cx="110.00" cy="499.28" r="0.8" fill="#3fc44d"/>
<circle cx="111.50" cy="498.94" r="0.8" fill="#3fc44d"/>
<circle cx="108.50" cy="503.53" r="0.8" fill="#3fc44d"/>
<circle cx="111.50" cy="503.61" r="0.8" fill="#3fc44d"/>
<text transform="translate(65.75,610.60) scale(0.9,1)" font-size="8.9" text-anchor="middle" fill="#231f20">T0</text>
<text transform="translate(88.00,610.60) scale(0.9,1)" font-size="8.9" text-anchor="middle" fill="#231f20">T0</text>
<text transform="translate(110.00,610.60) scale(0.9,1)" font-size="8.9" text-anchor="middle" fill="#231f20">T24</text>
<text transform="translate(133.00,610.60) scale(0.9,1)" font-size="8.9" text-anchor="middle" fill="#231f20">T24</text>
<text transform="translate(155.00,610.60) scale(0.9,1)" font-size="8.9" text-anchor="middle" fill="#231f20">T72</text>
<text transform="translate(177.00,610.60) scale(0.9,1)" font-size="8.9" text-anchor="middle" fill="#231f20">T72</text>
<circle cx="88.00" cy="493.30" r="1.2" fill="#111"/>
<circle cx="130.30" cy="493.80" r="1.2" fill="#111"/>
<circle cx="134.70" cy="493.80" r="1.2" fill="#111"/>
<text x="0" y="0" transform="translate(23.40,542.30) rotate(-90)" font-size="10.2" text-anchor="middle" fill="#231f20" stroke="#231f20" stroke-width="0.5" textLength="81.5" lengthAdjust="spacingAndGlyphs"><tspan font-weight="bold" font-size="9.6">ADAMTS13</tspan><tspan font-size="10.2"> antigen/VWF</tspan></text>
<text x="0" y="0" transform="translate(35.20,542.00) rotate(-90)" font-size="10" text-anchor="middle" fill="#231f20" stroke="#231f20" stroke-width="0.5" textLength="23.5" lengthAdjust="spacingAndGlyphs">antigen</text>
<text x="209.70" y="484.70" font-size="12.5" text-anchor="start" font-weight="bold" fill="#231f20" stroke="#231f20" stroke-width="0.5">H</text>
<line x1="231.50" y1="489.50" x2="372.50" y2="489.50" stroke="#231f20" stroke-width="1.35" />
<line x1="372.50" y1="489.50" x2="372.50" y2="599.50" stroke="#231f20" stroke-width="1.35" />
<line x1="230.82" y1="599.50" x2="373.18" y2="599.50" stroke="#231f20" stroke-width="1.35" />
<line x1="231.50" y1="488.82" x2="231.50" y2="510.40" stroke="#231f20" stroke-width="1.35" />
<line x1="231.50" y1="517.20" x2="231.50" y2="599.50" stroke="#231f20" stroke-width="1.35" />
<line x1="229.50" y1="510.40" x2="233.50" y2="510.40" stroke="#231f20" stroke-width="1.35" />
<line x1="229.50" y1="517.20" x2="233.50" y2="517.20" stroke="#231f20" stroke-width="1.35" />
<line x1="227.50" y1="489.90" x2="231.50" y2="489.90" stroke="#231f20" stroke-width="1.35" />
<text x="227.30" y="492.71" font-size="7.8" text-anchor="end" font-weight="normal" fill="#231f20" >8</text>
<line x1="227.50" y1="496.70" x2="231.50" y2="496.70" stroke="#231f20" stroke-width="1.35" />
<text x="227.30" y="499.51" font-size="7.8" text-anchor="end" font-weight="normal" fill="#231f20" >6</text>
<line x1="227.50" y1="503.60" x2="231.50" y2="503.60" stroke="#231f20" stroke-width="1.35" />
<text x="227.30" y="506.41" font-size="7.8" text-anchor="end" font-weight="normal" fill="#231f20" >4</text>
<text x="227.30" y="513.21" font-size="7.8" text-anchor="end" font-weight="normal" fill="#231f20" >2</text>
<text x="227.30" y="520.01" font-size="7.8" text-anchor="end" font-weight="normal" fill="#231f20" >2</text>
<line x1="227.50" y1="557.70" x2="231.50" y2="557.70" stroke="#231f20" stroke-width="1.35" />
<text x="227.30" y="560.51" font-size="7.8" text-anchor="end" font-weight="normal" fill="#231f20" >1</text>
<line x1="227.50" y1="599.30" x2="231.50" y2="599.30" stroke="#231f20" stroke-width="1.35" />
<text x="227.30" y="602.11" font-size="7.8" text-anchor="end" font-weight="normal" fill="#231f20" >0</text>
<line x1="246.50" y1="508.30" x2="246.50" y2="510.90" stroke="#333" stroke-width="1" />
<line x1="246.50" y1="516.70" x2="246.50" y2="551.40" stroke="#333" stroke-width="1" />
<line x1="246.50" y1="577.80" x2="246.50" y2="592.30" stroke="#333" stroke-width="1" />
<line x1="243.00" y1="508.30" x2="250.00" y2="508.30" stroke="#231f20" stroke-width="1.3" />
<line x1="243.00" y1="592.30" x2="250.00" y2="592.30" stroke="#231f20" stroke-width="1.3" />
<rect x="239.40" y="551.40" width="13.60" height="26.40" fill="#0d5489"/>
<line x1="239.40" y1="571.50" x2="253.00" y2="571.50" stroke="#111" stroke-width="1.1" />
<circle cx="246.20" cy="509.68" r="0.8" fill="#3fc44d"/>
<circle cx="246.20" cy="528.25" r="0.8" fill="#3fc44d"/>
<circle cx="247.64" cy="529.74" r="0.8" fill="#3fc44d"/>
<circle cx="246.20" cy="531.86" r="0.8" fill="#3fc44d"/>
<circle cx="246.20" cy="533.49" r="0.8" fill="#3fc44d"/>
<circle cx="249.08" cy="533.82" r="0.8" fill="#3fc44d"/>
<circle cx="246.20" cy="538.30" r="0.8" fill="#3fc44d"/>
<circle cx="249.08" cy="538.72" r="0.8" fill="#3fc44d"/>
<circle cx="246.20" cy="540.82" r="0.8" fill="#3fc44d"/>
<circle cx="249.08" cy="540.99" r="0.8" fill="#3fc44d"/>
<circle cx="246.20" cy="545.89" r="0.8" fill="#3fc44d"/>
<circle cx="246.20" cy="548.70" r="0.8" fill="#3fc44d"/>
<circle cx="247.64" cy="549.65" r="0.8" fill="#3fc44d"/>
<circle cx="246.20" cy="550.38" r="0.8" fill="#3fc44d"/>
<circle cx="249.08" cy="550.71" r="0.8" fill="#3fc44d"/>
<circle cx="243.32" cy="550.91" r="0.8" fill="#3fc44d"/>
<circle cx="247.64" cy="551.94" r="0.8" fill="#3fc44d"/>
<circle cx="244.76" cy="552.29" r="0.8" fill="#3fc44d"/>
<circle cx="250.52" cy="552.40" r="0.8" fill="#3fc44d"/>
<circle cx="241.88" cy="552.58" r="0.8" fill="#3fc44d"/>
<circle cx="246.20" cy="553.72" r="0.8" fill="#3fc44d"/>
<circle cx="249.08" cy="554.20" r="0.8" fill="#3fc44d"/>
<circle cx="246.20" cy="555.33" r="0.8" fill="#3fc44d"/>
<circle cx="243.32" cy="555.52" r="0.8" fill="#3fc44d"/>
<circle cx="247.64" cy="556.17" r="0.8" fill="#3fc44d"/>
<circle cx="250.52" cy="556.17" r="0.8" fill="#3fc44d"/>
<circle cx="244.76" cy="556.39" r="0.8" fill="#3fc44d"/>
<circle cx="241.88" cy="556.48" r="0.8" fill="#3fc44d"/>
<circle cx="253.40" cy="556.71" r="0.8" fill="#3fc44d"/>
<circle cx="246.20" cy="557.55" r="0.8" fill="#3fc44d"/>
<circle cx="249.08" cy="558.11" r="0.8" fill="#3fc44d"/>
<circle cx="244.76" cy="558.31" r="0.8" fill="#3fc44d"/>
<circle cx="246.20" cy="560.51" r="0.8" fill="#3fc44d"/>
<circle cx="249.08" cy="560.98" r="0.8" fill="#3fc44d"/>
<circle cx="244.76" cy="561.27" r="0.8" fill="#3fc44d"/>
<circle cx="247.64" cy="562.03" r="0.8" fill="#3fc44d"/>
<circle cx="243.32" cy="562.65" r="0.8" fill="#3fc44d"/>
<circle cx="246.20" cy="563.54" r="0.8" fill="#3fc44d"/>
<circle cx="249.08" cy="563.98" r="0.8" fill="#3fc44d"/>
<circle cx="244.76" cy="564.24" r="0.8" fill="#3fc44d"/>
<circle cx="247.64" cy="565.05" r="0.8" fill="#3fc44d"/>
<circle cx="243.32" cy="565.11" r="0.8" fill="#3fc44d"/>
<circle cx="250.52" cy="565.18" r="0.8" fill="#3fc44d"/>
<circle cx="246.20" cy="566.30" r="0.8" fill="#3fc44d"/>
<circle cx="249.08" cy="566.37" r="0.8" fill="#3fc44d"/>
<circle cx="241.88" cy="566.70" r="0.8" fill="#3fc44d"/>
<circle cx="251.96" cy="566.96" r="0.8" fill="#3fc44d"/>
<circle cx="247.64" cy="567.17" r="0.8" fill="#3fc44d"/>
<circle cx="246.20" cy="568.10" r="0.8" fill="#3fc44d"/>
<circle cx="246.20" cy="569.91" r="0.8" fill="#3fc44d"/>
<circle cx="247.64" cy="571.23" r="0.8" fill="#3fc44d"/>
<circle cx="244.76" cy="571.66" r="0.8" fill="#3fc44d"/>
<circle cx="250.52" cy="571.79" r="0.8" fill="#3fc44d"/>
<circle cx="241.88" cy="571.97" r="0.8" fill="#3fc44d"/>
<circle cx="253.40" cy="572.19" r="0.8" fill="#3fc44d"/>
<circle cx="239.00" cy="572.30" r="0.8" fill="#3fc44d"/>
<circle cx="246.20" cy="572.69" r="0.8" fill="#3fc44d"/>
<circle cx="249.08" cy="573.02" r="0.8" fill="#3fc44d"/>
<circle cx="247.64" cy="574.26" r="0.8" fill="#3fc44d"/>
<circle cx="244.76" cy="574.77" r="0.8" fill="#3fc44d"/>
<circle cx="249.08" cy="575.08" r="0.8" fill="#3fc44d"/>
<circle cx="246.20" cy="576.39" r="0.8" fill="#3fc44d"/>
<circle cx="249.08" cy="576.84" r="0.8" fill="#3fc44d"/>
<circle cx="247.64" cy="577.55" r="0.8" fill="#3fc44d"/>
<circle cx="244.76" cy="577.72" r="0.8" fill="#3fc44d"/>
<circle cx="250.52" cy="577.91" r="0.8" fill="#3fc44d"/>
<circle cx="241.88" cy="577.95" r="0.8" fill="#3fc44d"/>
<circle cx="253.40" cy="577.99" r="0.8" fill="#3fc44d"/>
<circle cx="246.20" cy="578.60" r="0.8" fill="#3fc44d"/>
<circle cx="247.64" cy="579.31" r="0.8" fill="#3fc44d"/>
<circle cx="244.76" cy="579.68" r="0.8" fill="#3fc44d"/>
<circle cx="249.08" cy="580.17" r="0.8" fill="#3fc44d"/>
<circle cx="246.20" cy="580.83" r="0.8" fill="#3fc44d"/>
<circle cx="246.20" cy="584.40" r="0.8" fill="#3fc44d"/>
<circle cx="247.64" cy="585.34" r="0.8" fill="#3fc44d"/>
<circle cx="244.76" cy="585.88" r="0.8" fill="#3fc44d"/>
<circle cx="249.08" cy="586.47" r="0.8" fill="#3fc44d"/>
<circle cx="246.20" cy="587.31" r="0.8" fill="#3fc44d"/>
<circle cx="243.32" cy="587.91" r="0.8" fill="#3fc44d"/>
<circle cx="247.64" cy="588.91" r="0.8" fill="#3fc44d"/>
<circle cx="246.20" cy="590.24" r="0.8" fill="#3fc44d"/>
<circle cx="249.08" cy="590.27" r="0.8" fill="#3fc44d"/>
<circle cx="247.64" cy="591.00" r="0.8" fill="#3fc44d"/>
<circle cx="246.20" cy="591.98" r="0.8" fill="#3fc44d"/>
<line x1="246.50" y1="599.50" x2="246.50" y2="603.00" stroke="#231f20" stroke-width="1.35" />
<line x1="267.50" y1="500.00" x2="267.50" y2="510.90" stroke="#333" stroke-width="1" />
<line x1="267.50" y1="516.70" x2="267.50" y2="552.30" stroke="#333" stroke-width="1" />
<line x1="267.50" y1="581.20" x2="267.50" y2="593.20" stroke="#333" stroke-width="1" />
<line x1="264.00" y1="500.00" x2="271.00" y2="500.00" stroke="#231f20" stroke-width="1.3" />
<line x1="264.00" y1="593.20" x2="271.00" y2="593.20" stroke="#231f20" stroke-width="1.3" />
<rect x="260.90" y="552.30" width="13.60" height="28.90" fill="#c52033"/>
<line x1="260.90" y1="568.50" x2="274.50" y2="568.50" stroke="#111" stroke-width="1.1" />
<circle cx="267.70" cy="538.26" r="0.75" fill="#5b3a8e"/>
<circle cx="269.32" cy="539.40" r="0.75" fill="#5b3a8e"/>
<circle cx="267.70" cy="550.31" r="0.75" fill="#5b3a8e"/>
<circle cx="267.70" cy="552.27" r="0.75" fill="#5b3a8e"/>
<circle cx="267.70" cy="555.35" r="0.75" fill="#5b3a8e"/>
<circle cx="269.64" cy="555.89" r="0.75" fill="#5b3a8e"/>
<circle cx="266.08" cy="556.44" r="0.75" fill="#5b3a8e"/>
<circle cx="265.90" cy="557.17" r="0.75" fill="#5b3a8e"/>
<circle cx="267.70" cy="559.19" r="0.75" fill="#5b3a8e"/>
<circle cx="267.44" cy="559.73" r="0.75" fill="#5b3a8e"/>
<circle cx="267.70" cy="561.66" r="0.75" fill="#5b3a8e"/>
<circle cx="267.70" cy="566.21" r="0.75" fill="#5b3a8e"/>
<circle cx="267.70" cy="574.20" r="0.75" fill="#5b3a8e"/>
<circle cx="267.70" cy="581.28" r="0.75" fill="#5b3a8e"/>
<circle cx="269.32" cy="582.44" r="0.75" fill="#5b3a8e"/>
<circle cx="267.70" cy="590.88" r="0.75" fill="#5b3a8e"/>
<circle cx="269.32" cy="591.92" r="0.75" fill="#5b3a8e"/>
<circle cx="266.08" cy="592.03" r="0.75" fill="#5b3a8e"/>
<line x1="267.50" y1="599.50" x2="267.50" y2="603.00" stroke="#231f20" stroke-width="1.35" />
<line x1="290.50" y1="496.30" x2="290.50" y2="510.90" stroke="#333" stroke-width="1" />
<line x1="290.50" y1="516.70" x2="290.50" y2="546.80" stroke="#333" stroke-width="1" />
<line x1="290.50" y1="571.70" x2="290.50" y2="587.70" stroke="#333" stroke-width="1" />
<line x1="287.00" y1="496.30" x2="294.00" y2="496.30" stroke="#231f20" stroke-width="1.3" />
<line x1="287.00" y1="587.70" x2="294.00" y2="587.70" stroke="#231f20" stroke-width="1.3" />
<rect x="284.00" y="546.80" width="13.60" height="24.90" fill="#0d5489"/>
<line x1="284.00" y1="561.50" x2="297.60" y2="561.50" stroke="#111" stroke-width="1.1" />
<circle cx="290.80" cy="519.86" r="0.8" fill="#3fc44d"/>
<circle cx="290.80" cy="522.88" r="0.8" fill="#3fc44d"/>
<circle cx="290.80" cy="527.71" r="0.8" fill="#3fc44d"/>
<circle cx="293.68" cy="527.89" r="0.8" fill="#3fc44d"/>
<circle cx="290.80" cy="529.59" r="0.8" fill="#3fc44d"/>
<circle cx="290.80" cy="531.58" r="0.8" fill="#3fc44d"/>
<circle cx="292.24" cy="532.90" r="0.8" fill="#3fc44d"/>
<circle cx="290.80" cy="535.36" r="0.8" fill="#3fc44d"/>
<circle cx="290.80" cy="538.87" r="0.8" fill="#3fc44d"/>
<circle cx="290.80" cy="541.09" r="0.8" fill="#3fc44d"/>
<circle cx="290.80" cy="542.74" r="0.8" fill="#3fc44d"/>
<circle cx="293.68" cy="543.07" r="0.8" fill="#3fc44d"/>
<circle cx="287.92" cy="543.32" r="0.8" fill="#3fc44d"/>
<circle cx="296.56" cy="543.61" r="0.8" fill="#3fc44d"/>
<circle cx="285.04" cy="543.75" r="0.8" fill="#3fc44d"/>
<circle cx="290.80" cy="544.71" r="0.8" fill="#3fc44d"/>
<circle cx="293.68" cy="544.76" r="0.8" fill="#3fc44d"/>
<circle cx="292.24" cy="545.77" r="0.8" fill="#3fc44d"/>
<circle cx="289.36" cy="545.91" r="0.8" fill="#3fc44d"/>
<circle cx="290.80" cy="546.80" r="0.8" fill="#3fc44d"/>
<circle cx="293.68" cy="547.20" r="0.8" fill="#3fc44d"/>
<circle cx="292.24" cy="548.21" r="0.8" fill="#3fc44d"/>
<circle cx="289.36" cy="548.22" r="0.8" fill="#3fc44d"/>
<circle cx="295.12" cy="548.23" r="0.8" fill="#3fc44d"/>
<circle cx="290.80" cy="549.21" r="0.8" fill="#3fc44d"/>
<circle cx="293.68" cy="549.23" r="0.8" fill="#3fc44d"/>
<circle cx="287.92" cy="549.64" r="0.8" fill="#3fc44d"/>
<circle cx="292.24" cy="550.35" r="0.8" fill="#3fc44d"/>
<circle cx="289.36" cy="550.40" r="0.8" fill="#3fc44d"/>
<circle cx="295.12" cy="550.68" r="0.8" fill="#3fc44d"/>
<circle cx="286.48" cy="550.98" r="0.8" fill="#3fc44d"/>
<circle cx="290.80" cy="551.82" r="0.8" fill="#3fc44d"/>
<circle cx="293.68" cy="552.06" r="0.8" fill="#3fc44d"/>
<circle cx="287.92" cy="552.32" r="0.8" fill="#3fc44d"/>
<circle cx="292.24" cy="553.22" r="0.8" fill="#3fc44d"/>
<circle cx="289.36" cy="553.43" r="0.8" fill="#3fc44d"/>
<circle cx="295.12" cy="553.55" r="0.8" fill="#3fc44d"/>
<circle cx="286.48" cy="553.93" r="0.8" fill="#3fc44d"/>
<circle cx="298.00" cy="554.01" r="0.8" fill="#3fc44d"/>
<circle cx="283.60" cy="554.11" r="0.8" fill="#3fc44d"/>
<circle cx="290.80" cy="554.72" r="0.8" fill="#3fc44d"/>
<circle cx="293.68" cy="555.13" r="0.8" fill="#3fc44d"/>
<circle cx="287.92" cy="555.26" r="0.8" fill="#3fc44d"/>
<circle cx="292.24" cy="555.87" r="0.8" fill="#3fc44d"/>
<circle cx="290.80" cy="557.05" r="0.8" fill="#3fc44d"/>
<circle cx="292.24" cy="558.06" r="0.8" fill="#3fc44d"/>
<circle cx="289.36" cy="558.69" r="0.8" fill="#3fc44d"/>
<circle cx="295.12" cy="558.69" r="0.8" fill="#3fc44d"/>
<circle cx="286.48" cy="559.03" r="0.8" fill="#3fc44d"/>
<circle cx="290.80" cy="560.58" r="0.8" fill="#3fc44d"/>
<circle cx="290.80" cy="562.44" r="0.8" fill="#3fc44d"/>
<circle cx="293.68" cy="562.45" r="0.8" fill="#3fc44d"/>
<circle cx="292.24" cy="563.44" r="0.8" fill="#3fc44d"/>
<circle cx="290.80" cy="564.57" r="0.8" fill="#3fc44d"/>
<circle cx="293.68" cy="564.89" r="0.8" fill="#3fc44d"/>
<circle cx="290.80" cy="566.89" r="0.8" fill="#3fc44d"/>
<circle cx="293.68" cy="567.29" r="0.8" fill="#3fc44d"/>
<circle cx="289.36" cy="567.71" r="0.8" fill="#3fc44d"/>
<circle cx="286.48" cy="567.77" r="0.8" fill="#3fc44d"/>
<circle cx="292.24" cy="568.48" r="0.8" fill="#3fc44d"/>
<circle cx="287.92" cy="569.09" r="0.8" fill="#3fc44d"/>
<circle cx="295.12" cy="569.12" r="0.8" fill="#3fc44d"/>
<circle cx="290.80" cy="569.29" r="0.8" fill="#3fc44d"/>
<circle cx="293.68" cy="569.83" r="0.8" fill="#3fc44d"/>
<circle cx="286.48" cy="569.93" r="0.8" fill="#3fc44d"/>
<circle cx="290.80" cy="571.17" r="0.8" fill="#3fc44d"/>
<circle cx="287.92" cy="571.17" r="0.8" fill="#3fc44d"/>
<circle cx="293.68" cy="571.48" r="0.8" fill="#3fc44d"/>
<circle cx="296.56" cy="571.65" r="0.8" fill="#3fc44d"/>
<circle cx="285.04" cy="571.73" r="0.8" fill="#3fc44d"/>
<circle cx="289.36" cy="571.91" r="0.8" fill="#3fc44d"/>
<circle cx="285.59" cy="571.97" r="0.8" fill="#3fc44d"/>
<circle cx="290.80" cy="573.16" r="0.8" fill="#3fc44d"/>
<circle cx="292.24" cy="573.90" r="0.8" fill="#3fc44d"/>
<circle cx="290.80" cy="574.81" r="0.8" fill="#3fc44d"/>
<circle cx="292.24" cy="575.87" r="0.8" fill="#3fc44d"/>
<circle cx="290.80" cy="576.96" r="0.8" fill="#3fc44d"/>
<circle cx="293.68" cy="577.24" r="0.8" fill="#3fc44d"/>
<circle cx="290.80" cy="578.82" r="0.8" fill="#3fc44d"/>
<circle cx="290.80" cy="581.23" r="0.8" fill="#3fc44d"/>
<circle cx="293.68" cy="581.51" r="0.8" fill="#3fc44d"/>
<circle cx="287.92" cy="581.74" r="0.8" fill="#3fc44d"/>
<circle cx="290.80" cy="583.38" r="0.8" fill="#3fc44d"/>
<circle cx="293.68" cy="583.40" r="0.8" fill="#3fc44d"/>
<circle cx="287.92" cy="584.06" r="0.8" fill="#3fc44d"/>
<circle cx="292.24" cy="584.56" r="0.8" fill="#3fc44d"/>
<circle cx="295.12" cy="584.73" r="0.8" fill="#3fc44d"/>
<circle cx="290.80" cy="585.59" r="0.8" fill="#3fc44d"/>
<line x1="290.50" y1="599.50" x2="290.50" y2="603.00" stroke="#231f20" stroke-width="1.35" />
<line x1="312.50" y1="507.70" x2="312.50" y2="510.90" stroke="#333" stroke-width="1" />
<line x1="312.50" y1="516.70" x2="312.50" y2="552.30" stroke="#333" stroke-width="1" />
<line x1="312.50" y1="577.00" x2="312.50" y2="587.70" stroke="#333" stroke-width="1" />
<line x1="309.00" y1="507.70" x2="316.00" y2="507.70" stroke="#231f20" stroke-width="1.3" />
<line x1="309.00" y1="587.70" x2="316.00" y2="587.70" stroke="#231f20" stroke-width="1.3" />
<rect x="306.10" y="552.30" width="13.60" height="24.70" fill="#c52033"/>
<line x1="306.10" y1="575.50" x2="319.70" y2="575.50" stroke="#111" stroke-width="1.1" />
<circle cx="312.90" cy="536.39" r="0.75" fill="#5b3a8e"/>
<circle cx="314.52" cy="537.72" r="0.75" fill="#5b3a8e"/>
<circle cx="312.90" cy="540.36" r="0.75" fill="#5b3a8e"/>
<circle cx="312.90" cy="551.47" r="0.75" fill="#5b3a8e"/>
<circle cx="314.52" cy="552.41" r="0.75" fill="#5b3a8e"/>
<circle cx="312.90" cy="556.34" r="0.75" fill="#5b3a8e"/>
<circle cx="312.90" cy="561.37" r="0.75" fill="#5b3a8e"/>
<circle cx="314.76" cy="561.47" r="0.75" fill="#5b3a8e"/>
<circle cx="312.90" cy="563.31" r="0.75" fill="#5b3a8e"/>
<circle cx="314.52" cy="565.04" r="0.75" fill="#5b3a8e"/>
<circle cx="311.28" cy="565.14" r="0.75" fill="#5b3a8e"/>
<circle cx="312.90" cy="566.99" r="0.75" fill="#5b3a8e"/>
<circle cx="312.90" cy="572.84" r="0.75" fill="#5b3a8e"/>
<circle cx="312.90" cy="577.16" r="0.75" fill="#5b3a8e"/>
<circle cx="314.52" cy="578.95" r="0.75" fill="#5b3a8e"/>
<circle cx="311.28" cy="579.52" r="0.75" fill="#5b3a8e"/>
<circle cx="312.90" cy="583.42" r="0.75" fill="#5b3a8e"/>
<circle cx="315.17" cy="583.97" r="0.75" fill="#5b3a8e"/>
<line x1="312.50" y1="599.50" x2="312.50" y2="603.00" stroke="#231f20" stroke-width="1.35" />
<line x1="335.50" y1="521.00" x2="335.50" y2="560.00" stroke="#333" stroke-width="1" />
<line x1="335.50" y1="582.20" x2="335.50" y2="595.40" stroke="#333" stroke-width="1" />
<line x1="332.00" y1="521.00" x2="339.00" y2="521.00" stroke="#231f20" stroke-width="1.3" />
<line x1="332.00" y1="595.40" x2="339.00" y2="595.40" stroke="#231f20" stroke-width="1.3" />
<rect x="328.60" y="560.00" width="13.60" height="22.20" fill="#0d5489"/>
<line x1="328.60" y1="571.50" x2="342.20" y2="571.50" stroke="#111" stroke-width="1.1" />
<circle cx="335.40" cy="531.20" r="0.8" fill="#3fc44d"/>
<circle cx="335.40" cy="538.43" r="0.8" fill="#3fc44d"/>
<circle cx="338.28" cy="539.08" r="0.8" fill="#3fc44d"/>
<circle cx="335.40" cy="547.41" r="0.8" fill="#3fc44d"/>
<circle cx="338.28" cy="547.68" r="0.8" fill="#3fc44d"/>
<circle cx="335.40" cy="558.47" r="0.8" fill="#3fc44d"/>
<circle cx="338.28" cy="558.83" r="0.8" fill="#3fc44d"/>
<circle cx="336.84" cy="559.66" r="0.8" fill="#3fc44d"/>
<circle cx="335.40" cy="560.39" r="0.8" fill="#3fc44d"/>
<circle cx="338.28" cy="560.46" r="0.8" fill="#3fc44d"/>
<circle cx="332.52" cy="560.67" r="0.8" fill="#3fc44d"/>
<circle cx="335.40" cy="562.14" r="0.8" fill="#3fc44d"/>
<circle cx="338.28" cy="562.28" r="0.8" fill="#3fc44d"/>
<circle cx="335.40" cy="564.05" r="0.8" fill="#3fc44d"/>
<circle cx="338.28" cy="564.33" r="0.8" fill="#3fc44d"/>
<circle cx="333.96" cy="564.97" r="0.8" fill="#3fc44d"/>
<circle cx="336.84" cy="565.56" r="0.8" fill="#3fc44d"/>
<circle cx="335.40" cy="570.98" r="0.8" fill="#3fc44d"/>
<circle cx="338.28" cy="571.40" r="0.8" fill="#3fc44d"/>
<circle cx="332.52" cy="571.61" r="0.8" fill="#3fc44d"/>
<circle cx="341.16" cy="571.78" r="0.8" fill="#3fc44d"/>
<circle cx="329.64" cy="571.93" r="0.8" fill="#3fc44d"/>
<circle cx="335.40" cy="572.80" r="0.8" fill="#3fc44d"/>
<circle cx="338.28" cy="573.31" r="0.8" fill="#3fc44d"/>
<circle cx="335.40" cy="575.52" r="0.8" fill="#3fc44d"/>
<circle cx="335.40" cy="578.14" r="0.8" fill="#3fc44d"/>
<circle cx="335.40" cy="581.48" r="0.8" fill="#3fc44d"/>
<circle cx="336.84" cy="582.76" r="0.8" fill="#3fc44d"/>
<circle cx="333.96" cy="582.87" r="0.8" fill="#3fc44d"/>
<circle cx="339.72" cy="582.95" r="0.8" fill="#3fc44d"/>
<circle cx="335.40" cy="584.15" r="0.8" fill="#3fc44d"/>
<circle cx="336.84" cy="585.61" r="0.8" fill="#3fc44d"/>
<circle cx="335.40" cy="587.92" r="0.8" fill="#3fc44d"/>
<circle cx="338.28" cy="588.21" r="0.8" fill="#3fc44d"/>
<circle cx="335.40" cy="592.75" r="0.8" fill="#3fc44d"/>
<line x1="335.50" y1="599.50" x2="335.50" y2="603.00" stroke="#231f20" stroke-width="1.35" />
<line x1="357.50" y1="507.70" x2="357.50" y2="510.90" stroke="#333" stroke-width="1" />
<line x1="357.50" y1="516.70" x2="357.50" y2="554.50" stroke="#333" stroke-width="1" />
<line x1="357.50" y1="582.50" x2="357.50" y2="591.40" stroke="#333" stroke-width="1" />
<line x1="354.00" y1="507.70" x2="361.00" y2="507.70" stroke="#231f20" stroke-width="1.3" />
<line x1="354.00" y1="591.40" x2="361.00" y2="591.40" stroke="#231f20" stroke-width="1.3" />
<rect x="350.70" y="554.50" width="13.60" height="28.00" fill="#c52033"/>
<line x1="350.70" y1="574.50" x2="364.30" y2="574.50" stroke="#111" stroke-width="1.1" />
<circle cx="357.50" cy="534.04" r="0.75" fill="#5b3a8e"/>
<circle cx="357.50" cy="539.16" r="0.75" fill="#5b3a8e"/>
<circle cx="357.50" cy="550.09" r="0.75" fill="#5b3a8e"/>
<circle cx="359.12" cy="551.86" r="0.75" fill="#5b3a8e"/>
<circle cx="357.50" cy="559.10" r="0.75" fill="#5b3a8e"/>
<circle cx="357.50" cy="565.38" r="0.75" fill="#5b3a8e"/>
<circle cx="359.08" cy="565.58" r="0.75" fill="#5b3a8e"/>
<circle cx="355.88" cy="566.27" r="0.75" fill="#5b3a8e"/>
<circle cx="357.50" cy="569.22" r="0.75" fill="#5b3a8e"/>
<circle cx="357.50" cy="575.40" r="0.75" fill="#5b3a8e"/>
<circle cx="357.50" cy="577.63" r="0.75" fill="#5b3a8e"/>
<circle cx="359.24" cy="578.01" r="0.75" fill="#5b3a8e"/>
<circle cx="357.50" cy="580.75" r="0.75" fill="#5b3a8e"/>
<circle cx="357.50" cy="584.23" r="0.75" fill="#5b3a8e"/>
<circle cx="359.12" cy="585.06" r="0.75" fill="#5b3a8e"/>
<circle cx="357.50" cy="588.92" r="0.75" fill="#5b3a8e"/>
<circle cx="359.12" cy="590.26" r="0.75" fill="#5b3a8e"/>
<circle cx="357.50" cy="591.15" r="0.75" fill="#5b3a8e"/>
<line x1="357.50" y1="599.50" x2="357.50" y2="603.00" stroke="#231f20" stroke-width="1.35" />
<circle cx="242.00" cy="507.59" r="0.8" fill="#3fc44d"/>
<circle cx="243.50" cy="508.33" r="0.8" fill="#3fc44d"/>
<circle cx="245.00" cy="509.03" r="0.8" fill="#3fc44d"/>
<circle cx="246.50" cy="508.99" r="0.8" fill="#3fc44d"/>
<circle cx="248.00" cy="507.90" r="0.8" fill="#3fc44d"/>
<circle cx="249.50" cy="508.18" r="0.8" fill="#3fc44d"/>
<circle cx="251.00" cy="508.51" r="0.8" fill="#3fc44d"/>
<circle cx="286.50" cy="506.78" r="0.8" fill="#3fc44d"/>
<circle cx="288.00" cy="507.05" r="0.8" fill="#3fc44d"/>
<circle cx="289.50" cy="506.31" r="0.8" fill="#3fc44d"/>
<circle cx="291.00" cy="506.89" r="0.8" fill="#3fc44d"/>
<circle cx="292.50" cy="507.01" r="0.8" fill="#3fc44d"/>
<circle cx="294.00" cy="506.23" r="0.8" fill="#3fc44d"/>
<circle cx="295.50" cy="506.42" r="0.8" fill="#3fc44d"/>
<circle cx="289.00" cy="504.75" r="0.8" fill="#3fc44d"/>
<circle cx="291.00" cy="504.44" r="0.8" fill="#3fc44d"/>
<circle cx="293.00" cy="504.70" r="0.8" fill="#3fc44d"/>
<text transform="translate(246.20,610.60) scale(0.9,1)" font-size="8.9" text-anchor="middle" fill="#231f20">T0</text>
<text transform="translate(267.70,610.60) scale(0.9,1)" font-size="8.9" text-anchor="middle" fill="#231f20">T0</text>
<text transform="translate(290.80,610.60) scale(0.9,1)" font-size="8.9" text-anchor="middle" fill="#231f20">T24</text>
<text transform="translate(312.90,610.60) scale(0.9,1)" font-size="8.9" text-anchor="middle" fill="#231f20">T24</text>
<text transform="translate(335.40,610.60) scale(0.9,1)" font-size="8.9" text-anchor="middle" fill="#231f20">T72</text>
<text transform="translate(357.50,610.60) scale(0.9,1)" font-size="8.9" text-anchor="middle" fill="#231f20">T72</text>
<text x="0" y="0" transform="translate(215.80,541.50) rotate(-90)" font-size="10.4" text-anchor="middle" fill="#231f20" stroke="#231f20" stroke-width="0.5" textLength="105.7" lengthAdjust="spacingAndGlyphs"><tspan font-weight="bold" font-size="9.6">ADAMTS13</tspan><tspan font-size="10.2"> activity/VWF antigen</tspan></text>
<defs>
<linearGradient id="g1" x1="0" y1="0" x2="0" y2="1"><stop offset="0" stop-color="#6a4c9c" stop-opacity="0"/><stop offset="1" stop-color="#6a4c9c" stop-opacity="0.55"/></linearGradient>
<linearGradient id="g2" x1="0" y1="0" x2="0" y2="1"><stop offset="0" stop-color="#6a4c9c" stop-opacity="0.55"/><stop offset="1" stop-color="#5a3c8e" stop-opacity="0.78"/></linearGradient>
<linearGradient id="g2b" x1="0" y1="0" x2="0" y2="1"><stop offset="0" stop-color="#5e4094" stop-opacity="0.7"/><stop offset="1" stop-color="#4a2c80" stop-opacity="0.88"/></linearGradient>
<linearGradient id="g1b" x1="0" y1="0" x2="0" y2="1"><stop offset="0" stop-color="#6a4c9c" stop-opacity="0"/><stop offset="1" stop-color="#5e4094" stop-opacity="0.7"/></linearGradient>
<linearGradient id="g3" x1="0" y1="0" x2="0" y2="1"><stop offset="0" stop-color="#5a3c8e" stop-opacity="0.78"/><stop offset="1" stop-color="#3a1d6c" stop-opacity="1"/></linearGradient>
<linearGradient id="lh" x1="0" y1="0" x2="1" y2="0"><stop offset="0" stop-color="#fff" stop-opacity="0.5"/><stop offset="0.2" stop-color="#fff" stop-opacity="0"/><stop offset="0.8" stop-color="#fff" stop-opacity="0"/><stop offset="1" stop-color="#fff" stop-opacity="0.5"/></linearGradient>
<filter id="gb" x="-5%" y="-5%" width="110%" height="110%"><feGaussianBlur stdDeviation="0.7"/></filter>
</defs>
<g filter="url(#gb)">
<rect x="393.00" y="488.70" width="119.00" height="72.00" fill="#f5f4fa"/>
<rect x="393.90" y="490.70" width="7.4" height="68.90" fill="#6a4c9c" opacity="0.07"/>
<g opacity="0.9"><rect x="393.90" y="518.00" width="7.4" height="9" fill="url(#g1)"/>
<rect x="393.90" y="527.00" width="7.4" height="14.30" fill="url(#g2)"/>
<rect x="393.90" y="541.30" width="7.4" height="13.00" fill="url(#g3)"/>
<rect x="393.90" y="535.00" width="7.4" height="0.8" fill="#fff" opacity="0.16"/>
<rect x="393.90" y="537.10" width="7.4" height="0.8" fill="#fff" opacity="0.16"/>
<rect x="393.90" y="539.20" width="7.4" height="0.8" fill="#fff" opacity="0.16"/>
<rect x="393.90" y="541.30" width="7.4" height="0.8" fill="#fff" opacity="0.16"/>
<rect x="393.90" y="543.40" width="7.4" height="0.8" fill="#fff" opacity="0.16"/>
<rect x="393.90" y="545.50" width="7.4" height="0.8" fill="#fff" opacity="0.16"/>
<rect x="393.90" y="547.60" width="7.4" height="0.8" fill="#fff" opacity="0.16"/>
<rect x="393.90" y="549.70" width="7.4" height="0.8" fill="#fff" opacity="0.16"/>
<rect x="393.90" y="551.80" width="7.4" height="0.8" fill="#fff" opacity="0.16"/>
</g>
<rect x="393.90" y="554.30" width="7.4" height="1.4" fill="#f4f0fa" opacity="0.9"/>
<rect x="393.90" y="555.70" width="7.4" height="2" fill="#4a2c80" opacity="0.9"/>
<rect x="393.90" y="557.70" width="7.4" height="1" fill="#f4f0fa" opacity="0.8"/>
<rect x="393.90" y="558.70" width="7.4" height="1" fill="#6a4c9c" opacity="0.5"/>
<rect x="393.90" y="518.00" width="7.4" height="41.30" fill="url(#lh)"/>
<rect x="404.10" y="490.70" width="7.4" height="68.90" fill="#6a4c9c" opacity="0.07"/>
<g opacity="1"><rect x="404.10" y="513.00" width="7.4" height="9" fill="url(#g1)"/>
<rect x="404.10" y="522.00" width="7.4" height="19.30" fill="url(#g2)"/>
<rect x="404.10" y="541.30" width="7.4" height="13.00" fill="url(#g3)"/>
<rect x="404.10" y="530.00" width="7.4" height="0.8" fill="#fff" opacity="0.16"/>
<rect x="404.10" y="532.10" width="7.4" height="0.8" fill="#fff" opacity="0.16"/>
<rect x="404.10" y="534.20" width="7.4" height="0.8" fill="#fff" opacity="0.16"/>
<rect x="404.10" y="536.30" width="7.4" height="0.8" fill="#fff" opacity="0.16"/>
<rect x="404.10" y="538.40" width="7.4" height="0.8" fill="#fff" opacity="0.16"/>
<rect x="404.10" y="540.50" width="7.4" height="0.8" fill="#fff" opacity="0.16"/>
<rect x="404.10" y="542.60" width="7.4" height="0.8" fill="#fff" opacity="0.16"/>
<rect x="404.10" y="544.70" width="7.4" height="0.8" fill="#fff" opacity="0.16"/>
<rect x="404.10" y="546.80" width="7.4" height="0.8" fill="#fff" opacity="0.16"/>
<rect x="404.10" y="548.90" width="7.4" height="0.8" fill="#fff" opacity="0.16"/>
<rect x="404.10" y="551.00" width="7.4" height="0.8" fill="#fff" opacity="0.16"/>
<rect x="404.10" y="553.10" width="7.4" height="0.8" fill="#fff" opacity="0.16"/>
</g>
<rect x="404.10" y="554.30" width="7.4" height="1.4" fill="#f4f0fa" opacity="0.9"/>
<rect x="404.10" y="555.70" width="7.4" height="2" fill="#4a2c80" opacity="0.9"/>
<rect x="404.10" y="557.70" width="7.4" height="1" fill="#f4f0fa" opacity="0.8"/>
<rect x="404.10" y="558.70" width="7.4" height="1" fill="#6a4c9c" opacity="0.5"/>
<rect x="404.10" y="513.00" width="7.4" height="46.30" fill="url(#lh)"/>
<rect x="413.10" y="490.70" width="7.4" height="68.90" fill="#6a4c9c" opacity="0.07"/>
<g opacity="0.9"><rect x="413.10" y="517.00" width="7.4" height="9" fill="url(#g1)"/>
<rect x="413.10" y="526.00" width="7.4" height="15.30" fill="url(#g2)"/>
<rect x="413.10" y="541.30" width="7.4" height="13.00" fill="url(#g3)"/>
<rect x="413.10" y="534.00" width="7.4" height="0.8" fill="#fff" opacity="0.16"/>
<rect x="413.10" y="536.10" width="7.4" height="0.8" fill="#fff" opacity="0.16"/>
<rect x="413.10" y="538.20" width="7.4" height="0.8" fill="#fff" opacity="0.16"/>
<rect x="413.10" y="540.30" width="7.4" height="0.8" fill="#fff" opacity="0.16"/>
<rect x="413.10" y="542.40" width="7.4" height="0.8" fill="#fff" opacity="0.16"/>
<rect x="413.10" y="544.50" width="7.4" height="0.8" fill="#fff" opacity="0.16"/>
<rect x="413.10" y="546.60" width="7.4" height="0.8" fill="#fff" opacity="0.16"/>
<rect x="413.10" y="548.70" width="7.4" height="0.8" fill="#fff" opacity="0.16"/>
<rect x="413.10" y="550.80" width="7.4" height="0.8" fill="#fff" opacity="0.16"/>
<rect x="413.10" y="552.90" width="7.4" height="0.8" fill="#fff" opacity="0.16"/>
</g>
<rect x="413.10" y="554.30" width="7.4" height="1.4" fill="#f4f0fa" opacity="0.9"/>
<rect x="413.10" y="555.70" width="7.4" height="2" fill="#4a2c80" opacity="0.9"/>
<rect x="413.10" y="557.70" width="7.4" height="1" fill="#f4f0fa" opacity="0.8"/>
<rect x="413.10" y="558.70" width="7.4" height="1" fill="#6a4c9c" opacity="0.5"/>
<rect x="413.10" y="517.00" width="7.4" height="42.30" fill="url(#lh)"/>
<rect x="423.30" y="490.70" width="7.4" height="68.90" fill="#6a4c9c" opacity="0.07"/>
<rect x="422.80" y="554.50" width="8.4" height="6" rx="2" fill="#3e2072" opacity="0.95"/>
<rect x="423.30" y="553.00" width="7.4" height="2" rx="1" fill="#6a4c9c" opacity="0.6"/>
<rect x="423.30" y="557.50" width="7.4" height="0.8" fill="#fff" opacity="0.3"/>
<rect x="434.70" y="490.70" width="7.4" height="68.90" fill="#6a4c9c" opacity="0.07"/>
<g opacity="0.9"><rect x="434.70" y="516.00" width="7.4" height="9" fill="url(#g1)"/>
<rect x="434.70" y="525.00" width="7.4" height="16.30" fill="url(#g2)"/>
<rect x="434.70" y="541.30" width="7.4" height="13.00" fill="url(#g3)"/>
<rect x="434.70" y="533.00" width="7.4" height="0.8" fill="#fff" opacity="0.16"/>
<rect x="434.70" y="535.10" width="7.4" height="0.8" fill="#fff" opacity="0.16"/>
<rect x="434.70" y="537.20" width="7.4" height="0.8" fill="#fff" opacity="0.16"/>
<rect x="434.70" y="539.30" width="7.4" height="0.8" fill="#fff" opacity="0.16"/>
<rect x="434.70" y="541.40" width="7.4" height="0.8" fill="#fff" opacity="0.16"/>
<rect x="434.70" y="543.50" width="7.4" height="0.8" fill="#fff" opacity="0.16"/>
<rect x="434.70" y="545.60" width="7.4" height="0.8" fill="#fff" opacity="0.16"/>
<rect x="434.70" y="547.70" width="7.4" height="0.8" fill="#fff" opacity="0.16"/>
<rect x="434.70" y="549.80" width="7.4" height="0.8" fill="#fff" opacity="0.16"/>
<rect x="434.70" y="551.90" width="7.4" height="0.8" fill="#fff" opacity="0.16"/>
</g>
<rect x="434.70" y="554.30" width="7.4" height="1.4" fill="#f4f0fa" opacity="0.9"/>
<rect x="434.70" y="555.70" width="7.4" height="2" fill="#4a2c80" opacity="0.9"/>
<rect x="434.70" y="557.70" width="7.4" height="1" fill="#f4f0fa" opacity="0.8"/>
<rect x="434.70" y="558.70" width="7.4" height="1" fill="#6a4c9c" opacity="0.5"/>
<rect x="434.70" y="516.00" width="7.4" height="43.30" fill="url(#lh)"/>
<rect x="444.30" y="490.70" width="7.4" height="68.90" fill="#6a4c9c" opacity="0.07"/>
<g opacity="1"><rect x="444.30" y="514.00" width="7.4" height="9" fill="url(#g1)"/>
<rect x="444.30" y="523.00" width="7.4" height="18.30" fill="url(#g2)"/>
<rect x="444.30" y="541.30" width="7.4" height="13.00" fill="url(#g3)"/>
<rect x="444.30" y="531.00" width="7.4" height="0.8" fill="#fff" opacity="0.16"/>
<rect x="444.30" y="533.10" width="7.4" height="0.8" fill="#fff" opacity="0.16"/>
<rect x="444.30" y="535.20" width="7.4" height="0.8" fill="#fff" opacity="0.16"/>
<rect x="444.30" y="537.30" width="7.4" height="0.8" fill="#fff" opacity="0.16"/>
<rect x="444.30" y="539.40" width="7.4" height="0.8" fill="#fff" opacity="0.16"/>
<rect x="444.30" y="541.50" width="7.4" height="0.8" fill="#fff" opacity="0.16"/>
<rect x="444.30" y="543.60" width="7.4" height="0.8" fill="#fff" opacity="0.16"/>
<rect x="444.30" y="545.70" width="7.4" height="0.8" fill="#fff" opacity="0.16"/>
<rect x="444.30" y="547.80" width="7.4" height="0.8" fill="#fff" opacity="0.16"/>
<rect x="444.30" y="549.90" width="7.4" height="0.8" fill="#fff" opacity="0.16"/>
<rect x="444.30" y="552.00" width="7.4" height="0.8" fill="#fff" opacity="0.16"/>
</g>
<rect x="444.30" y="554.30" width="7.4" height="1.4" fill="#f4f0fa" opacity="0.9"/>
<rect x="444.30" y="555.70" width="7.4" height="2" fill="#4a2c80" opacity="0.9"/>
<rect x="444.30" y="557.70" width="7.4" height="1" fill="#f4f0fa" opacity="0.8"/>
<rect x="444.30" y="558.70" width="7.4" height="1" fill="#6a4c9c" opacity="0.5"/>
<rect x="444.30" y="514.00" width="7.4" height="45.30" fill="url(#lh)"/>
<rect x="453.80" y="490.70" width="7.4" height="68.90" fill="#6a4c9c" opacity="0.07"/>
<g opacity="0.45"><rect x="453.80" y="523.00" width="7.4" height="9" fill="url(#g1)"/>
<rect x="453.80" y="532.00" width="7.4" height="9.30" fill="url(#g2)"/>
<rect x="453.80" y="541.30" width="7.4" height="13.00" fill="url(#g3)"/>
<rect x="453.80" y="540.00" width="7.4" height="0.8" fill="#fff" opacity="0.16"/>
<rect x="453.80" y="542.10" width="7.4" height="0.8" fill="#fff" opacity="0.16"/>
<rect x="453.80" y="544.20" width="7.4" height="0.8" fill="#fff" opacity="0.16"/>
<rect x="453.80" y="546.30" width="7.4" height="0.8" fill="#fff" opacity="0.16"/>
<rect x="453.80" y="548.40" width="7.4" height="0.8" fill="#fff" opacity="0.16"/>
<rect x="453.80" y="550.50" width="7.4" height="0.8" fill="#fff" opacity="0.16"/>
<rect x="453.80" y="552.60" width="7.4" height="0.8" fill="#fff" opacity="0.16"/>
</g>
<rect x="453.80" y="554.30" width="7.4" height="1.4" fill="#f4f0fa" opacity="0.9"/>
<rect x="453.80" y="555.70" width="7.4" height="2" fill="#4a2c80" opacity="0.9"/>
<rect x="453.80" y="557.70" width="7.4" height="1" fill="#f4f0fa" opacity="0.8"/>
<rect x="453.80" y="558.70" width="7.4" height="1" fill="#6a4c9c" opacity="0.5"/>
<rect x="453.80" y="523.00" width="7.4" height="36.30" fill="url(#lh)"/>
<ellipse cx="457.5" cy="551.5" rx="3.9" ry="4.2" fill="#3e2072" opacity="0.8"/>
<rect x="464.30" y="490.70" width="7.4" height="68.90" fill="#6a4c9c" opacity="0.07"/>
<g opacity="1"><rect x="464.30" y="512.00" width="7.4" height="9" fill="url(#g1)"/>
<rect x="464.30" y="521.00" width="7.4" height="20.30" fill="url(#g2)"/>
<rect x="464.30" y="541.30" width="7.4" height="13.00" fill="url(#g3)"/>
<rect x="464.30" y="529.00" width="7.4" height="0.8" fill="#fff" opacity="0.16"/>
<rect x="464.30" y="531.10" width="7.4" height="0.8" fill="#fff" opacity="0.16"/>
<rect x="464.30" y="533.20" width="7.4" height="0.8" fill="#fff" opacity="0.16"/>
<rect x="464.30" y="535.30" width="7.4" height="0.8" fill="#fff" opacity="0.16"/>
<rect x="464.30" y="537.40" width="7.4" height="0.8" fill="#fff" opacity="0.16"/>
<rect x="464.30" y="539.50" width="7.4" height="0.8" fill="#fff" opacity="0.16"/>
<rect x="464.30" y="541.60" width="7.4" height="0.8" fill="#fff" opacity="0.16"/>
<rect x="464.30" y="543.70" width="7.4" height="0.8" fill="#fff" opacity="0.16"/>
<rect x="464.30" y="545.80" width="7.4" height="0.8" fill="#fff" opacity="0.16"/>
<rect x="464.30" y="547.90" width="7.4" height="0.8" fill="#fff" opacity="0.16"/>
<rect x="464.30" y="550.00" width="7.4" height="0.8" fill="#fff" opacity="0.16"/>
<rect x="464.30" y="552.10" width="7.4" height="0.8" fill="#fff" opacity="0.16"/>
</g>
<rect x="464.30" y="554.30" width="7.4" height="1.4" fill="#f4f0fa" opacity="0.9"/>
<rect x="464.30" y="555.70" width="7.4" height="2" fill="#4a2c80" opacity="0.9"/>
<rect x="464.30" y="557.70" width="7.4" height="1" fill="#f4f0fa" opacity="0.8"/>
<rect x="464.30" y="558.70" width="7.4" height="1" fill="#6a4c9c" opacity="0.5"/>
<rect x="464.30" y="512.00" width="7.4" height="47.30" fill="url(#lh)"/>
<rect x="474.30" y="490.70" width="7.4" height="68.90" fill="#6a4c9c" opacity="0.07"/>
<g opacity="0.95"><rect x="474.30" y="517.00" width="7.4" height="9" fill="url(#g1)"/>
<rect x="474.30" y="526.00" width="7.4" height="15.30" fill="url(#g2)"/>
<rect x="474.30" y="541.30" width="7.4" height="13.00" fill="url(#g3)"/>
<rect x="474.30" y="534.00" width="7.4" height="0.8" fill="#fff" opacity="0.16"/>
<rect x="474.30" y="536.10" width="7.4" height="0.8" fill="#fff" opacity="0.16"/>
<rect x="474.30" y="538.20" width="7.4" height="0.8" fill="#fff" opacity="0.16"/>
<rect x="474.30" y="540.30" width="7.4" height="0.8" fill="#fff" opacity="0.16"/>
<rect x="474.30" y="542.40" width="7.4" height="0.8" fill="#fff" opacity="0.16"/>
<rect x="474.30" y="544.50" width="7.4" height="0.8" fill="#fff" opacity="0.16"/>
<rect x="474.30" y="546.60" width="7.4" height="0.8" fill="#fff" opacity="0.16"/>
<rect x="474.30" y="548.70" width="7.4" height="0.8" fill="#fff" opacity="0.16"/>
<rect x="474.30" y="550.80" width="7.4" height="0.8" fill="#fff" opacity="0.16"/>
<rect x="474.30" y="552.90" width="7.4" height="0.8" fill="#fff" opacity="0.16"/>
</g>
<rect x="474.30" y="554.30" width="7.4" height="1.4" fill="#f4f0fa" opacity="0.9"/>
<rect x="474.30" y="555.70" width="7.4" height="2" fill="#4a2c80" opacity="0.9"/>
<rect x="474.30" y="557.70" width="7.4" height="1" fill="#f4f0fa" opacity="0.8"/>
<rect x="474.30" y="558.70" width="7.4" height="1" fill="#6a4c9c" opacity="0.5"/>
<rect x="474.30" y="517.00" width="7.4" height="42.30" fill="url(#lh)"/>
<rect x="483.90" y="490.70" width="7.4" height="68.90" fill="#6a4c9c" opacity="0.07"/>
<g opacity="0.9"><rect x="483.90" y="517.00" width="7.4" height="9" fill="url(#g1)"/>
<rect x="483.90" y="526.00" width="7.4" height="15.30" fill="url(#g2)"/>
<rect x="483.90" y="541.30" width="7.4" height="13.00" fill="url(#g3)"/>
<rect x="483.90" y="534.00" width="7.4" height="0.8" fill="#fff" opacity="0.16"/>
<rect x="483.90" y="536.10" width="7.4" height="0.8" fill="#fff" opacity="0.16"/>
<rect x="483.90" y="538.20" width="7.4" height="0.8" fill="#fff" opacity="0.16"/>
<rect x="483.90" y="540.30" width="7.4" height="0.8" fill="#fff" opacity="0.16"/>
<rect x="483.90" y="542.40" width="7.4" height="0.8" fill="#fff" opacity="0.16"/>
<rect x="483.90" y="544.50" width="7.4" height="0.8" fill="#fff" opacity="0.16"/>
<rect x="483.90" y="546.60" width="7.4" height="0.8" fill="#fff" opacity="0.16"/>
<rect x="483.90" y="548.70" width="7.4" height="0.8" fill="#fff" opacity="0.16"/>
<rect x="483.90" y="550.80" width="7.4" height="0.8" fill="#fff" opacity="0.16"/>
<rect x="483.90" y="552.90" width="7.4" height="0.8" fill="#fff" opacity="0.16"/>
</g>
<rect x="483.90" y="554.30" width="7.4" height="1.4" fill="#f4f0fa" opacity="0.9"/>
<rect x="483.90" y="555.70" width="7.4" height="2" fill="#4a2c80" opacity="0.9"/>
<rect x="483.90" y="557.70" width="7.4" height="1" fill="#f4f0fa" opacity="0.8"/>
<rect x="483.90" y="558.70" width="7.4" height="1" fill="#6a4c9c" opacity="0.5"/>
<rect x="483.90" y="517.00" width="7.4" height="42.30" fill="url(#lh)"/>
<rect x="493.50" y="490.70" width="7.4" height="68.90" fill="#6a4c9c" opacity="0.07"/>
<g opacity="0.95"><rect x="493.50" y="515.00" width="7.4" height="9" fill="url(#g1)"/>
<rect x="493.50" y="524.00" width="7.4" height="17.30" fill="url(#g2)"/>
<rect x="493.50" y="541.30" width="7.4" height="13.00" fill="url(#g3)"/>
<rect x="493.50" y="532.00" width="7.4" height="0.8" fill="#fff" opacity="0.16"/>
<rect x="493.50" y="534.10" width="7.4" height="0.8" fill="#fff" opacity="0.16"/>
<rect x="493.50" y="536.20" width="7.4" height="0.8" fill="#fff" opacity="0.16"/>
<rect x="493.50" y="538.30" width="7.4" height="0.8" fill="#fff" opacity="0.16"/>
<rect x="493.50" y="540.40" width="7.4" height="0.8" fill="#fff" opacity="0.16"/>
<rect x="493.50" y="542.50" width="7.4" height="0.8" fill="#fff" opacity="0.16"/>
<rect x="493.50" y="544.60" width="7.4" height="0.8" fill="#fff" opacity="0.16"/>
<rect x="493.50" y="546.70" width="7.4" height="0.8" fill="#fff" opacity="0.16"/>
<rect x="493.50" y="548.80" width="7.4" height="0.8" fill="#fff" opacity="0.16"/>
<rect x="493.50" y="550.90" width="7.4" height="0.8" fill="#fff" opacity="0.16"/>
<rect x="493.50" y="553.00" width="7.4" height="0.8" fill="#fff" opacity="0.16"/>
</g>
<rect x="493.50" y="554.30" width="7.4" height="1.4" fill="#f4f0fa" opacity="0.9"/>
<rect x="493.50" y="555.70" width="7.4" height="2" fill="#4a2c80" opacity="0.9"/>
<rect x="493.50" y="557.70" width="7.4" height="1" fill="#f4f0fa" opacity="0.8"/>
<rect x="493.50" y="558.70" width="7.4" height="1" fill="#6a4c9c" opacity="0.5"/>
<rect x="493.50" y="515.00" width="7.4" height="44.30" fill="url(#lh)"/>
<rect x="502.80" y="490.70" width="7.4" height="68.90" fill="#6a4c9c" opacity="0.07"/>
<g opacity="0.8"><rect x="502.80" y="518.00" width="7.4" height="9" fill="url(#g1)"/>
<rect x="502.80" y="527.00" width="7.4" height="14.30" fill="url(#g2)"/>
<rect x="502.80" y="541.30" width="7.4" height="13.00" fill="url(#g3)"/>
<rect x="502.80" y="535.00" width="7.4" height="0.8" fill="#fff" opacity="0.16"/>
<rect x="502.80" y="537.10" width="7.4" height="0.8" fill="#fff" opacity="0.16"/>
<rect x="502.80" y="539.20" width="7.4" height="0.8" fill="#fff" opacity="0.16"/>
<rect x="502.80" y="541.30" width="7.4" height="0.8" fill="#fff" opacity="0.16"/>
<rect x="502.80" y="543.40" width="7.4" height="0.8" fill="#fff" opacity="0.16"/>
<rect x="502.80" y="545.50" width="7.4" height="0.8" fill="#fff" opacity="0.16"/>
<rect x="502.80" y="547.60" width="7.4" height="0.8" fill="#fff" opacity="0.16"/>
<rect x="502.80" y="549.70" width="7.4" height="0.8" fill="#fff" opacity="0.16"/>
<rect x="502.80" y="551.80" width="7.4" height="0.8" fill="#fff" opacity="0.16"/>
</g>
<rect x="502.80" y="554.30" width="7.4" height="1.4" fill="#f4f0fa" opacity="0.9"/>
<rect x="502.80" y="555.70" width="7.4" height="2" fill="#4a2c80" opacity="0.9"/>
<rect x="502.80" y="557.70" width="7.4" height="1" fill="#f4f0fa" opacity="0.8"/>
<rect x="502.80" y="558.70" width="7.4" height="1" fill="#6a4c9c" opacity="0.5"/>
<rect x="502.80" y="518.00" width="7.4" height="41.30" fill="url(#lh)"/>
<rect x="393.00" y="567.00" width="119.00" height="70.50" fill="#f5f4fa"/>
<rect x="395.05" y="569.00" width="7.4" height="67.50" fill="#6a4c9c" opacity="0.12"/>
<g opacity="0.9"><rect x="395.05" y="592.00" width="7.4" height="9" fill="url(#g1b)"/>
<rect x="395.05" y="601.00" width="7.4" height="15.00" fill="url(#g2b)"/>
<rect x="395.05" y="616.00" width="7.4" height="13.00" fill="url(#g3)"/>
<rect x="395.05" y="609.00" width="7.4" height="0.8" fill="#fff" opacity="0.16"/>
<rect x="395.05" y="611.10" width="7.4" height="0.8" fill="#fff" opacity="0.16"/>
<rect x="395.05" y="613.20" width="7.4" height="0.8" fill="#fff" opacity="0.16"/>
<rect x="395.05" y="615.30" width="7.4" height="0.8" fill="#fff" opacity="0.16"/>
<rect x="395.05" y="617.40" width="7.4" height="0.8" fill="#fff" opacity="0.16"/>
<rect x="395.05" y="619.50" width="7.4" height="0.8" fill="#fff" opacity="0.16"/>
<rect x="395.05" y="621.60" width="7.4" height="0.8" fill="#fff" opacity="0.16"/>
<rect x="395.05" y="623.70" width="7.4" height="0.8" fill="#fff" opacity="0.16"/>
<rect x="395.05" y="625.80" width="7.4" height="0.8" fill="#fff" opacity="0.16"/>
<rect x="395.05" y="627.90" width="7.4" height="0.8" fill="#fff" opacity="0.16"/>
</g>
<rect x="395.05" y="629.00" width="7.4" height="1.4" fill="#f4f0fa" opacity="0.9"/>
<rect x="395.05" y="630.40" width="7.4" height="2" fill="#4a2c80" opacity="0.9"/>
<rect x="395.05" y="632.40" width="7.4" height="1" fill="#f4f0fa" opacity="0.8"/>
<rect x="395.05" y="633.40" width="7.4" height="1" fill="#6a4c9c" opacity="0.5"/>
<rect x="395.05" y="592.00" width="7.4" height="42.00" fill="url(#lh)"/>
<rect x="405.05" y="569.00" width="7.4" height="67.50" fill="#6a4c9c" opacity="0.12"/>
<g opacity="0.95"><rect x="405.05" y="592.00" width="7.4" height="9" fill="url(#g1b)"/>
<rect x="405.05" y="601.00" width="7.4" height="15.00" fill="url(#g2b)"/>
<rect x="405.05" y="616.00" width="7.4" height="13.00" fill="url(#g3)"/>
<rect x="405.05" y="609.00" width="7.4" height="0.8" fill="#fff" opacity="0.16"/>
<rect x="405.05" y="611.10" width="7.4" height="0.8" fill="#fff" opacity="0.16"/>
<rect x="405.05" y="613.20" width="7.4" height="0.8" fill="#fff" opacity="0.16"/>
<rect x="405.05" y="615.30" width="7.4" height="0.8" fill="#fff" opacity="0.16"/>
<rect x="405.05" y="617.40" width="7.4" height="0.8" fill="#fff" opacity="0.16"/>
<rect x="405.05" y="619.50" width="7.4" height="0.8" fill="#fff" opacity="0.16"/>
<rect x="405.05" y="621.60" width="7.4" height="0.8" fill="#fff" opacity="0.16"/>
<rect x="405.05" y="623.70" width="7.4" height="0.8" fill="#fff" opacity="0.16"/>
<rect x="405.05" y="625.80" width="7.4" height="0.8" fill="#fff" opacity="0.16"/>
<rect x="405.05" y="627.90" width="7.4" height="0.8" fill="#fff" opacity="0.16"/>
</g>
<rect x="405.05" y="629.00" width="7.4" height="1.4" fill="#f4f0fa" opacity="0.9"/>
<rect x="405.05" y="630.40" width="7.4" height="2" fill="#4a2c80" opacity="0.9"/>
<rect x="405.05" y="632.40" width="7.4" height="1" fill="#f4f0fa" opacity="0.8"/>
<rect x="405.05" y="633.40" width="7.4" height="1" fill="#6a4c9c" opacity="0.5"/>
<rect x="405.05" y="592.00" width="7.4" height="42.00" fill="url(#lh)"/>
<rect x="415.55" y="569.00" width="7.4" height="67.50" fill="#6a4c9c" opacity="0.12"/>
<g opacity="1"><rect x="415.55" y="589.00" width="7.4" height="9" fill="url(#g1b)"/>
<rect x="415.55" y="598.00" width="7.4" height="18.00" fill="url(#g2b)"/>
<rect x="415.55" y="616.00" width="7.4" height="13.00" fill="url(#g3)"/>
<rect x="415.55" y="606.00" width="7.4" height="0.8" fill="#fff" opacity="0.16"/>
<rect x="415.55" y="608.10" width="7.4" height="0.8" fill="#fff" opacity="0.16"/>
<rect x="415.55" y="610.20" width="7.4" height="0.8" fill="#fff" opacity="0.16"/>
<rect x="415.55" y="612.30" width="7.4" height="0.8" fill="#fff" opacity="0.16"/>
<rect x="415.55" y="614.40" width="7.4" height="0.8" fill="#fff" opacity="0.16"/>
<rect x="415.55" y="616.50" width="7.4" height="0.8" fill="#fff" opacity="0.16"/>
<rect x="415.55" y="618.60" width="7.4" height="0.8" fill="#fff" opacity="0.16"/>
<rect x="415.55" y="620.70" width="7.4" height="0.8" fill="#fff" opacity="0.16"/>
<rect x="415.55" y="622.80" width="7.4" height="0.8" fill="#fff" opacity="0.16"/>
<rect x="415.55" y="624.90" width="7.4" height="0.8" fill="#fff" opacity="0.16"/>
<rect x="415.55" y="627.00" width="7.4" height="0.8" fill="#fff" opacity="0.16"/>
</g>
<rect x="415.55" y="629.00" width="7.4" height="1.4" fill="#f4f0fa" opacity="0.9"/>
<rect x="415.55" y="630.40" width="7.4" height="2" fill="#4a2c80" opacity="0.9"/>
<rect x="415.55" y="632.40" width="7.4" height="1" fill="#f4f0fa" opacity="0.8"/>
<rect x="415.55" y="633.40" width="7.4" height="1" fill="#6a4c9c" opacity="0.5"/>
<rect x="415.55" y="589.00" width="7.4" height="45.00" fill="url(#lh)"/>
<rect x="425.80" y="569.00" width="7.4" height="67.50" fill="#6a4c9c" opacity="0.12"/>
<g opacity="1"><rect x="425.80" y="589.00" width="7.4" height="9" fill="url(#g1b)"/>
<rect x="425.80" y="598.00" width="7.4" height="18.00" fill="url(#g2b)"/>
<rect x="425.80" y="616.00" width="7.4" height="13.00" fill="url(#g3)"/>
<rect x="425.80" y="606.00" width="7.4" height="0.8" fill="#fff" opacity="0.16"/>
<rect x="425.80" y="608.10" width="7.4" height="0.8" fill="#fff" opacity="0.16"/>
<rect x="425.80" y="610.20" width="7.4" height="0.8" fill="#fff" opacity="0.16"/>
<rect x="425.80" y="612.30" width="7.4" height="0.8" fill="#fff" opacity="0.16"/>
<rect x="425.80" y="614.40" width="7.4" height="0.8" fill="#fff" opacity="0.16"/>
<rect x="425.80" y="616.50" width="7.4" height="0.8" fill="#fff" opacity="0.16"/>
<rect x="425.80" y="618.60" width="7.4" height="0.8" fill="#fff" opacity="0.16"/>
<rect x="425.80" y="620.70" width="7.4" height="0.8" fill="#fff" opacity="0.16"/>
<rect x="425.80" y="622.80" width="7.4" height="0.8" fill="#fff" opacity="0.16"/>
<rect x="425.80" y="624.90" width="7.4" height="0.8" fill="#fff" opacity="0.16"/>
<rect x="425.80" y="627.00" width="7.4" height="0.8" fill="#fff" opacity="0.16"/>
</g>
<rect x="425.80" y="629.00" width="7.4" height="1.4" fill="#f4f0fa" opacity="0.9"/>
<rect x="425.80" y="630.40" width="7.4" height="2" fill="#4a2c80" opacity="0.9"/>
<rect x="425.80" y="632.40" width="7.4" height="1" fill="#f4f0fa" opacity="0.8"/>
<rect x="425.80" y="633.40" width="7.4" height="1" fill="#6a4c9c" opacity="0.5"/>
<rect x="425.80" y="589.00" width="7.4" height="45.00" fill="url(#lh)"/>
<rect x="435.80" y="569.00" width="7.4" height="67.50" fill="#6a4c9c" opacity="0.12"/>
<g opacity="1"><rect x="435.80" y="586.00" width="7.4" height="9" fill="url(#g1b)"/>
<rect x="435.80" y="595.00" width="7.4" height="21.00" fill="url(#g2b)"/>
<rect x="435.80" y="616.00" width="7.4" height="13.00" fill="url(#g3)"/>
<rect x="435.80" y="603.00" width="7.4" height="0.8" fill="#fff" opacity="0.16"/>
<rect x="435.80" y="605.10" width="7.4" height="0.8" fill="#fff" opacity="0.16"/>
<rect x="435.80" y="607.20" width="7.4" height="0.8" fill="#fff" opacity="0.16"/>
<rect x="435.80" y="609.30" width="7.4" height="0.8" fill="#fff" opacity="0.16"/>
<rect x="435.80" y="611.40" width="7.4" height="0.8" fill="#fff" opacity="0.16"/>
<rect x="435.80" y="613.50" width="7.4" height="0.8" fill="#fff" opacity="0.16"/>
<rect x="435.80" y="615.60" width="7.4" height="0.8" fill="#fff" opacity="0.16"/>
<rect x="435.80" y="617.70" width="7.4" height="0.8" fill="#fff" opacity="0.16"/>
<rect x="435.80" y="619.80" width="7.4" height="0.8" fill="#fff" opacity="0.16"/>
<rect x="435.80" y="621.90" width="7.4" height="0.8" fill="#fff" opacity="0.16"/>
<rect x="435.80" y="624.00" width="7.4" height="0.8" fill="#fff" opacity="0.16"/>
<rect x="435.80" y="626.10" width="7.4" height="0.8" fill="#fff" opacity="0.16"/>
</g>
<rect x="435.80" y="629.00" width="7.4" height="1.4" fill="#f4f0fa" opacity="0.9"/>
<rect x="435.80" y="630.40" width="7.4" height="2" fill="#4a2c80" opacity="0.9"/>
<rect x="435.80" y="632.40" width="7.4" height="1" fill="#f4f0fa" opacity="0.8"/>
<rect x="435.80" y="633.40" width="7.4" height="1" fill="#6a4c9c" opacity="0.5"/>
<rect x="435.80" y="586.00" width="7.4" height="48.00" fill="url(#lh)"/>
<rect x="445.80" y="569.00" width="7.4" height="67.50" fill="#6a4c9c" opacity="0.12"/>
<g opacity="0.9"><rect x="445.80" y="593.00" width="7.4" height="9" fill="url(#g1b)"/>
<rect x="445.80" y="602.00" width="7.4" height="14.00" fill="url(#g2b)"/>
<rect x="445.80" y="616.00" width="7.4" height="13.00" fill="url(#g3)"/>
<rect x="445.80" y="610.00" width="7.4" height="0.8" fill="#fff" opacity="0.16"/>
<rect x="445.80" y="612.10" width="7.4" height="0.8" fill="#fff" opacity="0.16"/>
<rect x="445.80" y="614.20" width="7.4" height="0.8" fill="#fff" opacity="0.16"/>
<rect x="445.80" y="616.30" width="7.4" height="0.8" fill="#fff" opacity="0.16"/>
<rect x="445.80" y="618.40" width="7.4" height="0.8" fill="#fff" opacity="0.16"/>
<rect x="445.80" y="620.50" width="7.4" height="0.8" fill="#fff" opacity="0.16"/>
<rect x="445.80" y="622.60" width="7.4" height="0.8" fill="#fff" opacity="0.16"/>
<rect x="445.80" y="624.70" width="7.4" height="0.8" fill="#fff" opacity="0.16"/>
<rect x="445.80" y="626.80" width="7.4" height="0.8" fill="#fff" opacity="0.16"/>
</g>
<rect x="445.80" y="629.00" width="7.4" height="1.4" fill="#f4f0fa" opacity="0.9"/>
<rect x="445.80" y="630.40" width="7.4" height="2" fill="#4a2c80" opacity="0.9"/>
<rect x="445.80" y="632.40" width="7.4" height="1" fill="#f4f0fa" opacity="0.8"/>
<rect x="445.80" y="633.40" width="7.4" height="1" fill="#6a4c9c" opacity="0.5"/>
<rect x="445.80" y="593.00" width="7.4" height="41.00" fill="url(#lh)"/>
<rect x="455.80" y="569.00" width="7.4" height="67.50" fill="#6a4c9c" opacity="0.12"/>
<g opacity="0.95"><rect x="455.80" y="591.00" width="7.4" height="9" fill="url(#g1b)"/>
<rect x="455.80" y="600.00" width="7.4" height="16.00" fill="url(#g2b)"/>
<rect x="455.80" y="616.00" width="7.4" height="13.00" fill="url(#g3)"/>
<rect x="455.80" y="608.00" width="7.4" height="0.8" fill="#fff" opacity="0.16"/>
<rect x="455.80" y="610.10" width="7.4" height="0.8" fill="#fff" opacity="0.16"/>
<rect x="455.80" y="612.20" width="7.4" height="0.8" fill="#fff" opacity="0.16"/>
<rect x="455.80" y="614.30" width="7.4" height="0.8" fill="#fff" opacity="0.16"/>
<rect x="455.80" y="616.40" width="7.4" height="0.8" fill="#fff" opacity="0.16"/>
<rect x="455.80" y="618.50" width="7.4" height="0.8" fill="#fff" opacity="0.16"/>
<rect x="455.80" y="620.60" width="7.4" height="0.8" fill="#fff" opacity="0.16"/>
<rect x="455.80" y="622.70" width="7.4" height="0.8" fill="#fff" opacity="0.16"/>
<rect x="455.80" y="624.80" width="7.4" height="0.8" fill="#fff" opacity="0.16"/>
<rect x="455.80" y="626.90" width="7.4" height="0.8" fill="#fff" opacity="0.16"/>
</g>
<rect x="455.80" y="629.00" width="7.4" height="1.4" fill="#f4f0fa" opacity="0.9"/>
<rect x="455.80" y="630.40" width="7.4" height="2" fill="#4a2c80" opacity="0.9"/>
<rect x="455.80" y="632.40" width="7.4" height="1" fill="#f4f0fa" opacity="0.8"/>
<rect x="455.80" y="633.40" width="7.4" height="1" fill="#6a4c9c" opacity="0.5"/>
<rect x="455.80" y="591.00" width="7.4" height="43.00" fill="url(#lh)"/>
<rect x="465.80" y="569.00" width="7.4" height="67.50" fill="#6a4c9c" opacity="0.12"/>
<g opacity="1"><rect x="465.80" y="589.00" width="7.4" height="9" fill="url(#g1b)"/>
<rect x="465.80" y="598.00" width="7.4" height="18.00" fill="url(#g2b)"/>
<rect x="465.80" y="616.00" width="7.4" height="13.00" fill="url(#g3)"/>
<rect x="465.80" y="606.00" width="7.4" height="0.8" fill="#fff" opacity="0.16"/>
<rect x="465.80" y="608.10" width="7.4" height="0.8" fill="#fff" opacity="0.16"/>
<rect x="465.80" y="610.20" width="7.4" height="0.8" fill="#fff" opacity="0.16"/>
<rect x="465.80" y="612.30" width="7.4" height="0.8" fill="#fff" opacity="0.16"/>
<rect x="465.80" y="614.40" width="7.4" height="0.8" fill="#fff" opacity="0.16"/>
<rect x="465.80" y="616.50" width="7.4" height="0.8" fill="#fff" opacity="0.16"/>
<rect x="465.80" y="618.60" width="7.4" height="0.8" fill="#fff" opacity="0.16"/>
<rect x="465.80" y="620.70" width="7.4" height="0.8" fill="#fff" opacity="0.16"/>
<rect x="465.80" y="622.80" width="7.4" height="0.8" fill="#fff" opacity="0.16"/>
<rect x="465.80" y="624.90" width="7.4" height="0.8" fill="#fff" opacity="0.16"/>
<rect x="465.80" y="627.00" width="7.4" height="0.8" fill="#fff" opacity="0.16"/>
</g>
<rect x="465.80" y="629.00" width="7.4" height="1.4" fill="#f4f0fa" opacity="0.9"/>
<rect x="465.80" y="630.40" width="7.4" height="2" fill="#4a2c80" opacity="0.9"/>
<rect x="465.80" y="632.40" width="7.4" height="1" fill="#f4f0fa" opacity="0.8"/>
<rect x="465.80" y="633.40" width="7.4" height="1" fill="#6a4c9c" opacity="0.5"/>
<rect x="465.80" y="589.00" width="7.4" height="45.00" fill="url(#lh)"/>
<rect x="475.80" y="569.00" width="7.4" height="67.50" fill="#6a4c9c" opacity="0.12"/>
<g opacity="1"><rect x="475.80" y="590.00" width="7.4" height="9" fill="url(#g1b)"/>
<rect x="475.80" y="599.00" width="7.4" height="17.00" fill="url(#g2b)"/>
<rect x="475.80" y="616.00" width="7.4" height="13.00" fill="url(#g3)"/>
<rect x="475.80" y="607.00" width="7.4" height="0.8" fill="#fff" opacity="0.16"/>
<rect x="475.80" y="609.10" width="7.4" height="0.8" fill="#fff" opacity="0.16"/>
<rect x="475.80" y="611.20" width="7.4" height="0.8" fill="#fff" opacity="0.16"/>
<rect x="475.80" y="613.30" width="7.4" height="0.8" fill="#fff" opacity="0.16"/>
<rect x="475.80" y="615.40" width="7.4" height="0.8" fill="#fff" opacity="0.16"/>
<rect x="475.80" y="617.50" width="7.4" height="0.8" fill="#fff" opacity="0.16"/>
<rect x="475.80" y="619.60" width="7.4" height="0.8" fill="#fff" opacity="0.16"/>
<rect x="475.80" y="621.70" width="7.4" height="0.8" fill="#fff" opacity="0.16"/>
<rect x="475.80" y="623.80" width="7.4" height="0.8" fill="#fff" opacity="0.16"/>
<rect x="475.80" y="625.90" width="7.4" height="0.8" fill="#fff" opacity="0.16"/>
</g>
<rect x="475.80" y="629.00" width="7.4" height="1.4" fill="#f4f0fa" opacity="0.9"/>
<rect x="475.80" y="630.40" width="7.4" height="2" fill="#4a2c80" opacity="0.9"/>
<rect x="475.80" y="632.40" width="7.4" height="1" fill="#f4f0fa" opacity="0.8"/>
<rect x="475.80" y="633.40" width="7.4" height="1" fill="#6a4c9c" opacity="0.5"/>
<rect x="475.80" y="590.00" width="7.4" height="44.00" fill="url(#lh)"/>
<rect x="485.80" y="569.00" width="7.4" height="67.50" fill="#6a4c9c" opacity="0.12"/>
<g opacity="0.95"><rect x="485.80" y="592.00" width="7.4" height="9" fill="url(#g1b)"/>
<rect x="485.80" y="601.00" width="7.4" height="15.00" fill="url(#g2b)"/>
<rect x="485.80" y="616.00" width="7.4" height="13.00" fill="url(#g3)"/>
<rect x="485.80" y="609.00" width="7.4" height="0.8" fill="#fff" opacity="0.16"/>
<rect x="485.80" y="611.10" width="7.4" height="0.8" fill="#fff" opacity="0.16"/>
<rect x="485.80" y="613.20" width="7.4" height="0.8" fill="#fff" opacity="0.16"/>
<rect x="485.80" y="615.30" width="7.4" height="0.8" fill="#fff" opacity="0.16"/>
<rect x="485.80" y="617.40" width="7.4" height="0.8" fill="#fff" opacity="0.16"/>
<rect x="485.80" y="619.50" width="7.4" height="0.8" fill="#fff" opacity="0.16"/>
<rect x="485.80" y="621.60" width="7.4" height="0.8" fill="#fff" opacity="0.16"/>
<rect x="485.80" y="623.70" width="7.4" height="0.8" fill="#fff" opacity="0.16"/>
<rect x="485.80" y="625.80" width="7.4" height="0.8" fill="#fff" opacity="0.16"/>
<rect x="485.80" y="627.90" width="7.4" height="0.8" fill="#fff" opacity="0.16"/>
</g>
<rect x="485.80" y="629.00" width="7.4" height="1.4" fill="#f4f0fa" opacity="0.9"/>
<rect x="485.80" y="630.40" width="7.4" height="2" fill="#4a2c80" opacity="0.9"/>
<rect x="485.80" y="632.40" width="7.4" height="1" fill="#f4f0fa" opacity="0.8"/>
<rect x="485.80" y="633.40" width="7.4" height="1" fill="#6a4c9c" opacity="0.5"/>
<rect x="485.80" y="592.00" width="7.4" height="42.00" fill="url(#lh)"/>
<rect x="495.05" y="569.00" width="7.4" height="67.50" fill="#6a4c9c" opacity="0.12"/>
<g opacity="1"><rect x="495.05" y="590.00" width="7.4" height="9" fill="url(#g1b)"/>
<rect x="495.05" y="599.00" width="7.4" height="17.00" fill="url(#g2b)"/>
<rect x="495.05" y="616.00" width="7.4" height="13.00" fill="url(#g3)"/>
<rect x="495.05" y="607.00" width="7.4" height="0.8" fill="#fff" opacity="0.16"/>
<rect x="495.05" y="609.10" width="7.4" height="0.8" fill="#fff" opacity="0.16"/>
<rect x="495.05" y="611.20" width="7.4" height="0.8" fill="#fff" opacity="0.16"/>
<rect x="495.05" y="613.30" width="7.4" height="0.8" fill="#fff" opacity="0.16"/>
<rect x="495.05" y="615.40" width="7.4" height="0.8" fill="#fff" opacity="0.16"/>
<rect x="495.05" y="617.50" width="7.4" height="0.8" fill="#fff" opacity="0.16"/>
<rect x="495.05" y="619.60" width="7.4" height="0.8" fill="#fff" opacity="0.16"/>
<rect x="495.05" y="621.70" width="7.4" height="0.8" fill="#fff" opacity="0.16"/>
<rect x="495.05" y="623.80" width="7.4" height="0.8" fill="#fff" opacity="0.16"/>
<rect x="495.05" y="625.90" width="7.4" height="0.8" fill="#fff" opacity="0.16"/>
</g>
<rect x="495.05" y="629.00" width="7.4" height="1.4" fill="#f4f0fa" opacity="0.9"/>
<rect x="495.05" y="630.40" width="7.4" height="2" fill="#4a2c80" opacity="0.9"/>
<rect x="495.05" y="632.40" width="7.4" height="1" fill="#f4f0fa" opacity="0.8"/>
<rect x="495.05" y="633.40" width="7.4" height="1" fill="#6a4c9c" opacity="0.5"/>
<rect x="495.05" y="590.00" width="7.4" height="44.00" fill="url(#lh)"/>
<rect x="503.80" y="569.00" width="7.4" height="67.50" fill="#6a4c9c" opacity="0.12"/>
<g opacity="0.85"><rect x="503.80" y="593.00" width="7.4" height="9" fill="url(#g1b)"/>
<rect x="503.80" y="602.00" width="7.4" height="14.00" fill="url(#g2b)"/>
<rect x="503.80" y="616.00" width="7.4" height="13.00" fill="url(#g3)"/>
<rect x="503.80" y="610.00" width="7.4" height="0.8" fill="#fff" opacity="0.16"/>
<rect x="503.80" y="612.10" width="7.4" height="0.8" fill="#fff" opacity="0.16"/>
<rect x="503.80" y="614.20" width="7.4" height="0.8" fill="#fff" opacity="0.16"/>
<rect x="503.80" y="616.30" width="7.4" height="0.8" fill="#fff" opacity="0.16"/>
<rect x="503.80" y="618.40" width="7.4" height="0.8" fill="#fff" opacity="0.16"/>
<rect x="503.80" y="620.50" width="7.4" height="0.8" fill="#fff" opacity="0.16"/>
<rect x="503.80" y="622.60" width="7.4" height="0.8" fill="#fff" opacity="0.16"/>
<rect x="503.80" y="624.70" width="7.4" height="0.8" fill="#fff" opacity="0.16"/>
<rect x="503.80" y="626.80" width="7.4" height="0.8" fill="#fff" opacity="0.16"/>
</g>
<rect x="503.80" y="629.00" width="7.4" height="1.4" fill="#f4f0fa" opacity="0.9"/>
<rect x="503.80" y="630.40" width="7.4" height="2" fill="#4a2c80" opacity="0.9"/>
<rect x="503.80" y="632.40" width="7.4" height="1" fill="#f4f0fa" opacity="0.8"/>
<rect x="503.80" y="633.40" width="7.4" height="1" fill="#6a4c9c" opacity="0.5"/>
<rect x="503.80" y="593.00" width="7.4" height="41.00" fill="url(#lh)"/>
</g>
<line x1="403.00" y1="493.70" x2="505.00" y2="493.70" stroke="#777" stroke-width="0.9" />
<rect x="395.5" y="490" width="7" height="7" fill="#fff" opacity="0.85"/>
<text x="398.90" y="496.20" font-size="7" text-anchor="middle" font-weight="bold" fill="#231f20" >C</text>
<rect x="506.5" y="490" width="6" height="7" fill="#fff" opacity="0.85"/>
<text x="509.90" y="496.20" font-size="7" text-anchor="middle" font-weight="bold" fill="#231f20" >C</text>
<text x="454.00" y="491.30" font-size="9.5" text-anchor="middle" font-weight="normal" fill="#231f20" >M</text>
<text x="398.75" y="577.30" font-size="6.5" text-anchor="middle" font-weight="bold" fill="#231f20" >C</text>
<text x="429.50" y="577.30" font-size="6.5" text-anchor="middle" font-weight="bold" fill="#231f20" >M</text>
<text x="439.50" y="577.30" font-size="6.5" text-anchor="middle" font-weight="bold" fill="#231f20" >M</text>
<text x="507.50" y="577.30" font-size="6.5" text-anchor="middle" font-weight="bold" fill="#231f20" >C</text>
<text x="388.50" y="483.80" font-size="12" text-anchor="middle" font-weight="bold" fill="#231f20" stroke="#231f20" stroke-width="0.4">I</text>
<rect x="94.80" y="625.00" width="29.20" height="7.30" fill="#0d5489"/>
<text x="127.00" y="632.60" font-size="11.2" text-anchor="start" font-weight="normal" fill="#231f20" textLength="47.5" lengthAdjust="spacingAndGlyphs">No MODS</text>
<rect x="269.60" y="625.00" width="29.20" height="7.30" fill="#c52033"/>
<text x="300.90" y="632.60" font-size="11.2" text-anchor="start" font-weight="normal" fill="#231f20" textLength="32.3" lengthAdjust="spacingAndGlyphs">MODS</text>
</svg></div></body></html>
